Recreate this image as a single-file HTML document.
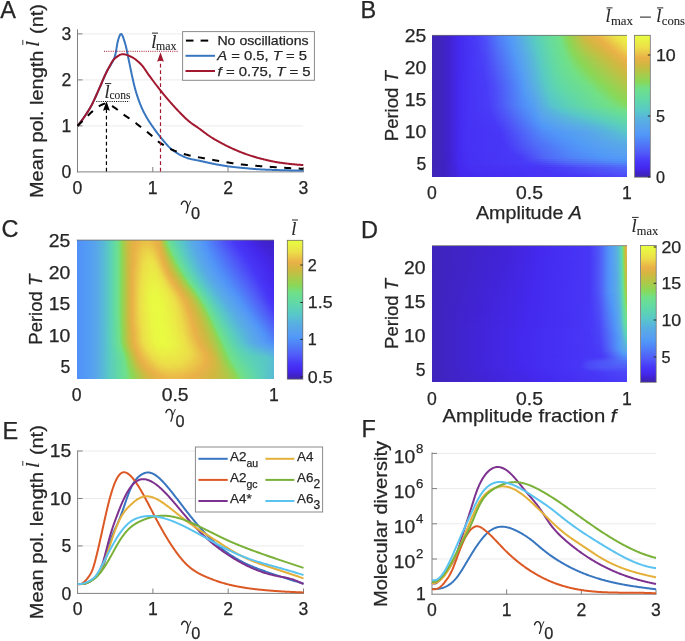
<!DOCTYPE html>
<html><head><meta charset="utf-8"><style>
html,body{margin:0;padding:0;background:#fff;}
#wrap{position:relative;width:685px;height:641px;overflow:hidden;background:#fff;}
svg{position:absolute;left:0;top:0;will-change:transform;}
text{font-family:"Liberation Sans",sans-serif;fill:#262626;stroke:#262626;stroke-width:0.25px;}
.sf{font-family:"Liberation Serif",serif;stroke-width:0.12px;}
</style></head><body><div id="wrap">
<div style="position:absolute;left:432px;top:35.3px;width:195px;height:141.9px;overflow:hidden"><div style="position:absolute;left:0;top:0px;width:195px;height:2.5px;background:linear-gradient(90deg,#3f25b6 0.0%,#3f24bf 4.9%,#4123d2 9.0%,#4429ee 13.6%,#493cf8 22.8%,#4e50f8 27.4%,#5083f8 35.1%,#529af6 40.3%,#58a5eb 43.3%,#58b9d7 47.9%,#59cac4 51.5%,#64daa0 59.2%,#70e088 65.4%,#88d859 69.0%,#c0c044 75.6%,#d3b741 78.2%,#e8b147 82.8%,#eab748 85.4%,#ecd548 91.0%,#ebe447 94.1%,#e9f642 100.0%)"></div><div style="position:absolute;left:0;top:2px;width:195px;height:2.5px;background:linear-gradient(90deg,#3f25b6 0.0%,#3f24bf 4.9%,#4123d2 9.0%,#4429ee 13.6%,#493cf8 22.8%,#4d4ff8 27.4%,#5082f8 35.1%,#529af6 40.3%,#58a4ec 43.3%,#58bad6 48.5%,#59cac3 52.1%,#63daa1 59.2%,#6fe089 65.4%,#7bdc72 67.4%,#89d757 69.5%,#c3be43 76.7%,#d5b741 79.2%,#e9b048 84.9%,#ebc848 90.0%,#ece247 94.6%,#eaf243 100.0%)"></div><div style="position:absolute;left:0;top:4px;width:195px;height:2.5px;background:linear-gradient(90deg,#3f25b6 0.0%,#3f24bf 4.9%,#4123d2 9.0%,#4429ee 13.6%,#493cf8 22.8%,#4d4ef8 27.4%,#507af8 34.1%,#529af6 40.8%,#58a4ec 43.8%,#58b8d8 48.5%,#59cbc2 52.6%,#64daa1 59.7%,#70e088 65.9%,#87d85a 69.5%,#bbc245 76.2%,#d3b741 79.7%,#eab048 86.4%,#ece248 95.6%,#eaee44 100.0%)"></div><div style="position:absolute;left:0;top:6px;width:195px;height:2.5px;background:linear-gradient(90deg,#3f25b6 0.0%,#3f24bf 4.9%,#4123d2 9.0%,#4429ee 13.6%,#493df8 23.3%,#4d4df8 27.4%,#5072f8 33.1%,#529af6 40.8%,#58a3ed 43.8%,#58b9d7 49.0%,#5acbc1 53.1%,#63daa2 59.7%,#6fe089 65.9%,#88d858 70.0%,#bec144 77.2%,#d2b741 80.8%,#eab148 87.9%,#ece148 96.7%,#ebea45 100.0%)"></div><div style="position:absolute;left:0;top:8px;width:195px;height:2.5px;background:linear-gradient(90deg,#3f25b6 0.0%,#3f24bf 4.9%,#4123d2 9.0%,#4429ee 13.6%,#493cf8 23.3%,#4d4ff8 27.9%,#5082f8 36.2%,#529af6 41.3%,#58a4ec 44.4%,#58b7d9 49.0%,#59cac3 53.1%,#64daa1 60.3%,#70e088 66.4%,#89d757 70.5%,#bdc245 77.7%,#d3b741 82.3%,#eab148 89.0%,#ece148 98.2%,#ebe646 100.0%)"></div><div style="position:absolute;left:0;top:10px;width:195px;height:2.5px;background:linear-gradient(90deg,#3f25b6 0.0%,#3f24bf 4.9%,#4123d2 9.0%,#4429ee 13.6%,#493cf8 23.3%,#4d4ef8 27.9%,#5078f8 34.6%,#5199f7 41.3%,#58a3ed 44.4%,#58b9d7 49.5%,#5acbc2 53.6%,#63daa2 60.3%,#70e089 66.4%,#87d85a 70.5%,#b8c446 77.7%,#d2b741 83.3%,#eab048 90.0%,#ece148 99.7%,#ece248 100.0%)"></div><div style="position:absolute;left:0;top:12px;width:195px;height:2.5px;background:linear-gradient(90deg,#3f25b6 0.0%,#3f24bf 4.9%,#4123d2 9.0%,#4429ee 13.6%,#493cf8 23.3%,#4d4df8 27.9%,#5070f8 33.6%,#529af6 41.8%,#58a4ec 44.9%,#58bad6 50.0%,#59cac4 53.6%,#64daa1 60.8%,#70e088 66.9%,#87d859 71.0%,#b9c446 78.7%,#d4b741 85.4%,#eab048 91.0%,#ecdc48 100.0%)"></div><div style="position:absolute;left:0;top:14px;width:195px;height:2.5px;background:linear-gradient(90deg,#3f25b6 0.0%,#3f24bf 4.9%,#4123d2 9.0%,#4429ee 13.6%,#493bf8 23.3%,#4d4cf8 27.9%,#5072f8 34.1%,#5199f7 41.8%,#58a3ed 44.9%,#58b8d8 50.0%,#59cbc2 54.1%,#63daa2 60.8%,#71e085 67.4%,#88d859 71.5%,#b9c446 79.7%,#d3b741 86.4%,#eab248 92.6%,#ecd648 100.0%)"></div><div style="position:absolute;left:0;top:16px;width:195px;height:2.5px;background:linear-gradient(90deg,#3f25b6 0.0%,#3f24bf 4.9%,#4123d2 9.0%,#4429ee 13.6%,#493bf8 23.3%,#4c4bf8 27.9%,#506df8 33.6%,#529af6 42.3%,#58a4ec 45.4%,#58b9d7 50.5%,#5accc1 54.6%,#64daa0 61.3%,#70e088 67.4%,#88d858 72.1%,#b6c547 80.3%,#d4b741 87.9%,#eab148 93.6%,#ebcf48 100.0%)"></div><div style="position:absolute;left:0;top:18px;width:195px;height:2.5px;background:linear-gradient(90deg,#3f25b6 0.0%,#3f24bf 4.9%,#4123d2 9.0%,#4429ee 13.6%,#4837f8 21.8%,#4c47f8 27.4%,#506bf8 33.6%,#5199f7 42.3%,#58a4ec 45.9%,#58bad6 51.0%,#59cbc3 54.6%,#63daa1 61.3%,#71e087 67.9%,#87d859 72.6%,#b2c747 80.8%,#d3b741 89.0%,#eab148 95.1%,#ebc848 100.0%)"></div><div style="position:absolute;left:0;top:20px;width:195px;height:2.5px;background:linear-gradient(90deg,#3f25b6 0.0%,#3f24bf 4.9%,#4123d2 9.0%,#4429ee 13.6%,#4837f7 21.3%,#4b44f8 26.9%,#5069f8 33.6%,#529af6 42.8%,#58a3ed 45.9%,#58b8d8 51.0%,#5acbc1 55.1%,#64daa0 61.8%,#71e085 68.5%,#8ad757 73.6%,#b3c647 82.3%,#d4b741 90.5%,#eab248 96.7%,#ebc148 100.0%)"></div><div style="position:absolute;left:0;top:22px;width:195px;height:2.5px;background:linear-gradient(90deg,#3f25b6 0.0%,#3f24bf 4.9%,#4123d2 9.0%,#4429ee 13.6%,#4837f7 21.3%,#4b43f8 26.9%,#5068f8 33.6%,#529af6 43.3%,#58a4ec 46.4%,#58b9d7 51.5%,#59cbc3 55.1%,#63daa1 61.8%,#70e088 68.5%,#88d858 74.1%,#bcc245 85.9%,#d3b741 91.5%,#eab048 97.7%,#eaba48 100.0%)"></div><div style="position:absolute;left:0;top:24px;width:195px;height:2.5px;background:linear-gradient(90deg,#3f25b6 0.0%,#3f24bf 4.9%,#4123d2 9.0%,#4429ee 13.6%,#4836f7 21.3%,#4b45f8 27.4%,#5069f8 34.1%,#5199f7 43.3%,#58a3ed 46.4%,#58b8d8 51.5%,#5acbc1 55.6%,#63d9a2 61.8%,#70e088 69.0%,#89d757 75.1%,#c1bf44 88.5%,#d3b741 93.1%,#eab248 99.7%,#eab348 100.0%)"></div><div style="position:absolute;left:0;top:26px;width:195px;height:2.5px;background:linear-gradient(90deg,#3f25b6 0.0%,#3f24bf 4.9%,#4123d2 9.0%,#4429ee 13.6%,#4736f7 20.8%,#4a42f8 26.9%,#505ff8 32.6%,#529af6 43.8%,#58a4ec 46.9%,#58b9d7 52.1%,#59cbc2 55.6%,#63daa1 62.3%,#70e088 69.5%,#88d858 75.6%,#c1c044 89.5%,#d4b741 94.6%,#e7b147 100.0%)"></div><div style="position:absolute;left:0;top:28px;width:195px;height:2.5px;background:linear-gradient(90deg,#3f25b6 0.0%,#3f24bf 4.9%,#4123d2 9.0%,#4429ee 13.6%,#4736f7 20.8%,#4a41f8 26.9%,#505bf8 32.1%,#5199f7 43.8%,#58a3ed 46.9%,#58b8d8 52.1%,#59cac4 55.6%,#63d9a3 62.3%,#70e088 70.0%,#89d858 76.7%,#c0c044 90.5%,#d4b741 95.6%,#e3b246 100.0%)"></div><div style="position:absolute;left:0;top:30px;width:195px;height:2.5px;background:linear-gradient(90deg,#3f25b6 0.0%,#3f24bf 4.9%,#4123d2 9.0%,#4429ee 13.6%,#4736f6 20.8%,#4a41f8 26.9%,#4f56f8 31.5%,#529af6 44.4%,#58a4ec 47.4%,#58bad6 52.6%,#59cbc2 56.2%,#63daa2 62.8%,#72df85 71.0%,#89d757 77.7%,#c2bf43 92.1%,#d3b741 96.7%,#dfb345 100.0%)"></div><div style="position:absolute;left:0;top:32px;width:195px;height:2.5px;background:linear-gradient(90deg,#3f25b6 0.0%,#3f24bf 4.9%,#4123d2 9.0%,#4429ee 13.6%,#4735f6 20.3%,#4a3ef8 26.4%,#4e52f8 31.0%,#5199f7 44.4%,#58a3ed 47.4%,#58b8d8 52.6%,#59cac4 56.2%,#63daa1 63.3%,#71e085 71.5%,#88d858 78.2%,#c0c044 92.6%,#d4b741 98.2%,#dab543 100.0%)"></div><div style="position:absolute;left:0;top:34px;width:195px;height:2.5px;background:linear-gradient(90deg,#3f25b6 0.0%,#3f24bf 4.9%,#4123d2 9.0%,#4429ee 13.6%,#4735f6 20.3%,#493ef8 26.4%,#4e51f8 31.0%,#529af6 44.9%,#58a2ee 47.4%,#58b7d9 52.6%,#59cac5 56.2%,#63d9a2 63.3%,#71e087 72.1%,#88d858 79.2%,#c1c044 94.1%,#d3b741 99.2%,#d6b642 100.0%)"></div><div style="position:absolute;left:0;top:36px;width:195px;height:2.5px;background:linear-gradient(90deg,#3f25b6 0.0%,#3f24bf 4.9%,#4123d2 9.0%,#4429ef 13.6%,#4735f6 20.3%,#493df8 26.4%,#4d4ff8 31.0%,#5082f8 40.8%,#529af6 45.4%,#58a3ed 47.9%,#58b6da 52.6%,#59cac3 56.7%,#63daa2 63.8%,#72df85 73.1%,#88d858 80.3%,#c0c044 95.1%,#d2b840 100.0%)"></div><div style="position:absolute;left:0;top:38px;width:195px;height:2.5px;background:linear-gradient(90deg,#3f25b6 0.0%,#3f24bf 4.9%,#4123d2 9.0%,#4429ef 13.6%,#4735f6 20.3%,#493ef8 26.9%,#4e51f8 31.5%,#5199f7 45.4%,#58a2ee 47.9%,#58b7d9 53.1%,#59cac5 56.7%,#63d9a3 63.8%,#71e086 73.6%,#88d858 81.3%,#c1c044 96.7%,#cdba41 100.0%)"></div><div style="position:absolute;left:0;top:40px;width:195px;height:2.5px;background:linear-gradient(90deg,#3f25b6 0.0%,#3f24bf 4.9%,#4123d2 9.0%,#4429ef 13.6%,#4734f6 19.7%,#493df8 26.9%,#4e52f8 32.1%,#529af6 45.9%,#58a3ed 48.5%,#58b6da 53.1%,#59cac3 57.2%,#63d9a2 64.4%,#71e086 74.6%,#88d858 82.3%,#c0c044 97.7%,#c8bc42 100.0%)"></div><div style="position:absolute;left:0;top:42px;width:195px;height:2.5px;background:linear-gradient(90deg,#3f25b6 0.0%,#3f24bf 4.9%,#4123d2 9.0%,#4429ef 13.6%,#4734f6 19.7%,#493df8 26.9%,#4e51f8 32.1%,#5091f8 44.4%,#559df3 46.9%,#58a6ea 49.5%,#58b8d8 53.6%,#59cac5 57.2%,#62d9a4 64.4%,#71e085 75.6%,#8ad757 83.8%,#c1c044 99.2%,#c3be43 100.0%)"></div><div style="position:absolute;left:0;top:44px;width:195px;height:2.5px;background:linear-gradient(90deg,#3f25b6 0.0%,#3f24bf 4.9%,#4123d2 9.0%,#4429ef 13.6%,#4734f5 19.7%,#493cf8 26.9%,#4d4ff8 32.1%,#507df8 41.3%,#529af6 46.4%,#58a4ec 49.0%,#58b7d9 53.6%,#59cac3 57.7%,#61d9a5 64.4%,#71e085 76.7%,#89d858 84.9%,#bec144 100.0%)"></div><div style="position:absolute;left:0;top:46px;width:195px;height:2.5px;background:linear-gradient(90deg,#3f25b6 0.0%,#3f24bf 4.9%,#4123d2 9.0%,#4429ef 13.6%,#4734f5 19.7%,#493cf8 27.4%,#4e50f8 32.6%,#508af8 43.8%,#5199f7 46.4%,#58a3ed 49.0%,#58b8d8 54.1%,#59cac4 57.7%,#61d8a6 64.4%,#6fdf8a 76.2%,#74df80 78.7%,#89d858 85.9%,#b9c346 100.0%)"></div><div style="position:absolute;left:0;top:48px;width:195px;height:2.5px;background:linear-gradient(90deg,#3f25b6 0.0%,#3f24bf 4.9%,#4123d2 9.0%,#4429ef 13.6%,#4734f5 19.7%,#493cf8 27.4%,#4d4ff8 32.6%,#5080f8 42.3%,#529af6 46.9%,#58a2ee 49.0%,#58b7d9 54.1%,#59cbc3 58.2%,#61d9a6 64.9%,#71e087 78.7%,#88d858 86.9%,#b5c647 100.0%)"></div><div style="position:absolute;left:0;top:50px;width:195px;height:2.5px;background:linear-gradient(90deg,#3f25b6 0.0%,#3f24bf 4.9%,#4123d2 9.0%,#4429ef 13.6%,#4734f5 19.7%,#493cf8 27.9%,#4e50f8 33.1%,#5087f8 43.8%,#529af6 46.9%,#58a3ed 49.5%,#58b5db 54.1%,#59cac5 58.2%,#60d8a8 64.9%,#70e087 79.7%,#89d858 88.5%,#b0c848 100.0%)"></div><div style="position:absolute;left:0;top:52px;width:195px;height:2.5px;background:linear-gradient(90deg,#3f25b6 0.0%,#3f24bf 4.9%,#4123d2 9.0%,#4429ef 13.6%,#4734f5 19.7%,#493cf8 27.9%,#4e50f8 33.1%,#508af8 44.4%,#539bf5 47.4%,#58a3ed 50.0%,#58b6da 54.6%,#59cac4 58.7%,#60d7a9 65.4%,#72df85 81.3%,#89d858 89.5%,#abca4a 100.0%)"></div><div style="position:absolute;left:0;top:54px;width:195px;height:2.5px;background:linear-gradient(90deg,#3f25b6 0.0%,#3f24bf 4.9%,#4123d2 9.0%,#4429ef 13.6%,#4734f5 19.7%,#493cf8 27.9%,#4e4ff8 33.1%,#5083f8 43.3%,#529af6 47.4%,#58a2ee 50.0%,#58b7d9 55.1%,#59cac4 59.2%,#5fd7ab 65.9%,#71e085 82.3%,#88d858 90.5%,#a7cc4c 100.0%)"></div><div style="position:absolute;left:0;top:56px;width:195px;height:2.5px;background:linear-gradient(90deg,#3f25b6 0.0%,#3f24bf 4.9%,#4123d2 9.0%,#4429ef 13.6%,#4734f5 19.7%,#493cf8 27.9%,#4d4ff8 33.1%,#5080f8 42.8%,#5199f7 47.4%,#58a4ec 51.0%,#58b8d8 55.6%,#59cac4 59.7%,#5fd7ab 66.9%,#71e086 83.3%,#89d757 92.1%,#a2ce4e 100.0%)"></div><div style="position:absolute;left:0;top:58px;width:195px;height:2.5px;background:linear-gradient(90deg,#3f25b6 0.0%,#3f24bf 4.9%,#4123d2 9.0%,#4429ef 13.6%,#4734f5 19.7%,#493cf8 27.9%,#4d4ff8 33.1%,#507ff8 42.8%,#529af6 47.9%,#58a4ec 51.5%,#58b6da 55.6%,#58c9c6 59.7%,#5fd6ac 67.4%,#71e086 84.4%,#89d858 93.1%,#9dcf4f 100.0%)"></div><div style="position:absolute;left:0;top:60px;width:195px;height:2.5px;background:linear-gradient(90deg,#3f25b6 0.0%,#3f24bf 4.9%,#4123d2 9.0%,#4429ef 13.6%,#4733f5 19.2%,#493bf8 27.9%,#4d4ef8 33.1%,#5079f8 41.8%,#5199f7 47.9%,#58a4ec 52.1%,#58b7d9 56.2%,#58c9c6 60.3%,#5fd6ac 68.5%,#71e087 85.4%,#89d858 94.6%,#99d151 100.0%)"></div><div style="position:absolute;left:0;top:62px;width:195px;height:2.5px;background:linear-gradient(90deg,#3f25b6 0.0%,#3f24bf 4.9%,#4123d2 9.0%,#4429ef 13.6%,#4733f5 19.2%,#493bf8 27.9%,#4d4ef8 33.1%,#5076f8 41.3%,#5199f7 48.5%,#58a4ec 52.6%,#58c9c7 60.8%,#5fd6ac 69.5%,#72df85 86.9%,#88d858 95.6%,#94d353 100.0%)"></div><div style="position:absolute;left:0;top:64px;width:195px;height:2.5px;background:linear-gradient(90deg,#3f25b6 0.0%,#3f24bf 4.9%,#4123d2 9.0%,#4429ef 13.6%,#4733f5 19.2%,#493cf8 28.5%,#4e50f8 33.6%,#508df8 45.9%,#539bf5 49.5%,#58a5eb 53.1%,#58c8c7 61.3%,#5fd7aa 71.5%,#71e086 87.9%,#88d858 97.2%,#90d555 100.0%)"></div><div style="position:absolute;left:0;top:66px;width:195px;height:2.5px;background:linear-gradient(90deg,#3f25b6 0.0%,#3f24bf 4.9%,#4123d2 9.0%,#4429ef 13.6%,#4733f5 19.2%,#493cf8 28.5%,#4d4ff8 33.6%,#507ff8 43.3%,#5199f7 49.5%,#58a6ea 53.6%,#58c7c9 61.3%,#5fd7ab 72.6%,#71e087 89.0%,#89d858 99.2%,#8bd757 100.0%)"></div><div style="position:absolute;left:0;top:68px;width:195px;height:2.5px;background:linear-gradient(90deg,#3f25b6 0.0%,#3f24bf 4.9%,#4123d2 9.0%,#4429ef 13.6%,#4733f5 19.2%,#493cf8 28.5%,#4d4ff8 33.6%,#507ff8 43.3%,#5199f7 50.0%,#58a4ec 53.6%,#58c4cc 61.3%,#5ed4b0 71.5%,#71e085 90.5%,#87d85b 100.0%)"></div><div style="position:absolute;left:0;top:70px;width:195px;height:2.5px;background:linear-gradient(90deg,#3f25b6 0.0%,#3f24bf 4.9%,#4123d2 9.0%,#4429ef 13.6%,#4733f5 19.2%,#493cf8 28.5%,#4d4cf8 33.1%,#506ef8 40.3%,#508ff8 47.4%,#529af6 51.0%,#58a5eb 54.1%,#58c4cc 61.8%,#5cd0b7 69.5%,#67dc99 82.8%,#72df85 92.1%,#83da63 100.0%)"></div><div style="position:absolute;left:0;top:72px;width:195px;height:2.5px;background:linear-gradient(90deg,#3f25b6 0.0%,#3f24bf 4.9%,#4123d2 9.0%,#4429ef 13.6%,#4733f5 19.2%,#493cf8 29.0%,#4d4ff8 34.1%,#5080f8 44.4%,#529af6 51.5%,#58a5eb 54.6%,#58c6ca 64.4%,#64daa1 82.3%,#72df85 95.6%,#7bdc72 100.0%)"></div><div style="position:absolute;left:0;top:74px;width:195px;height:2.5px;background:linear-gradient(90deg,#3f25b6 0.0%,#3f24bf 4.9%,#4123d2 9.0%,#4429ef 13.6%,#4733f5 19.2%,#493cf8 29.5%,#4e51f8 35.1%,#5089f8 47.4%,#529af6 52.1%,#58a5eb 55.1%,#58c7c9 66.9%,#65da9f 86.4%,#72df85 99.2%,#73df82 100.0%)"></div><div style="position:absolute;left:0;top:76px;width:195px;height:2.5px;background:linear-gradient(90deg,#3f25b6 0.0%,#3f24bf 4.9%,#4123d2 9.0%,#4429ef 13.6%,#4732f5 18.7%,#493bf8 29.5%,#4d4ff8 35.1%,#5082f8 46.4%,#529af6 52.6%,#58a3ed 55.1%,#58c7c9 69.5%,#65da9e 90.0%,#6edf8b 100.0%)"></div><div style="position:absolute;left:0;top:78px;width:195px;height:2.5px;background:linear-gradient(90deg,#3f25b6 0.0%,#3f24bf 4.9%,#4123d2 9.0%,#4429ef 13.6%,#4732f4 18.7%,#493bf8 30.0%,#4d4ff8 35.6%,#507ff8 46.4%,#529af6 53.1%,#58a4ec 56.2%,#58c8c7 73.1%,#65db9e 93.6%,#6bde91 100.0%)"></div><div style="position:absolute;left:0;top:80px;width:195px;height:2.5px;background:linear-gradient(90deg,#3f25b6 0.0%,#3f24bf 4.9%,#4123d2 9.0%,#4429ef 13.6%,#4732f4 18.7%,#493af8 30.5%,#4e51f8 36.7%,#5199f7 53.1%,#58a2ee 56.2%,#59cac4 77.7%,#65db9e 96.7%,#68dc97 100.0%)"></div><div style="position:absolute;left:0;top:82px;width:195px;height:2.5px;background:linear-gradient(90deg,#3f25b6 0.0%,#3f24bf 4.9%,#4123d2 9.0%,#4429ef 13.6%,#4732f4 18.7%,#493af8 31.0%,#4e51f8 37.2%,#5093f8 52.6%,#58a0f0 56.2%,#59cbc3 81.8%,#65db9d 100.0%)"></div><div style="position:absolute;left:0;top:84px;width:195px;height:2.5px;background:linear-gradient(90deg,#3f25b6 0.0%,#3f24bf 4.9%,#4123d2 9.0%,#4429ef 13.6%,#4632f4 18.2%,#483af8 31.5%,#4e50f8 37.7%,#5093f8 53.1%,#569ef2 56.2%,#58aae6 63.8%,#59c9c5 83.8%,#62d9a3 100.0%)"></div><div style="position:absolute;left:0;top:86px;width:195px;height:2.5px;background:linear-gradient(90deg,#3f25b6 0.0%,#3f24bf 4.9%,#4123d2 9.0%,#4429ef 13.6%,#4632f4 18.2%,#4839f8 32.1%,#4e52f8 38.7%,#5092f8 53.6%,#539bf5 56.2%,#58a3ed 60.8%,#58bbd5 78.7%,#5accc0 89.5%,#60d7a9 100.0%)"></div><div style="position:absolute;left:0;top:88px;width:195px;height:2.5px;background:linear-gradient(90deg,#3f25b6 0.0%,#3f24bf 4.9%,#4123d2 9.0%,#4429ef 13.6%,#4632f4 18.2%,#4839f8 32.6%,#4e51f8 39.2%,#5091f8 54.1%,#529af6 56.7%,#58a3ed 62.8%,#58b6da 79.2%,#5accc1 92.1%,#5ed4af 100.0%)"></div><div style="position:absolute;left:0;top:90px;width:195px;height:2.5px;background:linear-gradient(90deg,#3f25b6 0.0%,#3f24bf 4.9%,#4123d2 9.0%,#4429ef 13.6%,#4632f4 18.2%,#4838f8 33.1%,#4e51f8 39.7%,#5199f7 57.2%,#58a3ed 65.4%,#58b4dc 81.8%,#5acbc2 94.6%,#5dd1b5 100.0%)"></div><div style="position:absolute;left:0;top:92px;width:195px;height:2.5px;background:linear-gradient(90deg,#3f25b6 0.0%,#3f24bf 4.9%,#4123d2 9.0%,#4429ef 13.6%,#4631f4 17.7%,#4838f8 34.1%,#4f57f8 41.8%,#5097f8 57.7%,#58a2ee 68.5%,#58b4dc 84.9%,#5acbc2 97.2%,#5bcebb 100.0%)"></div><div style="position:absolute;left:0;top:94px;width:195px;height:2.5px;background:linear-gradient(90deg,#3f25b6 0.0%,#3f24bf 4.9%,#4123d2 9.0%,#4429ef 13.6%,#4631f4 17.7%,#4838f8 34.6%,#5064f8 45.9%,#5092f8 57.7%,#539bf5 63.3%,#58a4ec 74.6%,#58b5db 88.5%,#5acbc1 100.0%)"></div><div style="position:absolute;left:0;top:96px;width:195px;height:2.5px;background:linear-gradient(90deg,#3f25b6 0.0%,#3f24bf 4.9%,#4123d2 9.0%,#4429ef 13.6%,#4631f4 17.7%,#4837f7 34.6%,#4c48f8 39.7%,#5069f8 47.9%,#508bf8 56.7%,#5199f7 64.4%,#58a4ec 78.7%,#58b6da 91.5%,#58c8c7 100.0%)"></div><div style="position:absolute;left:0;top:98px;width:195px;height:2.5px;background:linear-gradient(90deg,#3f25b6 0.0%,#3f24bf 4.9%,#4123d2 9.0%,#4429ef 13.6%,#4631f4 17.7%,#4837f7 35.1%,#4d4ff8 41.8%,#507ff8 54.1%,#5095f8 62.8%,#58a4ec 80.3%,#58b6da 93.6%,#58c4cc 100.0%)"></div><div style="position:absolute;left:0;top:100px;width:195px;height:2.5px;background:linear-gradient(90deg,#3f25b6 0.0%,#3f24bf 4.9%,#4123d2 9.0%,#4429ef 13.6%,#4631f4 17.7%,#4836f7 35.1%,#4b46f8 40.3%,#5067f8 48.5%,#5087f8 57.7%,#5199f7 67.9%,#58a4ec 81.3%,#58b6da 95.6%,#58bed2 100.0%)"></div><div style="position:absolute;left:0;top:102px;width:195px;height:2.5px;background:linear-gradient(90deg,#3f25b6 0.0%,#3f24bf 4.9%,#4123d2 9.0%,#4429ef 13.6%,#4631f4 17.7%,#4837f7 35.6%,#4c49f8 41.3%,#5069f8 49.5%,#5087f8 59.2%,#5199f7 70.0%,#58a4ec 82.8%,#58b7d9 98.7%,#58b9d7 100.0%)"></div><div style="position:absolute;left:0;top:104px;width:195px;height:2.5px;background:linear-gradient(90deg,#3f25b6 0.0%,#3f24bf 4.9%,#4123d2 9.0%,#4429ef 13.6%,#4631f4 17.7%,#4837f7 36.2%,#4d4df8 42.8%,#5071f8 52.6%,#508bf8 62.8%,#529af6 72.6%,#58a3ed 84.4%,#58b4dc 100.0%)"></div><div style="position:absolute;left:0;top:106px;width:195px;height:2.5px;background:linear-gradient(90deg,#3f25b6 0.0%,#3f24bf 4.9%,#4123d2 9.0%,#4429ef 13.6%,#4631f4 17.7%,#4837f7 36.7%,#4d4df8 43.3%,#506ef8 52.6%,#508cf8 64.9%,#529af6 74.6%,#58a3ed 86.4%,#58afe1 100.0%)"></div><div style="position:absolute;left:0;top:108px;width:195px;height:2.5px;background:linear-gradient(90deg,#3f25b6 0.0%,#3f24bf 4.9%,#4123d2 9.0%,#4429ef 13.6%,#4631f4 17.7%,#4837f7 37.2%,#4d4df8 43.8%,#506af8 52.1%,#508df8 66.9%,#529af6 76.2%,#58a3ed 88.5%,#58ace4 100.0%)"></div><div style="position:absolute;left:0;top:110px;width:195px;height:2.5px;background:linear-gradient(90deg,#3f25b6 0.0%,#3f24bf 4.9%,#4123d2 9.0%,#4429ef 13.6%,#4631f4 17.7%,#4837f7 37.7%,#4d4df8 44.4%,#5065f8 51.5%,#508df8 69.0%,#529af6 78.2%,#58a3ed 91.0%,#58a8e8 100.0%)"></div><div style="position:absolute;left:0;top:112px;width:195px;height:2.5px;background:linear-gradient(90deg,#3f25b6 0.0%,#3f24bf 4.9%,#4123d2 9.0%,#4429ef 13.6%,#4631f4 17.7%,#4837f7 38.2%,#4e51f8 46.4%,#5070f8 56.7%,#5090f8 72.1%,#539bf5 80.8%,#58a3ed 94.6%,#58a6ea 100.0%)"></div><div style="position:absolute;left:0;top:114px;width:195px;height:2.5px;background:linear-gradient(90deg,#3f25b6 0.0%,#3f24bf 4.9%,#4022cf 8.5%,#4429ef 13.6%,#4631f4 18.2%,#4837f8 38.7%,#4d4ff8 46.9%,#5070f8 57.7%,#5090f8 73.6%,#529af6 82.3%,#58a3ed 97.7%,#58a4ec 100.0%)"></div><div style="position:absolute;left:0;top:116px;width:195px;height:2.5px;background:linear-gradient(90deg,#3f25b6 0.0%,#3f24bf 4.9%,#4022cf 8.5%,#4429ef 13.6%,#4631f3 18.2%,#4838f8 39.7%,#4d4cf8 47.4%,#506bf8 56.7%,#508bf8 72.1%,#529af6 83.8%,#58a2ee 100.0%)"></div><div style="position:absolute;left:0;top:118px;width:195px;height:2.5px;background:linear-gradient(90deg,#3f25b6 0.0%,#3f24bf 4.9%,#4022cf 8.5%,#4429ef 13.6%,#4630f3 18.2%,#4838f8 41.3%,#4c47f8 47.4%,#5066f8 55.6%,#5086f8 70.5%,#5199f7 85.9%,#58a0f0 100.0%)"></div><div style="position:absolute;left:0;top:120px;width:195px;height:2.5px;background:linear-gradient(90deg,#3f25b6 0.0%,#3f24bf 4.9%,#4022cf 8.5%,#4429ee 13.6%,#4630f3 18.7%,#4839f8 43.3%,#4b47f8 48.5%,#5065f8 56.2%,#5085f8 71.5%,#5199f7 88.5%,#569ef2 100.0%)"></div><div style="position:absolute;left:0;top:122px;width:195px;height:2.5px;background:linear-gradient(90deg,#3f25b6 0.0%,#3f24bf 4.9%,#4022cf 8.5%,#4429ee 13.6%,#4630f3 18.7%,#4839f8 45.4%,#4d4ff8 51.5%,#5066f8 57.7%,#5085f8 74.1%,#5199f7 93.1%,#539bf5 100.0%)"></div><div style="position:absolute;left:0;top:124px;width:195px;height:2.5px;background:linear-gradient(90deg,#3f25b6 0.0%,#3f24bf 4.9%,#4022cf 8.5%,#4429ee 13.6%,#4630f3 18.7%,#483af8 45.9%,#4e52f8 54.6%,#5070f8 66.9%,#508bf8 86.4%,#5096f8 100.0%)"></div><div style="position:absolute;left:0;top:126px;width:195px;height:2.5px;background:linear-gradient(90deg,#3f25b6 0.0%,#3f24bf 4.9%,#4022cf 8.5%,#4429ee 13.6%,#4631f3 19.2%,#493bf8 47.4%,#4d4cf8 56.2%,#506af8 69.0%,#5088f8 92.6%,#508df8 100.0%)"></div><div style="position:absolute;left:0;top:128px;width:195px;height:2.5px;background:linear-gradient(90deg,#3f25b6 0.0%,#3f23c0 5.4%,#4224da 10.5%,#4428ee 13.6%,#4630f3 18.7%,#493bf8 51.5%,#5061f8 71.0%,#5080f8 98.7%,#5081f8 100.0%)"></div><div style="position:absolute;left:0;top:130px;width:195px;height:2.5px;background:linear-gradient(90deg,#3f25b6 0.0%,#3f23c2 5.9%,#4225de 11.5%,#4429ee 14.1%,#462ff2 19.2%,#4839f8 55.1%,#505df8 78.7%,#5072f8 100.0%)"></div><div style="position:absolute;left:0;top:132px;width:195px;height:2.5px;background:linear-gradient(90deg,#3f25b6 0.0%,#3f23c2 5.9%,#4225dc 11.5%,#4428ee 14.1%,#462ef2 19.2%,#4837f7 58.2%,#5063f8 96.2%,#5066f8 100.0%)"></div><div style="position:absolute;left:0;top:134px;width:195px;height:2.5px;background:linear-gradient(90deg,#3f25b6 0.0%,#3f23c4 6.4%,#4226e1 12.6%,#4429ef 14.6%,#462ef2 21.8%,#4836f7 59.2%,#5060f8 100.0%)"></div><div style="position:absolute;left:0;top:136px;width:195px;height:2.5px;background:linear-gradient(90deg,#3f25b6 0.0%,#3f23c4 6.4%,#4225e0 12.6%,#4428ee 14.6%,#452df1 21.8%,#4736f7 60.8%,#505af8 100.0%)"></div><div style="position:absolute;left:0;top:138px;width:195px;height:2.5px;background:linear-gradient(90deg,#3f25b6 0.0%,#4023c5 6.9%,#4225df 12.6%,#4429ef 15.1%,#462ff2 34.6%,#4837f7 66.9%,#4e53f8 100.0%)"></div><div style="position:absolute;left:0;top:140px;width:195px;height:1.9px;background:linear-gradient(90deg,#3f25b6 0.0%,#4023c5 6.9%,#4225dd 12.6%,#4428ee 15.1%,#452ef2 36.2%,#4838f8 75.6%,#4d4cf8 100.0%)"></div></div>
<div style="position:absolute;left:76.6px;top:240px;width:197.2px;height:139.4px;overflow:hidden"><div style="position:absolute;left:0;top:0px;width:197.2px;height:2.5px;background:linear-gradient(90deg,#5091f8 0.0%,#539bf5 5.3%,#58a5eb 9.4%,#58b6da 12.9%,#5bcdbd 16.5%,#63daa2 19.0%,#6fe089 21.0%,#8cd757 22.6%,#b8c446 24.6%,#d4b741 26.6%,#e6b147 29.2%,#eab248 30.2%,#ebc248 33.7%,#ebc148 36.8%,#eab448 39.8%,#e8b147 40.8%,#e1b345 41.8%,#dab543 42.3%,#cdb941 42.8%,#9dd050 44.4%,#8fd555 44.9%,#83da62 45.4%,#70e088 46.4%,#5fd5ae 49.9%,#58c3cd 54.0%,#58ace4 58.1%,#569ef2 62.1%,#5094f8 64.7%,#4e51f8 75.3%,#4839f8 79.9%,#4428ee 87.5%,#4123d4 93.1%,#4022cb 98.1%,#4022cc 100.0%)"></div><div style="position:absolute;left:0;top:2px;width:197.2px;height:2.5px;background:linear-gradient(90deg,#5091f8 0.0%,#539bf5 5.3%,#58a5eb 9.4%,#58b6da 12.9%,#5bcdbd 16.5%,#63daa2 19.0%,#6fe089 21.0%,#8cd757 22.6%,#b8c446 24.6%,#d4b741 26.6%,#e6b147 29.2%,#eab248 30.2%,#ebc248 33.7%,#ebc148 36.8%,#eab448 39.8%,#e8b147 40.8%,#e1b345 41.8%,#dab543 42.3%,#cdb941 42.8%,#9dd050 44.4%,#8fd555 44.9%,#83da62 45.4%,#70e088 46.4%,#5fd5ae 49.9%,#58c3cd 54.0%,#58ace4 58.1%,#569ef2 62.1%,#5094f8 64.7%,#4e51f8 75.3%,#4839f8 79.9%,#4428ee 87.5%,#4123d4 93.1%,#4022cb 98.1%,#4022cc 100.0%)"></div><div style="position:absolute;left:0;top:4px;width:197.2px;height:2.5px;background:linear-gradient(90deg,#5091f8 0.0%,#539bf5 5.3%,#58a5eb 9.4%,#58b6da 12.9%,#5bcdbd 16.5%,#63daa2 19.0%,#6fe089 21.0%,#8bd757 22.6%,#b7c446 24.6%,#d4b741 26.6%,#e7b147 29.2%,#eab048 29.7%,#ebc348 33.2%,#ebc648 36.3%,#eaba48 39.3%,#eab048 40.8%,#ddb444 42.3%,#d4b741 42.8%,#b5c547 43.9%,#8cd757 45.4%,#77de7b 46.4%,#6fe08a 46.9%,#5ed5af 50.5%,#58c5cb 54.0%,#58ade3 58.1%,#579ff1 62.1%,#5093f8 65.2%,#4e52f8 75.8%,#4838f8 80.9%,#4428ec 88.5%,#4123d4 94.1%,#4022cd 98.6%,#4022ce 100.0%)"></div><div style="position:absolute;left:0;top:6px;width:197.2px;height:2.5px;background:linear-gradient(90deg,#5091f8 0.0%,#539bf5 5.3%,#58a5eb 9.4%,#58b6da 12.9%,#5bcdbd 16.5%,#63daa1 19.0%,#6fe089 21.0%,#8bd757 22.6%,#b7c546 24.6%,#ceb941 26.1%,#e2b246 28.1%,#eab248 29.7%,#ebc648 33.2%,#ebcb48 35.8%,#ebc448 38.3%,#e8b147 41.3%,#d9b543 42.8%,#ceb941 43.4%,#96d252 45.4%,#8ad757 45.9%,#75de7d 46.9%,#6fdf8a 47.4%,#5ed4af 51.0%,#58c4cc 54.5%,#58ade3 58.6%,#579ff1 62.6%,#5093f8 65.7%,#4e50f8 76.8%,#4837f7 81.9%,#4428ec 89.5%,#4123d5 95.1%,#4022cf 100.0%)"></div><div style="position:absolute;left:0;top:8px;width:197.2px;height:2.5px;background:linear-gradient(90deg,#5091f8 0.0%,#539bf5 5.3%,#58a5eb 9.4%,#58b6da 12.9%,#5bcdbd 16.5%,#63daa1 19.0%,#6fe089 21.0%,#8ad757 22.6%,#b6c546 24.6%,#ceb941 26.1%,#e3b246 28.1%,#e9b048 29.2%,#ebcb48 33.7%,#ebcf48 36.3%,#ebc548 38.8%,#eab148 41.3%,#ddb444 42.8%,#c9bc42 43.9%,#88d858 46.4%,#74df7f 47.4%,#6edf8b 47.9%,#5ed4b0 51.5%,#58c0d0 55.5%,#58ace4 59.1%,#569ef2 63.1%,#5093f8 66.2%,#4e51f8 77.3%,#4838f8 82.4%,#4428ed 90.0%,#4124d7 95.6%,#4023d1 100.0%)"></div><div style="position:absolute;left:0;top:10px;width:197.2px;height:2.5px;background:linear-gradient(90deg,#5091f8 0.0%,#539bf5 5.3%,#58a5eb 9.4%,#58b6da 12.9%,#5bcdbd 16.5%,#63daa1 19.0%,#6fe089 21.0%,#8ad757 22.6%,#b5c547 24.6%,#d4b741 26.6%,#e7b147 28.7%,#eab048 29.2%,#ebcc48 33.2%,#ebd348 36.3%,#ebca48 38.8%,#e9b048 41.8%,#d9b543 43.4%,#d0b840 43.9%,#93d454 46.4%,#87d85a 46.9%,#74df81 47.9%,#6edf8c 48.4%,#5fd6ac 51.5%,#58c3cd 55.5%,#58ace4 59.6%,#569ef2 63.6%,#5092f8 66.7%,#4e52f8 77.8%,#4838f8 82.9%,#4428ec 91.0%,#4124d7 96.6%,#4123d3 100.0%)"></div><div style="position:absolute;left:0;top:12px;width:197.2px;height:2.5px;background:linear-gradient(90deg,#5091f8 0.0%,#539bf5 5.3%,#58a5eb 9.4%,#58b6da 12.9%,#5bcdbd 16.5%,#63daa1 19.0%,#6fe089 21.0%,#8ad757 22.6%,#b5c647 24.6%,#d4b741 26.6%,#e8b147 28.7%,#eab648 29.7%,#ebd048 33.7%,#ecd748 36.3%,#ebd148 38.3%,#ebbd48 40.8%,#eab348 41.8%,#e3b246 42.8%,#d6b642 43.9%,#c1c044 44.9%,#92d454 46.9%,#86d95c 47.4%,#73df82 48.4%,#6edf8c 48.9%,#5fd6ac 52.0%,#58c2ce 56.0%,#58ade3 59.6%,#569ef2 64.1%,#5092f8 67.2%,#4e50f8 78.9%,#4837f8 83.9%,#4428ec 92.0%,#4124d8 97.6%,#4123d4 100.0%)"></div><div style="position:absolute;left:0;top:14px;width:197.2px;height:2.5px;background:linear-gradient(90deg,#5091f8 0.0%,#539bf5 5.3%,#58a5eb 9.4%,#58b6da 12.9%,#5bcdbd 16.5%,#63daa1 19.0%,#6fe089 21.0%,#89d858 22.6%,#bdc145 25.1%,#d4b741 26.6%,#e9b048 28.7%,#ebd348 33.7%,#ecda48 36.3%,#ecd648 38.3%,#ebc248 40.8%,#eab148 42.3%,#dab543 43.9%,#c9bb42 44.9%,#91d454 47.4%,#86d95d 47.9%,#73df83 48.9%,#6bdd92 49.9%,#5ed3b1 53.0%,#58c2ce 56.5%,#58ade3 60.1%,#569ef2 64.7%,#5095f8 67.2%,#4e51f8 79.4%,#4838f8 84.4%,#4428ed 92.5%,#4124d9 98.1%,#4124d6 100.0%)"></div><div style="position:absolute;left:0;top:16px;width:197.2px;height:2.5px;background:linear-gradient(90deg,#5091f8 0.0%,#539bf5 5.3%,#58a5eb 9.4%,#58b6da 12.9%,#5bcdbd 16.5%,#63daa1 19.0%,#6fe089 21.0%,#89d858 22.6%,#bdc245 25.1%,#d4b741 26.6%,#e9b048 28.7%,#ecd548 33.7%,#ecde48 36.8%,#ecd748 38.8%,#ebc148 41.3%,#e9b048 42.8%,#d0b840 44.9%,#a7cc4c 46.9%,#90d555 47.9%,#85d95e 48.4%,#73df83 49.4%,#6bdd92 50.5%,#5ed3b2 53.5%,#58c1cf 57.0%,#58ade3 60.6%,#559df3 65.2%,#5092f8 68.2%,#4e52f8 79.9%,#4837f8 85.4%,#4428ec 93.6%,#4124d9 99.1%,#4124d8 100.0%)"></div><div style="position:absolute;left:0;top:18px;width:197.2px;height:2.5px;background:linear-gradient(90deg,#5091f8 0.0%,#539bf5 5.3%,#58a5eb 9.4%,#58b6da 12.9%,#5bcdbd 16.5%,#63daa1 19.0%,#6fe089 21.0%,#89d858 22.6%,#bcc245 25.1%,#d4b741 26.6%,#eab048 28.7%,#ecd448 33.2%,#ece048 36.3%,#ecde48 38.3%,#ebcb48 40.8%,#eab348 42.8%,#e2b246 43.9%,#ceb941 45.4%,#a6cc4c 47.4%,#90d555 48.4%,#85d95e 48.9%,#73df83 49.9%,#6bdd92 51.0%,#5ed3b2 54.0%,#58c1cf 57.6%,#58ade3 61.1%,#579ff1 65.2%,#5095f8 68.2%,#4e50f8 80.9%,#4838f8 86.0%,#4428ed 94.1%,#4224da 99.6%,#4124d9 100.0%)"></div><div style="position:absolute;left:0;top:20px;width:197.2px;height:2.5px;background:linear-gradient(90deg,#5091f8 0.0%,#539bf5 5.3%,#58a5eb 9.4%,#58b6da 12.9%,#5bcdbd 16.5%,#63daa1 19.0%,#6fe089 21.0%,#88d858 22.6%,#bcc245 25.1%,#d4b741 26.6%,#eab048 28.7%,#ecd648 33.2%,#ece148 35.8%,#ece048 38.8%,#ebca48 41.3%,#eab148 43.4%,#d4b741 45.4%,#b0c848 47.4%,#90d555 48.9%,#85d95e 49.4%,#73df82 50.5%,#6bde92 51.5%,#5ed3b2 54.5%,#58c1cf 58.1%,#58ade3 61.6%,#579ff1 65.7%,#5095f8 68.7%,#4e51f8 81.4%,#4838f8 86.5%,#4428eb 95.1%,#4225db 100.0%)"></div><div style="position:absolute;left:0;top:22px;width:197.2px;height:2.5px;background:linear-gradient(90deg,#5091f8 0.0%,#539bf5 5.3%,#58a5eb 9.4%,#58b6da 12.9%,#5bcdbd 16.5%,#63daa1 19.0%,#6fe089 21.0%,#88d858 22.6%,#bcc245 25.1%,#d3b741 26.6%,#eab148 28.7%,#ecd848 33.2%,#ece248 35.2%,#ece447 38.3%,#ecde48 39.8%,#ebbd48 42.8%,#eab048 43.9%,#d2b741 45.9%,#a6cc4c 48.4%,#91d555 49.4%,#86d95d 49.9%,#73df82 51.0%,#6edf8c 51.5%,#5fd6ad 54.5%,#58c1cf 58.6%,#58ade3 62.1%,#579ff1 66.2%,#5093f8 69.7%,#4e52f8 81.9%,#4837f8 87.5%,#4428ec 95.6%,#4225dc 100.0%)"></div><div style="position:absolute;left:0;top:24px;width:197.2px;height:2.5px;background:linear-gradient(90deg,#5091f8 0.0%,#539bf5 5.3%,#58a5eb 9.4%,#58b6da 12.9%,#5bcdbd 16.5%,#63daa1 19.0%,#6fe089 21.0%,#88d858 22.6%,#bbc245 25.1%,#d3b741 26.6%,#eab148 28.7%,#ecdd48 33.7%,#ebe647 36.8%,#ece347 39.3%,#ecd948 40.8%,#eab448 43.9%,#e8b147 44.4%,#d1b840 46.4%,#a6cc4c 48.9%,#91d454 49.9%,#86d95c 50.5%,#74df80 51.5%,#6edf8b 52.0%,#5fd6ad 55.0%,#58c1cf 59.1%,#58ade3 62.6%,#559df3 67.2%,#5093f8 70.2%,#4e50f8 82.9%,#4838f8 88.0%,#4428ed 96.1%,#4225de 100.0%)"></div><div style="position:absolute;left:0;top:26px;width:197.2px;height:2.5px;background:linear-gradient(90deg,#5091f8 0.0%,#539bf5 5.3%,#58a5eb 9.4%,#58b6da 12.9%,#5bcdbd 16.5%,#63daa1 19.0%,#6fe089 21.0%,#88d858 22.6%,#bbc245 25.1%,#d3b741 26.6%,#e7b147 28.1%,#eab248 28.7%,#ecde48 33.7%,#ebe746 37.3%,#ece347 39.8%,#ecd848 41.3%,#eab348 44.4%,#e2b345 45.4%,#d0b840 46.9%,#a6cc4c 49.4%,#87d85a 51.0%,#75de7f 52.0%,#6fdf8b 52.5%,#5fd6ac 55.5%,#58c1cf 59.6%,#58ade3 63.1%,#569ef2 67.7%,#5093f8 70.7%,#4e51f8 83.4%,#4838f8 88.5%,#4428ed 96.6%,#4225df 100.0%)"></div><div style="position:absolute;left:0;top:28px;width:197.2px;height:2.5px;background:linear-gradient(90deg,#5091f8 0.0%,#539bf5 5.3%,#58a5eb 9.4%,#58b6da 12.9%,#5bcdbd 16.5%,#63daa1 19.0%,#6fe089 21.0%,#88d858 22.6%,#bbc245 25.1%,#d3b741 26.6%,#e7b147 28.1%,#eab848 29.2%,#ecdf48 33.7%,#ebe946 37.8%,#ece347 40.3%,#ecd748 41.8%,#eab148 44.9%,#cfb840 47.4%,#a7cc4c 49.9%,#88d858 51.5%,#76de7d 52.5%,#6fdf8a 53.0%,#5ed4b1 56.5%,#58c1cf 60.1%,#58ade3 63.6%,#569ef2 68.2%,#5094f8 71.2%,#4e52f8 83.9%,#4837f7 89.5%,#4428ed 97.1%,#4226e1 100.0%)"></div><div style="position:absolute;left:0;top:30px;width:197.2px;height:2.5px;background:linear-gradient(90deg,#5091f8 0.0%,#539bf5 5.3%,#58a5eb 9.4%,#58b6da 12.9%,#5bcdbd 16.5%,#63daa1 19.0%,#6fe089 21.0%,#88d858 22.6%,#bbc245 25.1%,#d4b741 26.6%,#e7b147 28.1%,#ebbd48 29.7%,#ece048 33.7%,#ebea45 37.8%,#ebe647 40.3%,#ecdc48 41.8%,#eab048 45.4%,#cfb940 47.9%,#a8cb4b 50.5%,#89d757 52.0%,#6fe089 53.5%,#5ed4b0 57.0%,#58c2ce 60.6%,#58ade3 64.1%,#569ef2 68.7%,#5092f8 72.3%,#4e53f8 84.4%,#4837f7 90.0%,#4428ed 97.6%,#4326e2 100.0%)"></div><div style="position:absolute;left:0;top:32px;width:197.2px;height:2.5px;background:linear-gradient(90deg,#5091f8 0.0%,#539bf5 5.3%,#58a5eb 9.4%,#58b6da 12.9%,#5bcdbd 16.5%,#63daa1 19.0%,#6fe089 21.0%,#88d858 22.6%,#bbc345 25.1%,#d4b741 26.6%,#e8b147 28.1%,#ebcd48 31.2%,#ece148 33.7%,#eaec45 37.8%,#ebe846 40.3%,#ecdc48 42.3%,#eab048 45.9%,#cfb840 48.4%,#aacb4b 51.0%,#8cd757 52.5%,#82da64 53.0%,#70e087 54.0%,#5ed4af 57.6%,#58bfd1 61.6%,#58abe5 65.2%,#569ef2 69.2%,#5092f8 72.8%,#4e50f8 85.4%,#4837f8 90.5%,#4428ec 98.1%,#4326e4 100.0%)"></div><div style="position:absolute;left:0;top:34px;width:197.2px;height:2.5px;background:linear-gradient(90deg,#5091f8 0.0%,#539bf5 5.3%,#58a5eb 9.4%,#58b6da 12.9%,#5bcdbd 16.5%,#63daa1 19.0%,#6fe089 21.0%,#88d858 22.6%,#bbc345 25.1%,#d4b741 26.6%,#e8b147 28.1%,#ece048 33.2%,#eaec45 37.3%,#ebea45 40.3%,#ece048 42.3%,#eab048 46.4%,#d0b840 48.9%,#a3cd4d 52.0%,#8fd555 53.0%,#84d95f 53.5%,#72df83 54.5%,#6bdd92 55.5%,#5dd2b3 58.6%,#58c0d0 62.1%,#58ace4 65.7%,#579ff1 69.7%,#5093f8 73.3%,#4e51f8 86.0%,#4837f8 91.0%,#4428ec 98.6%,#4326e5 100.0%)"></div><div style="position:absolute;left:0;top:36px;width:197.2px;height:2.5px;background:linear-gradient(90deg,#5091f8 0.0%,#539bf5 5.3%,#58a5eb 9.4%,#58b6da 12.9%,#5bcdbd 16.5%,#63daa1 19.0%,#6fe089 21.0%,#88d858 22.6%,#bbc345 25.1%,#d4b741 26.6%,#e8b147 28.1%,#ece148 33.2%,#eaee44 37.3%,#eaec45 40.3%,#ece048 42.8%,#eab148 46.9%,#cbba41 49.9%,#a6cc4c 52.5%,#87d859 54.0%,#75de7e 55.0%,#6fdf8a 55.5%,#5fd6ac 58.6%,#58c4cc 62.1%,#58ace4 66.2%,#569ef2 70.7%,#5091f8 74.3%,#4e52f8 86.5%,#4838f8 91.5%,#4427eb 99.1%,#4327e7 100.0%)"></div><div style="position:absolute;left:0;top:38px;width:197.2px;height:2.5px;background:linear-gradient(90deg,#5091f8 0.0%,#539bf5 5.3%,#58a5eb 9.4%,#58b6da 12.9%,#5bcdbd 16.5%,#63daa1 19.0%,#6fe089 21.0%,#88d859 22.6%,#bbc345 25.1%,#d4b741 26.6%,#e9b048 28.1%,#ece148 33.2%,#eaef44 37.3%,#eaee44 40.3%,#ece148 43.4%,#eab248 47.4%,#d8b543 49.4%,#c7bd42 51.0%,#a0ce4e 53.5%,#8bd757 54.5%,#78dd77 55.5%,#70e088 56.0%,#5ed4b0 59.6%,#58c2ce 63.1%,#58ade3 66.7%,#569ef2 71.2%,#5092f8 74.8%,#4f56f8 86.5%,#4838f8 92.0%,#4428ed 99.1%,#4327e8 100.0%)"></div><div style="position:absolute;left:0;top:40px;width:197.2px;height:2.5px;background:linear-gradient(90deg,#5091f8 0.0%,#539bf5 5.3%,#58a5eb 9.4%,#58b6da 12.9%,#5bcdbd 16.5%,#63daa1 19.0%,#6fe089 21.0%,#88d859 22.6%,#bbc345 25.1%,#d4b741 26.6%,#e9b048 28.1%,#ecdf48 32.7%,#eaef44 36.8%,#eaf144 39.8%,#ece447 43.4%,#ebd148 45.4%,#eab448 47.9%,#e8b147 48.4%,#cfb840 51.0%,#a4cd4d 54.0%,#90d555 55.0%,#85d95e 55.5%,#73df82 56.5%,#6bde92 57.6%,#5dd2b3 60.6%,#58bfd1 64.1%,#58ace4 67.7%,#559df3 72.3%,#5094f8 75.3%,#4f57f8 87.0%,#4838f8 92.5%,#4428ec 99.6%,#4427ea 100.0%)"></div><div style="position:absolute;left:0;top:42px;width:197.2px;height:2.5px;background:linear-gradient(90deg,#5091f8 0.0%,#539bf5 5.3%,#58a5eb 9.4%,#58b6da 12.9%,#5bcdbd 16.5%,#63daa1 19.0%,#6fe089 21.0%,#88d859 22.6%,#bbc345 25.1%,#d4b741 26.6%,#e9b048 28.1%,#ece048 32.7%,#eaf144 37.3%,#eaf044 40.8%,#ece148 44.4%,#eab048 48.9%,#ccba41 52.0%,#a8cb4b 54.5%,#89d757 56.0%,#77de7b 57.0%,#6fe089 57.6%,#5fd6ac 60.6%,#58c4cc 64.1%,#58ade3 68.2%,#569ef2 72.8%,#5092f8 76.3%,#4f57f8 87.5%,#4838f8 93.1%,#4428ec 100.0%)"></div><div style="position:absolute;left:0;top:44px;width:197.2px;height:2.5px;background:linear-gradient(90deg,#5091f8 0.0%,#539bf5 5.3%,#58a5eb 9.4%,#58b6da 12.9%,#5bcdbd 16.5%,#63daa1 19.0%,#6fe089 21.0%,#88d859 22.6%,#bbc345 25.1%,#d4b741 26.6%,#e9b048 28.1%,#ece148 32.7%,#eaf243 37.3%,#eaf243 40.8%,#ece248 44.9%,#eab248 49.4%,#ceb940 52.5%,#a3cd4d 55.5%,#8ed555 56.5%,#84d960 57.0%,#72df85 58.1%,#62d9a4 60.6%,#58c9c7 64.1%,#58aee2 68.7%,#579ff1 73.3%,#5093f8 76.8%,#5058f8 88.0%,#4838f8 93.6%,#4428ee 100.0%)"></div><div style="position:absolute;left:0;top:46px;width:197.2px;height:2.5px;background:linear-gradient(90deg,#5091f8 0.0%,#539bf5 5.3%,#58a5eb 9.4%,#58b6da 12.9%,#5bcdbd 16.5%,#63daa1 19.0%,#6fe089 21.0%,#88d859 22.6%,#bbc345 25.1%,#d4b741 26.6%,#eab048 28.1%,#ece148 32.7%,#e9f343 37.3%,#e9f443 40.8%,#ece247 45.4%,#e8b048 50.5%,#cbba41 53.5%,#a7cc4c 56.0%,#88d858 57.6%,#75de7d 58.6%,#6fdf8a 59.1%,#5fd5ad 62.1%,#58c3cd 65.7%,#58ade3 69.7%,#569ef2 74.3%,#5092f8 77.8%,#5059f8 88.5%,#4838f8 94.1%,#4429ef 100.0%)"></div><div style="position:absolute;left:0;top:48px;width:197.2px;height:2.5px;background:linear-gradient(90deg,#5091f8 0.0%,#539bf5 5.3%,#58a5eb 9.4%,#58b6da 12.9%,#5bcdbd 16.5%,#63daa1 19.0%,#6fe089 21.0%,#88d859 22.6%,#bac345 25.1%,#d4b741 26.6%,#eab048 28.1%,#ecde48 32.2%,#eaf243 36.3%,#e9f642 39.8%,#eaec45 43.9%,#ecdf48 46.4%,#eab048 51.0%,#ceb941 54.0%,#a2ce4e 57.0%,#8dd656 58.1%,#83da62 58.6%,#71e087 59.6%,#5ed4b0 63.1%,#58c1cf 66.7%,#58aee2 70.2%,#569ef2 75.3%,#5094f8 78.3%,#505af8 89.0%,#4838f8 94.6%,#442aef 100.0%)"></div><div style="position:absolute;left:0;top:50px;width:197.2px;height:2.5px;background:linear-gradient(90deg,#5091f8 0.0%,#539bf5 5.3%,#58a5eb 9.4%,#58b6da 12.9%,#5bcdbd 16.5%,#63daa1 19.0%,#6fe089 21.0%,#88d859 22.6%,#bac345 25.1%,#d4b741 26.6%,#eab048 28.1%,#ecdf48 32.2%,#eaf243 36.3%,#e9f742 39.8%,#eaee44 43.9%,#ece048 46.9%,#eab248 51.5%,#dab543 53.5%,#cabb41 55.0%,#a6cc4c 57.6%,#87d85a 59.1%,#74df80 60.1%,#6edf8b 60.6%,#5ed5ae 63.6%,#58c3cd 67.2%,#58ade3 71.2%,#569ef2 75.8%,#5092f8 79.4%,#505bf8 89.5%,#4838f8 95.1%,#452bf0 100.0%)"></div><div style="position:absolute;left:0;top:52px;width:197.2px;height:2.5px;background:linear-gradient(90deg,#5091f8 0.0%,#539bf5 5.3%,#58a5eb 9.4%,#58b6da 12.9%,#5bcdbd 16.5%,#63daa1 19.0%,#6fe089 21.0%,#88d859 22.6%,#bac345 25.1%,#d4b741 26.6%,#eab048 28.1%,#ecdf48 32.2%,#e9f543 36.8%,#e9f842 40.3%,#eaec45 44.9%,#ecdc48 47.9%,#e9b048 52.5%,#cdba41 55.5%,#aaca4a 58.1%,#8cd757 59.6%,#81da65 60.1%,#70e089 61.1%,#5fd6ac 64.1%,#58c4cc 67.7%,#58aee2 71.8%,#569ef2 76.8%,#5094f8 79.9%,#505bf8 90.0%,#4838f8 95.6%,#452cf0 100.0%)"></div><div style="position:absolute;left:0;top:54px;width:197.2px;height:2.5px;background:linear-gradient(90deg,#5091f8 0.0%,#539bf5 5.3%,#58a5eb 9.4%,#58b6da 12.9%,#5bcdbd 16.5%,#63daa1 19.0%,#6fe089 21.0%,#88d859 22.6%,#bac345 25.1%,#d4b741 26.6%,#eab048 28.1%,#ece048 32.2%,#e9f543 36.8%,#e9f942 40.3%,#eaee44 44.9%,#ecdd48 48.4%,#eab048 53.0%,#cfb840 56.0%,#a5cd4d 59.1%,#90d555 60.1%,#85d95d 60.6%,#73df83 61.6%,#6bdd92 62.6%,#5dd2b4 65.7%,#58bfd1 69.2%,#58ade3 72.8%,#569ef2 77.3%,#5092f8 80.9%,#505cf8 90.5%,#4838f8 96.1%,#452df1 100.0%)"></div><div style="position:absolute;left:0;top:56px;width:197.2px;height:2.5px;background:linear-gradient(90deg,#5091f8 0.0%,#539bf5 5.3%,#58a5eb 9.4%,#58b6da 12.9%,#5bcdbd 16.5%,#63daa1 19.0%,#6fe089 21.0%,#88d859 22.6%,#bac345 25.1%,#d4b741 26.6%,#eab048 28.1%,#ece048 32.2%,#e9f642 36.8%,#e9fa41 40.3%,#eaee44 45.4%,#ecdd48 48.9%,#eab148 53.5%,#d1b840 56.5%,#a8cb4b 59.6%,#89d858 61.1%,#76de7d 62.1%,#6fdf8a 62.6%,#5fd5ad 65.7%,#58c4cc 69.2%,#58ade3 73.3%,#569ef2 78.3%,#5094f8 81.4%,#505df8 91.0%,#4838f8 96.6%,#462ef2 100.0%)"></div><div style="position:absolute;left:0;top:58px;width:197.2px;height:2.5px;background:linear-gradient(90deg,#5091f8 0.0%,#539bf5 5.3%,#58a5eb 9.4%,#58b6da 12.9%,#5bcdbd 16.5%,#63daa1 19.0%,#6fe089 21.0%,#88d859 22.6%,#bac345 25.1%,#d4b741 26.6%,#eab148 28.1%,#ece048 32.2%,#e9f642 36.8%,#e9fa41 40.3%,#eaf044 45.4%,#ecdd48 49.4%,#eab248 54.0%,#d7b642 56.5%,#c7bd42 58.1%,#a2ce4e 60.6%,#8dd656 61.6%,#82da64 62.1%,#70e088 63.1%,#5ed4b1 66.7%,#58c2ce 70.2%,#58ade3 74.3%,#579ff1 78.9%,#5095f8 81.9%,#505af8 92.0%,#4838f8 97.1%,#4630f3 100.0%)"></div><div style="position:absolute;left:0;top:60px;width:197.2px;height:2.5px;background:linear-gradient(90deg,#5091f8 0.0%,#539bf5 5.3%,#58a5eb 9.4%,#58b6da 12.9%,#5bcdbd 16.5%,#63daa1 19.0%,#6fe089 21.0%,#88d859 22.6%,#bac345 25.1%,#d4b741 26.6%,#eab148 28.1%,#ece048 32.2%,#e9f642 36.8%,#e9fb41 40.3%,#eaf144 45.4%,#ecdc48 49.9%,#eab248 54.5%,#e0b345 56.0%,#ceb941 58.1%,#a4cd4d 61.1%,#90d555 62.1%,#85d95f 62.6%,#72df84 63.6%,#68dc99 65.2%,#5dd2b4 67.7%,#58c0d0 71.2%,#58ade3 74.8%,#569ef2 79.9%,#5093f8 82.9%,#505bf8 92.5%,#4839f8 97.6%,#4631f4 100.0%)"></div><div style="position:absolute;left:0;top:62px;width:197.2px;height:2.5px;background:linear-gradient(90deg,#5091f8 0.0%,#539bf5 5.3%,#58a5eb 9.4%,#58b6da 12.9%,#5bcdbd 16.5%,#63daa1 19.0%,#6fe089 21.0%,#88d859 22.6%,#bac345 25.1%,#d4b741 26.6%,#eab148 28.1%,#ece048 32.2%,#e9f642 36.8%,#e8fb41 40.3%,#eaf243 45.4%,#ece048 49.9%,#eab248 55.0%,#dcb444 57.0%,#c9bc42 59.1%,#a5cc4c 61.6%,#87d85b 63.1%,#74df80 64.1%,#6edf8b 64.7%,#5fd5ad 67.7%,#58c4cc 71.2%,#58aee2 75.3%,#569ef2 80.4%,#5095f8 83.4%,#505cf8 93.1%,#4839f8 98.1%,#4733f5 100.0%)"></div><div style="position:absolute;left:0;top:64px;width:197.2px;height:2.5px;background:linear-gradient(90deg,#5091f8 0.0%,#539bf5 5.3%,#58a5eb 9.4%,#58b6da 12.9%,#5bcdbd 16.5%,#63daa1 19.0%,#6fe089 21.0%,#88d859 22.6%,#bac345 25.1%,#d4b741 26.6%,#eab148 28.1%,#ece048 32.2%,#e9f742 37.3%,#e9fb41 40.8%,#eaf144 45.9%,#ecde48 50.5%,#eab148 55.5%,#ceb940 59.1%,#a6cc4c 62.1%,#88d858 63.6%,#75de7d 64.7%,#6fdf8a 65.2%,#5fd6ac 68.2%,#58c5cb 71.8%,#58ade3 76.3%,#569ef2 81.4%,#5093f8 84.4%,#5059f8 94.1%,#483af8 98.6%,#4735f6 100.0%)"></div><div style="position:absolute;left:0;top:66px;width:197.2px;height:2.5px;background:linear-gradient(90deg,#5091f8 0.0%,#539bf5 5.3%,#58a5eb 9.4%,#58b6da 12.9%,#5bcdbd 16.5%,#63daa1 19.0%,#6fe089 21.0%,#87d859 22.6%,#bac345 25.1%,#d4b741 26.6%,#eab148 28.1%,#ecda48 31.7%,#ebeb45 34.2%,#e9fa41 38.8%,#e9f842 43.4%,#ebe547 49.4%,#ecd848 51.5%,#eab048 56.0%,#ceb941 59.6%,#a7cc4c 62.6%,#89d858 64.1%,#76de7b 65.2%,#6fe089 65.7%,#5ed4b0 69.2%,#58c3cd 72.8%,#58aee2 76.8%,#569ef2 81.9%,#5094f8 84.9%,#505af8 94.6%,#4838f8 99.6%,#4837f7 100.0%)"></div><div style="position:absolute;left:0;top:68px;width:197.2px;height:2.5px;background:linear-gradient(90deg,#5091f8 0.0%,#539bf5 5.3%,#58a5eb 9.4%,#58b6da 12.9%,#5bcdbd 16.5%,#63daa1 19.0%,#6fe089 21.0%,#87d859 22.6%,#bac345 25.1%,#d4b741 26.6%,#eab148 28.1%,#ecda48 31.7%,#ebeb45 34.2%,#e9fa41 38.8%,#e9f942 43.4%,#ebe646 49.4%,#ecdb48 51.5%,#e9b048 56.5%,#cdb941 60.1%,#a7cc4c 63.1%,#8ad757 64.7%,#70e089 66.2%,#5ed4af 69.7%,#58c4cc 73.3%,#58ade3 77.8%,#579ff1 82.4%,#5095f8 85.4%,#4f57f8 95.6%,#4839f8 100.0%)"></div><div style="position:absolute;left:0;top:70px;width:197.2px;height:2.5px;background:linear-gradient(90deg,#5091f8 0.0%,#539bf5 5.3%,#58a5eb 9.4%,#58b6da 12.9%,#5bcdbd 16.5%,#63daa1 19.0%,#6fe089 21.0%,#7fdb6b 22.1%,#87d85a 22.6%,#bac345 25.1%,#d4b741 26.6%,#eab048 28.1%,#ecd948 31.7%,#ebea45 34.2%,#e9fa41 38.8%,#e9f942 43.4%,#ebe746 49.4%,#ecdd48 51.5%,#eab248 56.5%,#ddb444 58.6%,#ccba41 60.6%,#a7cc4c 63.6%,#8ad757 65.2%,#70e089 66.7%,#5ed5ae 70.2%,#58c2ce 74.3%,#58ade3 78.3%,#569ef2 83.4%,#5093f8 86.5%,#4f54f8 96.6%,#493df8 100.0%)"></div><div style="position:absolute;left:0;top:72px;width:197.2px;height:2.5px;background:linear-gradient(90deg,#5091f8 0.0%,#539bf5 5.3%,#58a5eb 9.4%,#58b6da 12.9%,#5bcdbd 16.5%,#63daa1 19.0%,#6fe089 21.0%,#7edb6b 22.1%,#87d85a 22.6%,#bac346 25.1%,#d4b741 26.6%,#eab048 28.1%,#ebd448 31.2%,#ece248 32.7%,#e9f742 37.8%,#e9fb41 41.8%,#eaef44 47.4%,#ecdf48 51.5%,#eab048 57.0%,#cbba41 61.1%,#a6cc4c 64.1%,#8ad757 65.7%,#70e088 67.2%,#5fd5ad 70.7%,#58c3cd 74.8%,#58ade3 79.4%,#579ff1 83.9%,#5095f8 87.0%,#4e52f8 97.6%,#4a41f8 100.0%)"></div><div style="position:absolute;left:0;top:74px;width:197.2px;height:2.5px;background:linear-gradient(90deg,#5091f8 0.0%,#539bf5 5.3%,#58a5eb 9.4%,#58b6da 12.9%,#5bcdbd 16.5%,#63daa1 19.0%,#6fe08a 21.0%,#7edb6c 22.1%,#87d85a 22.6%,#bac346 25.1%,#d4b741 26.6%,#eab048 28.1%,#ecde48 32.2%,#e9f443 36.8%,#e8fb41 40.8%,#eaf343 46.4%,#ecdd48 52.0%,#e9b048 57.6%,#cfb840 61.1%,#adc949 64.1%,#94d353 65.7%,#8ad757 66.2%,#70e088 67.7%,#5fd6ad 71.2%,#58c4cc 75.3%,#58ade3 79.9%,#569ef2 84.9%,#5093f8 88.0%,#4e53f8 98.1%,#4b46f8 100.0%)"></div><div style="position:absolute;left:0;top:76px;width:197.2px;height:2.5px;background:linear-gradient(90deg,#5091f8 0.0%,#539bf5 5.3%,#58a5eb 9.4%,#58b6da 12.9%,#5bcdbd 16.5%,#63daa2 19.0%,#6fe08a 21.0%,#7edb6c 22.1%,#86d95b 22.6%,#b0c848 24.6%,#d3b741 26.6%,#e9b048 28.1%,#ece148 32.7%,#e9f742 37.8%,#e9fb41 41.8%,#eaf044 47.4%,#ecde48 52.0%,#eab148 57.6%,#ceb941 61.6%,#acc949 64.7%,#94d353 66.2%,#89d757 66.7%,#70e088 68.2%,#5ed4b1 72.3%,#58c2ce 76.3%,#58ace4 80.9%,#579ff1 85.4%,#5094f8 88.5%,#4e51f8 99.1%,#4c4bf8 100.0%)"></div><div style="position:absolute;left:0;top:78px;width:197.2px;height:2.5px;background:linear-gradient(90deg,#5091f8 0.0%,#539bf5 5.3%,#58a5eb 9.4%,#58b6da 12.9%,#5bcdbd 16.5%,#63daa2 19.0%,#6fdf8a 21.0%,#75de7e 21.6%,#86d95c 22.6%,#a5cc4c 24.1%,#cbbb41 26.1%,#e2b246 27.6%,#e9b048 28.1%,#ece148 32.7%,#e9f742 37.8%,#e8fb41 41.8%,#eaf144 47.4%,#ecdc48 52.5%,#e9b048 58.1%,#cdba41 62.1%,#acca4a 65.2%,#93d454 66.7%,#89d858 67.2%,#70e088 68.7%,#5ed4b0 72.8%,#58c2ce 76.8%,#58ade3 81.4%,#569ef2 86.5%,#5093f8 89.5%,#4e52f8 99.6%,#4e4ff8 100.0%)"></div><div style="position:absolute;left:0;top:80px;width:197.2px;height:2.5px;background:linear-gradient(90deg,#5091f8 0.0%,#539bf5 5.3%,#58a5eb 9.4%,#58b6da 12.9%,#5bcdbd 16.5%,#63d9a2 19.0%,#6fdf8a 21.0%,#75de7e 21.6%,#86d95d 22.6%,#9ad151 23.6%,#c2bf44 25.6%,#d2b741 26.6%,#e8b147 28.1%,#ece048 32.7%,#e9f642 37.8%,#e8fb41 41.8%,#eaf143 47.4%,#ecde48 52.5%,#eab248 58.1%,#cbba41 62.6%,#abca4a 65.7%,#92d454 67.2%,#88d858 67.7%,#70e088 69.2%,#5ed4af 73.3%,#58c0d0 77.8%,#58ace4 82.4%,#579ff1 87.0%,#5094f8 90.0%,#4f55f8 100.0%)"></div><div style="position:absolute;left:0;top:82px;width:197.2px;height:2.5px;background:linear-gradient(90deg,#5091f8 0.0%,#539bf5 5.3%,#58a5eb 9.4%,#58b6da 12.9%,#5bcdbe 16.5%,#63d9a2 19.0%,#6fdf8b 21.0%,#74df7f 21.6%,#85d95e 22.6%,#8fd555 23.1%,#b8c446 25.1%,#d2b741 26.6%,#e8b147 28.1%,#ecdb48 32.2%,#eaec45 35.2%,#e9fa41 39.8%,#e9f842 44.9%,#ebe447 51.5%,#ecd848 53.5%,#eab048 58.6%,#ceb940 62.6%,#aacb4b 66.2%,#87d859 68.2%,#70e088 69.7%,#5ed5af 73.8%,#58c1cf 78.3%,#58ade3 82.9%,#569ef2 88.0%,#5095f8 90.5%,#505af8 100.0%)"></div><div style="position:absolute;left:0;top:84px;width:197.2px;height:2.5px;background:linear-gradient(90deg,#5091f8 0.0%,#539bf5 5.3%,#58a5eb 9.4%,#58b6da 12.9%,#5bcdbe 16.5%,#63d9a3 19.0%,#6edf8b 21.0%,#74df80 21.6%,#85d95f 22.6%,#8ed555 23.1%,#b8c446 25.1%,#d1b840 26.6%,#e7b147 28.1%,#ebc048 29.7%,#ece248 33.2%,#e9f742 38.3%,#e8fb41 42.3%,#eaf144 47.9%,#ecde48 53.0%,#eab248 58.6%,#d8b642 61.6%,#c9bc42 63.6%,#a9cb4b 66.7%,#90d555 68.2%,#87d85b 68.7%,#70e089 70.2%,#5ed5ae 74.3%,#58c2ce 78.9%,#58ade3 83.4%,#579ff1 88.5%,#5094f8 91.5%,#505ef8 100.0%)"></div><div style="position:absolute;left:0;top:86px;width:197.2px;height:2.5px;background:linear-gradient(90deg,#5091f8 0.0%,#539bf5 5.3%,#58a5eb 9.4%,#58b6da 12.9%,#5bcdbe 16.5%,#65db9d 19.5%,#6edf8b 21.0%,#73df81 21.6%,#84d960 22.6%,#8ed656 23.1%,#c0c044 25.6%,#d1b840 26.6%,#e6b147 28.1%,#eab348 28.7%,#ece148 33.2%,#e9f842 38.8%,#e9fb41 43.4%,#eaed45 49.4%,#ecdc48 53.5%,#eab048 59.1%,#ccba41 63.6%,#a8cb4b 67.2%,#8fd555 68.7%,#86d95c 69.2%,#76de7c 70.2%,#70e089 70.7%,#5fd5ae 74.8%,#58c0d0 79.9%,#58ace4 84.4%,#569ef2 89.5%,#5095f8 92.0%,#5062f8 100.0%)"></div><div style="position:absolute;left:0;top:88px;width:197.2px;height:2.5px;background:linear-gradient(90deg,#5091f8 0.0%,#539bf5 5.3%,#58a5eb 9.4%,#58b6da 12.9%,#5bcdbe 16.5%,#65db9d 19.5%,#6edf8c 21.0%,#73df83 21.6%,#83da61 22.6%,#8dd656 23.1%,#bfc044 25.6%,#d0b840 26.6%,#e6b147 28.1%,#eab248 28.7%,#ece148 33.2%,#e9f742 38.8%,#e9fb41 43.4%,#eaee44 49.4%,#ecdd48 53.5%,#e9b048 59.6%,#ceb940 63.6%,#adc949 67.2%,#97d252 68.7%,#8ed656 69.2%,#85d95e 69.7%,#75de7d 70.7%,#6fe089 71.2%,#5fd5ad 75.3%,#58c1cf 80.4%,#58ade3 84.9%,#569ef2 90.0%,#5093f8 93.1%,#5067f8 100.0%)"></div><div style="position:absolute;left:0;top:90px;width:197.2px;height:2.5px;background:linear-gradient(90deg,#5091f8 0.0%,#539bf5 5.3%,#58a5eb 9.4%,#58b6da 12.9%,#59cbc3 16.0%,#62d9a3 19.0%,#6edf8c 21.0%,#72df84 21.6%,#83da63 22.6%,#8cd656 23.1%,#bfc144 25.6%,#d0b840 26.6%,#eab148 28.7%,#ece048 33.2%,#e9f742 38.8%,#e9fb41 43.4%,#eaee44 49.4%,#ecdb48 54.0%,#eab148 59.6%,#cdb941 64.1%,#acca4a 67.7%,#8dd656 69.7%,#84d960 70.2%,#75de7e 71.2%,#6fe089 71.8%,#5ed4b1 76.3%,#58bfd1 81.4%,#58ace4 86.0%,#579ff1 90.5%,#5094f8 93.6%,#506bf8 100.0%)"></div><div style="position:absolute;left:0;top:92px;width:197.2px;height:2.5px;background:linear-gradient(90deg,#5091f8 0.0%,#539bf5 5.3%,#58a5eb 9.4%,#58b6da 12.9%,#59cbc3 16.0%,#65da9e 19.5%,#71e085 21.6%,#82da64 22.6%,#8bd757 23.1%,#bec144 25.6%,#cfb940 26.6%,#eab048 28.7%,#ecdb48 32.7%,#eaec45 35.8%,#e9fa41 40.8%,#e9f842 45.9%,#ece347 53.0%,#eabb48 58.6%,#e9b048 60.1%,#ccba41 64.7%,#aaca4a 68.2%,#8cd656 70.2%,#83da61 70.7%,#74df7f 71.8%,#6fe08a 72.3%,#5ed4b0 76.8%,#58c2ce 81.4%,#58ace4 86.5%,#569ef2 91.5%,#5095f8 94.1%,#5070f8 100.0%)"></div><div style="position:absolute;left:0;top:94px;width:197.2px;height:2.5px;background:linear-gradient(90deg,#5091f8 0.0%,#539bf5 5.3%,#58a5eb 9.4%,#58b6da 12.9%,#59cbc3 16.0%,#65da9f 19.5%,#71e087 21.6%,#8ad757 23.1%,#bdc145 25.6%,#ceb940 26.6%,#e9b048 28.7%,#ecde48 33.2%,#e9f543 38.3%,#e8fb41 42.8%,#eaf144 48.9%,#ecdf48 54.0%,#eab248 60.1%,#cbbb41 65.2%,#a9cb4b 68.7%,#8bd757 70.7%,#74df80 72.3%,#6fe08a 72.8%,#5ed4b0 77.3%,#58c2ce 81.9%,#58ace4 87.0%,#569ef2 92.0%,#5095f8 94.6%,#5075f8 100.0%)"></div><div style="position:absolute;left:0;top:96px;width:197.2px;height:2.5px;background:linear-gradient(90deg,#5091f8 0.0%,#539bf5 5.3%,#58a5eb 9.4%,#58b6da 12.9%,#59cbc3 16.0%,#65da9f 19.5%,#70e088 21.6%,#89d757 23.1%,#bdc245 25.6%,#d5b741 27.1%,#e8b048 28.7%,#ece148 33.7%,#e9f742 39.3%,#e9fb41 43.9%,#eaef44 49.9%,#ecde48 54.5%,#eab048 60.6%,#ceb941 65.2%,#a8cb4b 69.2%,#8ad757 71.2%,#74df81 72.8%,#6fdf8a 73.3%,#5ed4b0 77.8%,#58c2ce 82.4%,#58ace4 87.5%,#569ef2 92.5%,#5093f8 95.6%,#507af8 100.0%)"></div><div style="position:absolute;left:0;top:98px;width:197.2px;height:2.5px;background:linear-gradient(90deg,#5091f8 0.0%,#539bf5 5.3%,#58a5eb 9.4%,#58b6da 12.9%,#59cbc3 16.0%,#64da9f 19.5%,#70e089 21.6%,#88d858 23.1%,#bcc245 25.6%,#d4b741 27.1%,#e7b147 28.7%,#ebc948 31.2%,#ece347 34.2%,#e9f842 39.8%,#e9fb41 44.4%,#eaee44 50.5%,#ecdd48 55.0%,#e9b048 61.1%,#cdb941 65.7%,#a7cc4c 69.7%,#89d858 71.8%,#73df81 73.3%,#6fdf8a 73.8%,#5ed4af 78.3%,#58c3cd 82.9%,#58ace4 88.0%,#569ef2 93.1%,#5094f8 96.1%,#507ef8 100.0%)"></div><div style="position:absolute;left:0;top:100px;width:197.2px;height:2.5px;background:linear-gradient(90deg,#5091f8 0.0%,#539bf5 5.3%,#58a5eb 9.4%,#58b6da 12.9%,#59cac3 16.0%,#64daa0 19.5%,#6fe089 21.6%,#7edb6b 22.6%,#87d85a 23.1%,#bbc345 25.6%,#d3b741 27.1%,#e6b147 28.7%,#eab348 29.2%,#ecdf48 33.7%,#e9f642 39.3%,#e9fb41 43.9%,#eaf144 49.9%,#ecdf48 55.0%,#e9b048 61.6%,#ccba41 66.2%,#a6cc4c 70.2%,#88d858 72.3%,#73df82 73.8%,#6fdf8a 74.3%,#5ed4af 78.9%,#58c3cd 83.4%,#58ade3 88.0%,#579ff1 93.1%,#5092f8 97.1%,#5083f8 100.0%)"></div><div style="position:absolute;left:0;top:102px;width:197.2px;height:2.5px;background:linear-gradient(90deg,#5091f8 0.0%,#539bf5 5.3%,#58a5eb 9.4%,#58b6da 12.9%,#59cac3 16.0%,#64daa1 19.5%,#6fdf8b 21.6%,#74df80 22.1%,#85d95f 23.1%,#8fd555 23.6%,#b8c446 25.6%,#d1b840 27.1%,#eab048 29.2%,#ecdd48 33.7%,#eaf343 38.8%,#e9fb41 43.4%,#eaf343 49.4%,#ecde48 55.5%,#e9b048 62.1%,#ccba41 66.7%,#a5cc4c 70.7%,#87d85a 72.8%,#73df82 74.3%,#6dde8f 75.3%,#5ed5af 79.4%,#58c1cf 84.4%,#58ade3 89.0%,#569ef2 94.6%,#5093f8 98.1%,#508af8 100.0%)"></div><div style="position:absolute;left:0;top:104px;width:197.2px;height:2.5px;background:linear-gradient(90deg,#5091f8 0.0%,#539bf5 5.3%,#58a5eb 9.4%,#58b6da 12.9%,#59cac3 16.0%,#63d9a2 19.5%,#71e087 22.1%,#8ad757 23.6%,#bdc145 26.1%,#d5b741 27.6%,#e7b147 29.2%,#ebc748 31.7%,#ece148 34.7%,#e9f542 40.3%,#e9f942 44.9%,#eaed45 51.5%,#ecdd48 56.0%,#e9b048 62.6%,#ccba41 67.2%,#a3cd4d 71.2%,#8ed656 72.8%,#86d95c 73.3%,#72df83 74.8%,#6dde8f 75.8%,#5ed3b1 80.4%,#58c1cf 85.4%,#58ace4 90.5%,#569ef2 96.1%,#5093f8 100.0%)"></div><div style="position:absolute;left:0;top:106px;width:197.2px;height:2.5px;background:linear-gradient(90deg,#5091f8 0.0%,#539bf5 5.3%,#58a5eb 9.4%,#58b6da 12.9%,#59cac4 16.0%,#64da9f 20.0%,#6fdf8a 22.1%,#74df7f 22.6%,#85d95e 23.6%,#8fd555 24.1%,#b9c446 26.1%,#d1b840 27.6%,#e9b048 29.7%,#ece148 35.2%,#e9f443 40.8%,#e9f742 45.9%,#ebe946 53.0%,#ecdc48 56.5%,#eab048 63.1%,#ccba41 67.7%,#a2ce4e 71.8%,#8cd656 73.3%,#85d95f 73.8%,#72df84 75.3%,#69dc97 77.3%,#5dd2b4 81.4%,#58bfd1 87.0%,#58abe5 93.1%,#559df3 98.6%,#539bf5 100.0%)"></div><div style="position:absolute;left:0;top:108px;width:197.2px;height:2.5px;background:linear-gradient(90deg,#5091f8 0.0%,#539bf5 5.3%,#58a5eb 9.4%,#58b6da 12.9%,#59cac4 16.0%,#63daa1 20.0%,#70e088 22.6%,#89d858 24.1%,#bcc245 26.6%,#d3b741 28.1%,#eab148 30.2%,#ece148 35.8%,#eaf243 41.3%,#e9f443 46.4%,#ebe646 54.0%,#ecdb48 57.0%,#eab148 63.6%,#d1b840 67.7%,#a6cc4c 71.8%,#8ad757 73.8%,#71e085 75.8%,#5fd6ac 80.9%,#58c7c9 86.5%,#58abe5 95.1%,#58a0f0 100.0%)"></div><div style="position:absolute;left:0;top:110px;width:197.2px;height:2.5px;background:linear-gradient(90deg,#5091f8 0.0%,#539bf5 5.3%,#58a5eb 9.4%,#58b6da 12.9%,#59cac4 16.0%,#65da9f 20.5%,#6edf8b 22.6%,#73df82 23.1%,#83da62 24.1%,#8cd656 24.6%,#bec144 27.1%,#d5b741 28.7%,#eab248 30.7%,#ecdf48 36.3%,#eaf044 41.8%,#eaf143 47.4%,#ece247 55.5%,#ebc548 61.1%,#eab148 64.1%,#d6b642 67.7%,#c2bf43 69.7%,#97d252 73.3%,#89d858 74.3%,#71e086 76.3%,#5fd5ae 81.9%,#58c8c7 87.5%,#58a6ea 100.0%)"></div><div style="position:absolute;left:0;top:112px;width:197.2px;height:2.5px;background:linear-gradient(90deg,#5091f8 0.0%,#539bf5 5.3%,#58a5eb 9.4%,#58b6da 12.9%,#59cac5 16.0%,#64daa1 20.5%,#6fe089 23.1%,#7ddc6e 24.1%,#86d95d 24.6%,#9ad151 25.6%,#c0c044 27.6%,#cfb840 28.7%,#e7b147 30.7%,#eab748 31.7%,#ece048 37.3%,#eaef44 42.8%,#eaed45 49.4%,#ecdf48 56.5%,#e8b048 65.2%,#d2b741 68.7%,#a3cd4d 72.8%,#87d859 74.8%,#70e087 76.8%,#5fd6ac 82.4%,#59cac3 88.0%,#58b6da 96.6%,#58ace4 100.0%)"></div><div style="position:absolute;left:0;top:114px;width:197.2px;height:2.5px;background:linear-gradient(90deg,#5091f8 0.0%,#539bf5 5.3%,#58a5eb 9.4%,#58b7d9 12.9%,#59cac5 16.0%,#65da9f 21.0%,#71e086 23.6%,#89d858 25.1%,#bac346 27.6%,#d0b840 29.2%,#e7b147 31.2%,#eab648 32.2%,#ece148 38.3%,#eaed45 43.9%,#ebe846 51.5%,#ecdb48 57.0%,#eab148 65.2%,#d6b642 68.7%,#c1c044 70.7%,#8dd656 74.8%,#86d95b 75.3%,#70e087 77.3%,#5fd5ad 83.4%,#5accc1 89.0%,#58c2ce 95.1%,#58b1df 100.0%)"></div><div style="position:absolute;left:0;top:116px;width:197.2px;height:2.5px;background:linear-gradient(90deg,#5091f8 0.0%,#539bf5 5.3%,#58a5eb 9.4%,#58b7d9 12.9%,#59c9c5 16.0%,#64daa0 21.0%,#6fdf8a 23.6%,#74df80 24.1%,#83da62 25.1%,#8cd656 25.6%,#bcc245 28.1%,#d1b840 29.7%,#e7b147 31.7%,#eab548 32.7%,#ecde48 38.8%,#ebe946 43.9%,#ebe646 51.5%,#ecdc48 56.5%,#eab548 64.7%,#e9b048 65.7%,#d5b642 69.2%,#c6bd43 70.7%,#93d454 74.8%,#86d95d 75.8%,#70e088 77.8%,#5fd6ac 83.9%,#5bcdbd 89.5%,#58c5cb 96.1%,#58b8d8 100.0%)"></div><div style="position:absolute;left:0;top:118px;width:197.2px;height:2.5px;background:linear-gradient(90deg,#5091f8 0.0%,#539bf5 5.3%,#58a5eb 9.4%,#58b7d9 12.9%,#59c9c5 16.0%,#63daa1 21.0%,#71e087 24.1%,#87d85a 25.6%,#b6c547 28.1%,#d2b741 30.2%,#e7b147 32.2%,#eab548 33.2%,#ecdb48 39.3%,#ebe547 42.8%,#ebe646 49.4%,#ecdc48 55.5%,#eaba48 63.6%,#eab048 65.7%,#d8b642 69.2%,#c9bb42 70.7%,#99d151 74.8%,#8cd757 75.8%,#85d95d 76.3%,#70e087 78.3%,#5fd7ab 84.4%,#5bcebb 90.0%,#58c6ca 97.1%,#58bbd5 100.0%)"></div><div style="position:absolute;left:0;top:120px;width:197.2px;height:2.5px;background:linear-gradient(90deg,#5091f8 0.0%,#539bf5 5.3%,#58a5eb 9.4%,#58b7d9 12.9%,#59c9c5 16.0%,#65da9e 21.6%,#6fe089 24.1%,#7cdc71 25.1%,#8bd757 26.1%,#b8c446 28.7%,#d3b741 30.7%,#eab048 33.2%,#ecd648 39.3%,#ece247 42.8%,#ece447 49.4%,#ecdc48 54.5%,#ebbe48 62.6%,#e9b048 65.7%,#d5b741 69.7%,#bcc245 72.3%,#8bd757 76.3%,#85d95d 76.8%,#71e087 78.9%,#60d7a9 84.9%,#5bcebb 91.0%,#58c5cb 97.6%,#58bcd4 100.0%)"></div><div style="position:absolute;left:0;top:122px;width:197.2px;height:2.5px;background:linear-gradient(90deg,#5091f8 0.0%,#539bf5 5.3%,#58a5eb 9.4%,#58b7d9 12.9%,#59c9c5 16.0%,#64da9f 21.6%,#6fdf8b 24.1%,#73df83 24.6%,#87d859 26.1%,#bac346 29.2%,#d4b741 31.2%,#e9b048 33.7%,#ecd748 40.8%,#ece148 44.4%,#ecdf48 51.5%,#ebca48 59.1%,#e8b048 65.7%,#d5b642 69.7%,#c4be43 71.8%,#99d151 75.8%,#8cd656 76.8%,#86d95d 77.3%,#71e086 79.4%,#62d9a4 84.4%,#5cd0b9 90.5%,#58c4cc 97.6%,#58bcd4 100.0%)"></div><div style="position:absolute;left:0;top:124px;width:197.2px;height:2.5px;background:linear-gradient(90deg,#5091f8 0.0%,#539bf5 5.3%,#58a5eb 9.4%,#58b7d9 12.9%,#59c9c5 16.0%,#64daa0 21.6%,#71e087 24.6%,#84d960 26.1%,#8cd757 26.6%,#bbc345 29.7%,#d4b741 31.7%,#e8b147 34.2%,#eab448 35.2%,#ebd448 41.3%,#ecde48 45.9%,#ecd948 52.5%,#ebc148 60.6%,#e9b048 65.2%,#d6b642 69.7%,#c6bd42 71.8%,#9fcf4f 75.8%,#8cd656 77.3%,#86d95c 77.8%,#72df84 79.9%,#6bdd93 81.9%,#5ed4af 88.0%,#58c4cc 97.6%,#58bcd4 100.0%)"></div><div style="position:absolute;left:0;top:126px;width:197.2px;height:2.5px;background:linear-gradient(90deg,#5091f8 0.0%,#539bf5 5.3%,#58a5eb 9.4%,#58b7d9 12.9%,#59c9c5 16.0%,#64daa0 21.6%,#70e089 24.6%,#88d859 26.6%,#b5c647 29.7%,#d3b741 32.2%,#e6b147 34.7%,#eab448 36.3%,#ebcf48 41.8%,#ecd948 46.4%,#ebd248 53.5%,#eab848 62.1%,#e9b048 64.7%,#d5b642 69.7%,#c4be43 72.3%,#9fcf4f 76.3%,#87d85a 78.3%,#73df82 80.4%,#6edf8c 81.4%,#5ed5af 88.5%,#58c4cc 97.6%,#58bbd5 100.0%)"></div><div style="position:absolute;left:0;top:128px;width:197.2px;height:2.5px;background:linear-gradient(90deg,#5091f8 0.0%,#539bf5 5.3%,#58a5eb 9.4%,#58b7d9 12.9%,#59c9c5 16.0%,#64daa0 21.6%,#6fe08a 24.6%,#79dd77 25.6%,#85d95f 26.6%,#8bd757 27.1%,#bbc345 30.7%,#d2b741 32.7%,#e4b246 35.2%,#eab148 36.8%,#ebcb48 42.3%,#ebd348 46.9%,#ebcc48 54.0%,#e8b147 64.1%,#d2b741 70.2%,#a9cb4b 75.8%,#88d858 78.9%,#70e088 81.4%,#5ed5ae 89.0%,#58c4cc 97.6%,#58bbd5 100.0%)"></div><div style="position:absolute;left:0;top:130px;width:197.2px;height:2.5px;background:linear-gradient(90deg,#5091f8 0.0%,#539bf5 5.3%,#58a5eb 9.4%,#58b7d9 12.9%,#59c9c6 16.0%,#64daa1 21.6%,#71e085 25.1%,#87d859 27.1%,#bac345 31.2%,#d1b840 33.2%,#e1b345 35.8%,#eab048 37.8%,#ebc748 43.4%,#ebcd48 47.9%,#ebc448 55.5%,#e8b147 63.1%,#d1b840 70.2%,#adc949 75.8%,#8fd555 78.9%,#89d757 79.4%,#71e087 81.9%,#60d7a9 88.5%,#58c4cc 97.6%,#58bbd5 100.0%)"></div><div style="position:absolute;left:0;top:132px;width:197.2px;height:2.5px;background:linear-gradient(90deg,#5091f8 0.0%,#539bf5 5.3%,#58a5eb 9.4%,#58b7d9 12.9%,#59c9c6 16.0%,#65db9d 22.1%,#70e088 25.1%,#8ad757 27.6%,#bfc044 32.2%,#d4b741 34.2%,#e9b048 38.8%,#ebc448 44.9%,#ebc648 49.9%,#eab948 58.1%,#e9b048 61.6%,#d0b840 70.2%,#adc949 76.3%,#91d555 79.4%,#8bd757 79.9%,#80db68 80.9%,#72df84 82.4%,#6bdd92 84.4%,#5dd3b2 91.0%,#58c3cd 97.6%,#58bbd5 100.0%)"></div><div style="position:absolute;left:0;top:134px;width:197.2px;height:2.5px;background:linear-gradient(90deg,#5091f8 0.0%,#539bf5 5.3%,#58a5eb 9.4%,#58b7d9 12.9%,#59c9c6 16.0%,#65db9d 22.1%,#70e089 25.1%,#87d85b 27.6%,#b2c747 31.7%,#d1b840 34.7%,#e9b048 40.3%,#ebc048 46.4%,#ebbc48 53.5%,#e9b048 60.1%,#cfb840 70.2%,#acc949 76.8%,#98d252 79.4%,#87d85b 80.9%,#70e089 83.4%,#5ed4b0 91.0%,#58c1cf 98.1%,#58bbd5 100.0%)"></div><div style="position:absolute;left:0;top:136px;width:197.2px;height:2.5px;background:linear-gradient(90deg,#5091f8 0.0%,#539bf5 5.3%,#58a5eb 9.4%,#58b7d9 12.9%,#59cbc2 16.5%,#65db9d 22.1%,#70e089 25.1%,#8ad757 28.1%,#c4be43 33.7%,#d4b741 35.8%,#eab148 41.8%,#ebbc48 46.9%,#eab748 54.5%,#e9b048 59.1%,#d0b840 69.7%,#b1c748 76.3%,#9bd050 79.4%,#8bd757 80.9%,#86d95c 81.4%,#73df83 83.4%,#6edf8c 84.4%,#5ed4af 91.0%,#58c1cf 98.1%,#58bad6 100.0%)"></div><div style="position:absolute;left:0;top:138px;width:197.2px;height:1.4px;background:linear-gradient(90deg,#5091f8 0.0%,#539bf5 5.3%,#58a5eb 9.4%,#58b7d9 12.9%,#59cbc2 16.5%,#65db9d 22.1%,#70e089 25.1%,#8ad757 28.1%,#c4be43 33.7%,#d4b741 35.8%,#eab148 41.8%,#ebbc48 46.9%,#eab748 54.5%,#e9b048 59.1%,#d0b840 69.7%,#b1c748 76.3%,#9bd050 79.4%,#8bd757 80.9%,#86d95c 81.4%,#73df83 83.4%,#6edf8c 84.4%,#5ed4af 91.0%,#58c1cf 98.1%,#58bad6 100.0%)"></div></div>
<div style="position:absolute;left:432px;top:245.5px;width:195px;height:136.8px;overflow:hidden"><div style="position:absolute;left:0;top:0px;width:195px;height:2.5px;background:linear-gradient(90deg,#3f24bc 0.0%,#4123d5 36.2%,#4429ef 55.6%,#4837f7 80.8%,#4e50f8 84.9%,#506bf8 87.4%,#508cf8 90.0%,#529af6 91.5%,#58a3ed 93.1%,#58b6da 95.1%,#58c8c8 96.2%,#5bcebc 96.7%,#60d7a9 97.2%,#6ddf8d 97.7%,#91d454 98.2%,#b7c446 98.7%,#d3b741 99.2%,#e9b048 100.0%)"></div><div style="position:absolute;left:0;top:2px;width:195px;height:2.5px;background:linear-gradient(90deg,#3f24bc 0.0%,#4124d6 37.2%,#4429ef 55.6%,#4837f7 80.8%,#4e50f8 84.9%,#506bf8 87.4%,#508cf8 90.0%,#529af6 91.5%,#58a3ed 93.1%,#58b6da 95.1%,#58c7c9 96.2%,#5bcebc 96.7%,#5fd7aa 97.2%,#6dde8e 97.7%,#8fd555 98.2%,#b5c547 98.7%,#d1b840 99.2%,#e7b147 100.0%)"></div><div style="position:absolute;left:0;top:4px;width:195px;height:2.5px;background:linear-gradient(90deg,#3f24bc 0.0%,#4124d7 37.7%,#4429ef 55.6%,#4837f7 80.8%,#4e50f8 84.9%,#506bf8 87.4%,#508cf8 90.0%,#529af6 91.5%,#58a3ed 93.1%,#58b5db 95.1%,#58c7c9 96.2%,#5bcdbd 96.7%,#5fd7ab 97.2%,#6cde8f 97.7%,#8dd656 98.2%,#b3c647 98.7%,#cfb940 99.2%,#e5b147 100.0%)"></div><div style="position:absolute;left:0;top:6px;width:195px;height:2.5px;background:linear-gradient(90deg,#3f24bc 0.0%,#4124d8 38.2%,#4429ef 55.6%,#4837f7 80.8%,#4e50f8 84.9%,#506bf8 87.4%,#508cf8 90.0%,#529af6 91.5%,#58a3ed 93.1%,#58b5db 95.1%,#58c6ca 96.2%,#5bcdbe 96.7%,#5fd6ac 97.2%,#6cde91 97.7%,#8bd757 98.2%,#b1c748 98.7%,#cdba41 99.2%,#e4b246 100.0%)"></div><div style="position:absolute;left:0;top:8px;width:195px;height:2.5px;background:linear-gradient(90deg,#3f24bc 0.0%,#4124d8 37.7%,#4429ef 55.1%,#4837f7 80.8%,#4e50f8 84.9%,#506bf8 87.4%,#508cf8 90.0%,#529af6 91.5%,#58a2ee 93.1%,#58b4dc 95.1%,#58c6ca 96.2%,#5acdbe 96.7%,#5fd6ad 97.2%,#6bde92 97.7%,#89d858 98.2%,#afc848 98.7%,#cbbb41 99.2%,#e2b345 100.0%)"></div><div style="position:absolute;left:0;top:10px;width:195px;height:2.5px;background:linear-gradient(90deg,#3f24bc 0.0%,#4124d8 37.7%,#4429ef 55.1%,#4837f7 80.8%,#4e50f8 84.9%,#506bf8 87.4%,#508cf8 90.0%,#529af6 91.5%,#58a2ee 93.1%,#58b4dc 95.1%,#58c5cb 96.2%,#5acdbf 96.7%,#5fd5ad 97.2%,#6add93 97.7%,#87d85a 98.2%,#adc949 98.7%,#c9bc42 99.2%,#e0b345 100.0%)"></div><div style="position:absolute;left:0;top:12px;width:195px;height:2.5px;background:linear-gradient(90deg,#3f24bc 0.0%,#4124d8 37.2%,#4429ef 55.1%,#4837f7 80.8%,#4e50f8 84.9%,#5064f8 86.9%,#508cf8 90.0%,#529af6 91.5%,#58a2ee 93.1%,#58b4dc 95.1%,#58c5cb 96.2%,#5accc0 96.7%,#5ed5ae 97.2%,#6add94 97.7%,#85d95e 98.2%,#abca4a 98.7%,#c7bd42 99.2%,#deb444 100.0%)"></div><div style="position:absolute;left:0;top:14px;width:195px;height:2.5px;background:linear-gradient(90deg,#3f24bc 0.0%,#4124d8 36.7%,#4429ef 55.1%,#4837f7 80.8%,#4e50f8 84.9%,#5064f8 86.9%,#508cf8 90.0%,#529af6 91.5%,#58a6ea 93.6%,#58b3dd 95.1%,#58c4cc 96.2%,#5accc0 96.7%,#5ed4af 97.2%,#69dd95 97.7%,#83da62 98.2%,#a9cb4b 98.7%,#c5be43 99.2%,#dcb444 100.0%)"></div><div style="position:absolute;left:0;top:16px;width:195px;height:2.5px;background:linear-gradient(90deg,#3f24bc 0.0%,#4124d8 36.7%,#4429ef 54.6%,#4632f4 73.6%,#4839f8 81.3%,#4f54f8 85.4%,#506bf8 87.4%,#508cf8 90.0%,#529af6 91.5%,#58a5eb 93.6%,#58b3dd 95.1%,#58c4cc 96.2%,#5accc1 96.7%,#5ed4b0 97.2%,#69dc97 97.7%,#81da65 98.2%,#a7cc4c 98.7%,#c3bf43 99.2%,#dbb543 100.0%)"></div><div style="position:absolute;left:0;top:18px;width:195px;height:2.5px;background:linear-gradient(90deg,#3f24bc 0.0%,#4124d8 36.2%,#4429ef 54.6%,#4632f4 73.1%,#4837f7 80.8%,#4e50f8 84.9%,#5064f8 86.9%,#508cf8 90.0%,#529af6 91.5%,#58a5eb 93.6%,#58b2de 95.1%,#58c3cd 96.2%,#5acbc1 96.7%,#5ed4b1 97.2%,#68dc98 97.7%,#80db69 98.2%,#a4cd4d 98.7%,#c1c044 99.2%,#d3b741 99.7%,#d9b543 100.0%)"></div><div style="position:absolute;left:0;top:20px;width:195px;height:2.5px;background:linear-gradient(90deg,#3f24bb 0.0%,#4124d8 36.2%,#4429ef 54.6%,#4632f4 73.1%,#4837f7 80.8%,#4e50f8 84.9%,#5064f8 86.9%,#508cf8 90.0%,#529af6 91.5%,#58a5eb 93.6%,#58b2de 95.1%,#59cbc2 96.7%,#5ed3b2 97.2%,#68dc99 97.7%,#7edb6d 98.2%,#a2ce4e 98.7%,#bfc144 99.2%,#d1b840 99.7%,#d7b642 100.0%)"></div><div style="position:absolute;left:0;top:22px;width:195px;height:2.5px;background:linear-gradient(90deg,#3f24bc 0.0%,#4124d8 35.6%,#4429ef 54.6%,#4632f4 72.6%,#4837f7 80.8%,#4e50f8 84.9%,#5064f8 86.9%,#508cf8 90.0%,#5199f7 91.5%,#58a5eb 93.6%,#58b2de 95.1%,#59cbc3 96.7%,#5dd3b2 97.2%,#67db9a 97.7%,#7cdc70 98.2%,#a0ce4e 98.7%,#bdc245 99.2%,#cfb940 99.7%,#d5b642 100.0%)"></div><div style="position:absolute;left:0;top:24px;width:195px;height:2.5px;background:linear-gradient(90deg,#3f24bc 0.0%,#4124d8 35.1%,#4429ef 54.1%,#4632f4 72.1%,#4837f7 80.8%,#4e50f8 84.9%,#5064f8 86.9%,#508cf8 90.0%,#5199f7 91.5%,#58a5eb 93.6%,#58b1df 95.1%,#59cac3 96.7%,#5dd2b3 97.2%,#66db9b 97.7%,#7add74 98.2%,#9dd050 98.7%,#bac346 99.2%,#d2b741 100.0%)"></div><div style="position:absolute;left:0;top:26px;width:195px;height:2.5px;background:linear-gradient(90deg,#3f24bc 0.0%,#4124d8 34.6%,#4429ef 54.1%,#4632f4 72.1%,#4837f7 80.8%,#4e50f8 84.9%,#5064f8 86.9%,#5086f8 89.5%,#5199f7 91.5%,#58a4ec 93.6%,#58b1df 95.1%,#59cac4 96.7%,#5dd2b4 97.2%,#66db9d 97.7%,#78dd79 98.2%,#9ad151 98.7%,#b6c546 99.2%,#d0b840 100.0%)"></div><div style="position:absolute;left:0;top:28px;width:195px;height:2.5px;background:linear-gradient(90deg,#3f24bc 0.0%,#4124d8 34.1%,#4429ef 54.1%,#4632f4 71.5%,#4837f7 80.8%,#4e50f8 84.9%,#5064f8 86.9%,#5086f8 89.5%,#5199f7 91.5%,#58a4ec 93.6%,#58b0e0 95.1%,#59cac5 96.7%,#5dd2b5 97.2%,#65db9e 97.7%,#76de7d 98.2%,#97d252 98.7%,#b3c647 99.2%,#ccba41 100.0%)"></div><div style="position:absolute;left:0;top:30px;width:195px;height:2.5px;background:linear-gradient(90deg,#3f24bc 0.0%,#4124d8 33.6%,#4429ef 54.1%,#4632f4 71.5%,#4837f7 80.8%,#4e50f8 84.9%,#5064f8 86.9%,#5086f8 89.5%,#5199f7 91.5%,#58a4ec 93.6%,#58b0e0 95.1%,#59c9c5 96.7%,#5dd1b6 97.2%,#65da9f 97.7%,#73df81 98.2%,#94d353 98.7%,#b0c848 99.2%,#c9bb42 100.0%)"></div><div style="position:absolute;left:0;top:32px;width:195px;height:2.5px;background:linear-gradient(90deg,#3f24bc 0.0%,#4124d8 33.1%,#4429ef 54.1%,#4632f4 71.5%,#4837f7 80.8%,#4e50f8 84.9%,#5064f8 86.9%,#5086f8 89.5%,#5199f7 91.5%,#58a4ec 93.6%,#58b0e0 95.1%,#59c9c6 96.7%,#5cd1b7 97.2%,#64daa0 97.7%,#71e085 98.2%,#91d454 98.7%,#adc949 99.2%,#c6bd42 100.0%)"></div><div style="position:absolute;left:0;top:34px;width:195px;height:2.5px;background:linear-gradient(90deg,#3f24bc 0.0%,#4124d8 32.6%,#4429ef 54.1%,#4632f4 71.0%,#4837f7 80.8%,#4e50f8 84.9%,#5064f8 86.9%,#5086f8 89.5%,#5199f7 91.5%,#58a4ec 93.6%,#58afe1 95.1%,#58c9c7 96.7%,#5cd0b7 97.2%,#63daa1 97.7%,#70e089 98.2%,#8ed656 98.7%,#a9cb4b 99.2%,#c3be43 100.0%)"></div><div style="position:absolute;left:0;top:36px;width:195px;height:2.5px;background:linear-gradient(90deg,#3f24bc 0.0%,#4124d8 32.1%,#4429ef 53.6%,#4632f4 71.0%,#4837f7 80.8%,#4e50f8 84.9%,#5064f8 86.9%,#5086f8 89.5%,#5199f7 91.5%,#58a3ed 93.6%,#58afe1 95.1%,#58c8c7 96.7%,#5cd0b8 97.2%,#63d9a2 97.7%,#6fdf8a 98.2%,#8bd757 98.7%,#a6cc4c 99.2%,#c0c044 100.0%)"></div><div style="position:absolute;left:0;top:38px;width:195px;height:2.5px;background:linear-gradient(90deg,#3f24bc 0.0%,#4124d8 31.5%,#4429ef 53.6%,#4632f4 71.0%,#4837f7 80.8%,#4e50f8 84.9%,#5064f8 86.9%,#5086f8 89.5%,#5199f7 91.5%,#58a3ed 93.6%,#58afe1 95.1%,#58c8c8 96.7%,#5ccfb9 97.2%,#62d9a4 97.7%,#6edf8c 98.2%,#88d859 98.7%,#a3cd4d 99.2%,#bdc245 100.0%)"></div><div style="position:absolute;left:0;top:40px;width:195px;height:2.5px;background:linear-gradient(90deg,#3f24bc 0.0%,#4124d8 31.0%,#4429ef 53.6%,#4632f4 71.0%,#4837f7 80.8%,#4e50f8 84.9%,#5064f8 86.9%,#5086f8 89.5%,#5199f7 91.5%,#58a3ed 93.6%,#58b5db 95.6%,#58c7c9 96.7%,#5ccfba 97.2%,#62d9a5 97.7%,#6ddf8d 98.2%,#85d95e 98.7%,#9fcf4f 99.2%,#bac346 100.0%)"></div><div style="position:absolute;left:0;top:42px;width:195px;height:2.5px;background:linear-gradient(90deg,#3f24bb 0.0%,#4124d8 30.5%,#4429ef 53.1%,#4632f4 70.5%,#4837f7 80.8%,#4e50f8 84.9%,#5064f8 86.9%,#5086f8 89.5%,#5199f7 91.5%,#58a3ed 93.6%,#58b5db 95.6%,#58c7c9 96.7%,#5bcfbb 97.2%,#61d8a6 97.7%,#6cde8f 98.2%,#82da63 98.7%,#9cd050 99.2%,#b7c546 100.0%)"></div><div style="position:absolute;left:0;top:44px;width:195px;height:2.5px;background:linear-gradient(90deg,#3f24bc 0.0%,#4124d8 30.5%,#4429ef 53.1%,#4632f4 70.5%,#4837f7 80.8%,#4e50f8 84.9%,#5064f8 86.9%,#5086f8 89.5%,#5199f7 91.5%,#58a3ed 93.6%,#58b4dc 95.6%,#58c6ca 96.7%,#5bcebc 97.2%,#60d8a7 97.7%,#6cde91 98.2%,#80db68 98.7%,#99d151 99.2%,#b3c647 100.0%)"></div><div style="position:absolute;left:0;top:46px;width:195px;height:2.5px;background:linear-gradient(90deg,#3f24bc 0.0%,#4124d7 29.0%,#4429ef 53.1%,#4632f4 70.5%,#4837f7 80.8%,#4d4ff8 84.9%,#5063f8 86.9%,#5085f8 89.5%,#5098f8 91.5%,#58a2ee 93.6%,#58b3dd 95.6%,#58c5cb 96.7%,#5bcdbd 97.2%,#60d8a9 97.7%,#6bdd93 98.2%,#7ddc6f 98.7%,#94d353 99.2%,#afc949 100.0%)"></div><div style="position:absolute;left:0;top:48px;width:195px;height:2.5px;background:linear-gradient(90deg,#3f24bc 0.0%,#4124d6 27.4%,#4429ef 52.6%,#4632f4 70.5%,#4837f7 80.8%,#4d4ef8 84.9%,#5062f8 86.9%,#5083f8 89.5%,#5199f7 92.1%,#58a4ec 94.1%,#58b1df 95.6%,#58c4cc 96.7%,#5acdbf 97.2%,#5fd7ab 97.7%,#69dd95 98.2%,#79dd76 98.7%,#8fd555 99.2%,#a9cb4b 100.0%)"></div><div style="position:absolute;left:0;top:50px;width:195px;height:2.5px;background:linear-gradient(90deg,#3f24bc 0.0%,#4124d6 26.4%,#4429ef 52.6%,#4632f4 71.0%,#4837f7 80.8%,#4d4df8 84.9%,#5061f8 86.9%,#5082f8 89.5%,#5199f7 92.1%,#58a4ec 94.1%,#58b0e0 95.6%,#58c2ce 96.7%,#5accc0 97.2%,#5fd6ad 97.7%,#68dc97 98.2%,#75de7d 98.7%,#8ad757 99.2%,#a4cd4d 100.0%)"></div><div style="position:absolute;left:0;top:52px;width:195px;height:2.5px;background:linear-gradient(90deg,#3f24bc 0.0%,#4124d6 25.9%,#4429ef 52.6%,#4632f4 71.0%,#4837f7 80.8%,#4d4df8 84.9%,#5060f8 86.9%,#5085f8 90.0%,#529af6 92.6%,#58a3ed 94.1%,#58afe1 95.6%,#58c1cf 96.7%,#5acbc2 97.2%,#67dc9a 98.2%,#72df84 98.7%,#86d95c 99.2%,#9ecf4f 100.0%)"></div><div style="position:absolute;left:0;top:54px;width:195px;height:2.5px;background:linear-gradient(90deg,#3f24bc 0.0%,#4124d5 25.4%,#4429ef 52.1%,#4632f4 71.0%,#4837f7 80.8%,#4d4cf8 84.9%,#505ff8 86.9%,#5084f8 90.0%,#5199f7 92.6%,#58a5eb 94.6%,#58b6da 96.2%,#59cac3 97.2%,#66db9c 98.2%,#6fe089 98.7%,#82da65 99.2%,#92d454 99.7%,#99d151 100.0%)"></div><div style="position:absolute;left:0;top:56px;width:195px;height:2.5px;background:linear-gradient(90deg,#3f24bc 0.0%,#4123d5 24.9%,#4429ef 52.1%,#4632f4 71.0%,#4837f7 80.8%,#4d4ff8 85.4%,#5064f8 87.4%,#5082f8 90.0%,#5199f7 92.6%,#58a5eb 94.6%,#58b4dc 96.2%,#59cac5 97.2%,#65da9e 98.2%,#6edf8c 98.7%,#7edb6d 99.2%,#8cd656 99.7%,#94d353 100.0%)"></div><div style="position:absolute;left:0;top:58px;width:195px;height:2.5px;background:linear-gradient(90deg,#3f24bc 0.0%,#4123d5 24.4%,#4429ef 52.1%,#4632f4 71.0%,#4837f7 80.8%,#4d4ef8 85.4%,#5063f8 87.4%,#5081f8 90.0%,#529af6 93.1%,#58a4ec 94.6%,#58b3dd 96.2%,#58c9c7 97.2%,#64daa0 98.2%,#6dde8f 98.7%,#87d859 99.7%,#8ed656 100.0%)"></div><div style="position:absolute;left:0;top:60px;width:195px;height:2.5px;background:linear-gradient(90deg,#3f24bc 0.0%,#4123d5 23.8%,#4429ef 51.5%,#4632f4 71.5%,#4838f8 81.3%,#4e51f8 85.9%,#507ff8 90.0%,#5199f7 93.1%,#58a3ed 94.6%,#58b1df 96.2%,#58c8c8 97.2%,#63d9a3 98.2%,#75de7d 99.2%,#89d858 100.0%)"></div><div style="position:absolute;left:0;top:62px;width:195px;height:2.5px;background:linear-gradient(90deg,#3f24bc 0.0%,#4123d5 23.3%,#4429ef 51.5%,#4632f4 71.5%,#4838f8 81.3%,#4e50f8 85.9%,#507df8 90.0%,#5199f7 93.1%,#58a6ea 95.1%,#58b0e0 96.2%,#58c6ca 97.2%,#62d9a5 98.2%,#71e086 99.2%,#84d960 100.0%)"></div><div style="position:absolute;left:0;top:64px;width:195px;height:2.5px;background:linear-gradient(90deg,#3f24bc 0.0%,#4123d5 23.3%,#4429ef 51.0%,#4632f4 71.5%,#4838f8 81.3%,#4d4ef8 85.9%,#5080f8 90.5%,#5098f8 93.1%,#58a1ef 94.6%,#58afe1 96.2%,#58c5cb 97.2%,#60d8a7 98.2%,#6fdf8a 99.2%,#7fdb69 100.0%)"></div><div style="position:absolute;left:0;top:66px;width:195px;height:2.5px;background:linear-gradient(90deg,#3f24bc 0.0%,#4123d5 22.8%,#4429ef 51.0%,#4632f4 71.5%,#4838f8 81.3%,#4d4df8 85.9%,#507ff8 90.5%,#529af6 93.6%,#58a4ec 95.1%,#58aee2 96.2%,#58c3cd 97.2%,#60d7a9 98.2%,#6ddf8d 99.2%,#7bdc72 100.0%)"></div><div style="position:absolute;left:0;top:68px;width:195px;height:2.5px;background:linear-gradient(90deg,#3f24bc 0.0%,#4123d5 22.8%,#4429ef 50.5%,#4632f4 72.1%,#4838f8 81.3%,#4d4cf8 85.9%,#5074f8 89.5%,#5199f7 93.6%,#58a3ed 95.1%,#58ade3 96.2%,#58b6da 96.7%,#58c2ce 97.2%,#5fd6ac 98.2%,#6cde91 99.2%,#71e086 99.7%,#76de7b 100.0%)"></div><div style="position:absolute;left:0;top:70px;width:195px;height:2.5px;background:linear-gradient(90deg,#3f24bb 0.0%,#4123d5 22.3%,#4429ef 50.5%,#4632f4 72.1%,#4838f8 81.3%,#4d4bf8 85.9%,#5072f8 89.5%,#5098f8 93.6%,#58a2ee 95.1%,#58b4dc 96.7%,#58c0d0 97.2%,#5fd5ae 98.2%,#6add94 99.2%,#72df85 100.0%)"></div><div style="position:absolute;left:0;top:72px;width:195px;height:2.5px;background:linear-gradient(90deg,#3f24bc 0.0%,#4124d5 22.3%,#4429ef 50.0%,#4632f4 72.6%,#4838f8 81.3%,#4c4af8 85.9%,#506cf8 89.0%,#5097f8 93.6%,#58a1ef 95.1%,#58b3dd 96.7%,#58bfd1 97.2%,#5accc1 97.7%,#63d9a2 98.7%,#6fdf8a 100.0%)"></div><div style="position:absolute;left:0;top:74px;width:195px;height:2.5px;background:linear-gradient(90deg,#3f24bc 0.0%,#4123d5 21.8%,#4429ef 50.0%,#4632f4 72.6%,#4839f8 81.8%,#4c49f8 85.9%,#506ff8 89.5%,#529af6 94.1%,#58a0f0 95.1%,#58b1df 96.7%,#59cbc3 97.7%,#61d9a5 98.7%,#6ddf8e 100.0%)"></div><div style="position:absolute;left:0;top:76px;width:195px;height:2.5px;background:linear-gradient(90deg,#3f24bc 0.0%,#4123d5 21.3%,#4429ef 49.5%,#4732f4 73.1%,#4839f8 81.8%,#4c48f8 85.9%,#506df8 89.5%,#5199f7 94.1%,#58a4ec 95.6%,#58b0e0 96.7%,#59cac4 97.7%,#60d8a8 98.7%,#6bde91 100.0%)"></div><div style="position:absolute;left:0;top:78px;width:195px;height:2.5px;background:linear-gradient(90deg,#3f24bc 0.0%,#4124d6 21.8%,#4429ee 49.0%,#4732f4 73.6%,#4838f8 81.8%,#4c47f8 85.9%,#505cf8 87.9%,#5098f8 94.1%,#58a3ed 95.6%,#58aee2 96.7%,#58b9d7 97.2%,#58c7c9 97.7%,#5fd6ad 98.7%,#68dc97 100.0%)"></div><div style="position:absolute;left:0;top:80px;width:195px;height:2.5px;background:linear-gradient(90deg,#3f24bc 0.0%,#4124d7 22.8%,#4429ee 48.5%,#4732f4 74.1%,#483af8 82.3%,#4b46f8 85.9%,#505bf8 87.9%,#529af6 94.6%,#58a1ef 95.6%,#58ace4 96.7%,#58b5db 97.2%,#58c3cd 97.7%,#5dd3b2 98.7%,#65db9d 100.0%)"></div><div style="position:absolute;left:0;top:82px;width:195px;height:2.5px;background:linear-gradient(90deg,#3f24bc 0.0%,#4124d8 23.8%,#4429ef 48.5%,#4837f7 80.8%,#4b45f8 85.9%,#4e53f8 87.4%,#5071f8 90.5%,#5199f7 94.6%,#58a0f0 95.6%,#58b1df 97.2%,#59cac3 98.2%,#5fd5ae 99.2%,#62d9a3 100.0%)"></div><div style="position:absolute;left:0;top:84px;width:195px;height:2.5px;background:linear-gradient(90deg,#3f24bc 0.0%,#4124d8 23.8%,#4429ef 47.9%,#4837f7 80.8%,#4b45f8 85.9%,#4e52f8 87.4%,#5070f8 90.5%,#5091f8 94.1%,#539bf5 95.1%,#58a8e8 96.7%,#58afe1 97.2%,#58c8c8 98.2%,#5dd2b3 99.2%,#60d7a9 100.0%)"></div><div style="position:absolute;left:0;top:86px;width:195px;height:2.5px;background:linear-gradient(90deg,#3f24bc 0.0%,#4124d8 23.3%,#4429ef 47.4%,#4836f7 80.8%,#4b44f8 85.9%,#4f57f8 87.9%,#508ff8 94.1%,#559df3 95.6%,#58ace4 97.2%,#58c3cd 98.2%,#5cd0b9 99.2%,#5ed4af 100.0%)"></div><div style="position:absolute;left:0;top:88px;width:195px;height:2.5px;background:linear-gradient(90deg,#3f24bc 0.0%,#4124d8 23.3%,#4429ef 46.9%,#4836f7 80.8%,#4b43f8 85.9%,#4f55f8 87.9%,#508df8 94.1%,#549cf4 95.6%,#58a4ec 96.7%,#58b3dd 97.7%,#58c8c7 98.7%,#5dd2b5 100.0%)"></div><div style="position:absolute;left:0;top:90px;width:195px;height:2.5px;background:linear-gradient(90deg,#3f24bc 0.0%,#4124d8 23.3%,#4429ef 46.4%,#4837f7 81.3%,#4a42f8 85.9%,#4f54f8 87.9%,#5091f8 94.6%,#569ef2 96.2%,#58afe1 97.7%,#58c4cc 98.7%,#5bcebb 100.0%)"></div><div style="position:absolute;left:0;top:92px;width:195px;height:2.5px;background:linear-gradient(90deg,#3f24bc 0.0%,#4124d8 23.3%,#4429ef 46.4%,#4837f7 81.3%,#4a41f8 85.9%,#4e52f8 87.9%,#5090f8 94.6%,#559df3 96.2%,#58ade3 97.7%,#58c6ca 99.2%,#5acbc2 100.0%)"></div><div style="position:absolute;left:0;top:94px;width:195px;height:2.5px;background:linear-gradient(90deg,#3f24bc 0.0%,#4124d8 23.3%,#4429ef 46.4%,#4837f7 81.8%,#4b43f8 86.4%,#5064f8 90.0%,#5199f7 95.6%,#58a0f0 96.7%,#58c8c8 100.0%)"></div><div style="position:absolute;left:0;top:96px;width:195px;height:2.5px;background:linear-gradient(90deg,#3f24bc 0.0%,#4124d8 23.3%,#4429ef 46.4%,#4837f7 81.8%,#4a42f8 86.4%,#5062f8 90.0%,#5199f7 95.6%,#58a4ec 97.2%,#58c1cf 100.0%)"></div><div style="position:absolute;left:0;top:98px;width:195px;height:2.5px;background:linear-gradient(90deg,#3f24bc 0.0%,#4124d8 23.3%,#4429ef 46.4%,#4837f7 82.3%,#4a41f8 86.4%,#5065f8 90.5%,#5098f8 95.6%,#58a2ee 97.2%,#58bbd5 100.0%)"></div><div style="position:absolute;left:0;top:100px;width:195px;height:2.5px;background:linear-gradient(90deg,#3f24bc 0.0%,#4124d8 23.3%,#4429ef 46.4%,#4837f7 82.3%,#4a40f8 86.4%,#5064f8 90.5%,#5097f8 95.6%,#58a1ef 97.2%,#58b5db 100.0%)"></div><div style="position:absolute;left:0;top:102px;width:195px;height:2.5px;background:linear-gradient(90deg,#3f24bc 0.0%,#4124d8 23.3%,#4429ef 46.4%,#4837f7 82.3%,#4a3ef8 86.4%,#5067f8 91.0%,#529af6 96.2%,#58a3ed 97.7%,#58afe1 100.0%)"></div><div style="position:absolute;left:0;top:104px;width:195px;height:2.5px;background:linear-gradient(90deg,#3f24bc 0.0%,#4124d8 23.3%,#4429ef 46.9%,#4837f8 83.3%,#493df8 86.4%,#5059f8 90.0%,#5098f8 96.7%,#58a0f0 98.2%,#58a8e8 100.0%)"></div><div style="position:absolute;left:0;top:106px;width:195px;height:2.5px;background:linear-gradient(90deg,#3f24bc 0.0%,#4124d8 22.8%,#4429ef 46.9%,#4838f8 84.9%,#4a40f8 87.4%,#5066f8 92.1%,#5199f7 97.7%,#58a0f0 100.0%)"></div><div style="position:absolute;left:0;top:108px;width:195px;height:2.5px;background:linear-gradient(90deg,#3f24bc 0.0%,#4124d8 22.8%,#4429ef 47.4%,#4838f8 85.9%,#4b47f8 89.0%,#5069f8 93.1%,#5096f8 98.7%,#529af6 100.0%)"></div><div style="position:absolute;left:0;top:110px;width:195px;height:2.5px;background:linear-gradient(90deg,#3f24bc 0.0%,#4124d8 22.8%,#4429ef 47.4%,#4838f8 86.4%,#4c49f8 90.0%,#506af8 94.1%,#5089f8 98.7%,#508ff8 100.0%)"></div><div style="position:absolute;left:0;top:112px;width:195px;height:2.5px;background:linear-gradient(90deg,#3f24bc 0.0%,#4124d8 22.8%,#4429ef 47.4%,#4736f7 77.7%,#4b45f8 87.4%,#4f56f8 91.0%,#507bf8 97.7%,#5083f8 100.0%)"></div><div style="position:absolute;left:0;top:114px;width:195px;height:2.5px;background:linear-gradient(90deg,#3f24bc 0.0%,#4124d8 22.8%,#4429ef 47.4%,#4836f7 76.7%,#4b44f8 81.3%,#4f55f8 89.5%,#506ff8 97.2%,#5076f8 99.2%,#5077f8 100.0%)"></div><div style="position:absolute;left:0;top:116px;width:195px;height:2.5px;background:linear-gradient(90deg,#3f24bc 0.0%,#4124d8 23.3%,#4429ef 47.9%,#4836f7 76.2%,#4c49f8 80.3%,#506af8 97.7%,#506cf8 100.0%)"></div><div style="position:absolute;left:0;top:118px;width:195px;height:2.5px;background:linear-gradient(90deg,#3f24bc 0.0%,#4124d8 23.8%,#4429ef 48.5%,#4836f7 76.2%,#4c49f8 80.3%,#505ff8 94.1%,#5064f8 100.0%)"></div><div style="position:absolute;left:0;top:120px;width:195px;height:2.5px;background:linear-gradient(90deg,#3f24bc 0.0%,#4124d6 22.3%,#4429ef 49.5%,#4836f7 76.2%,#4c49f8 80.3%,#4f54f8 86.9%,#505df8 98.7%,#505df8 100.0%)"></div><div style="position:absolute;left:0;top:122px;width:195px;height:2.5px;background:linear-gradient(90deg,#3f24bc 0.0%,#4124d6 22.3%,#4429ef 50.0%,#4735f6 76.2%,#4b45f8 81.3%,#4d4ef8 87.4%,#4f55f8 100.0%)"></div><div style="position:absolute;left:0;top:124px;width:195px;height:2.5px;background:linear-gradient(90deg,#3f24bc 0.0%,#4124d7 24.4%,#4429ef 51.0%,#4735f6 77.7%,#4b45f8 89.5%,#4d4df8 100.0%)"></div><div style="position:absolute;left:0;top:126px;width:195px;height:2.5px;background:linear-gradient(90deg,#3f24bc 0.0%,#4124d8 26.4%,#4429ef 52.6%,#4837f7 83.3%,#4c47f8 100.0%)"></div><div style="position:absolute;left:0;top:128px;width:195px;height:2.5px;background:linear-gradient(90deg,#3f24bc 0.0%,#4124d8 26.9%,#4429ef 53.6%,#4837f7 84.4%,#4b45f8 100.0%)"></div><div style="position:absolute;left:0;top:130px;width:195px;height:2.5px;background:linear-gradient(90deg,#3f24bc 0.0%,#4124d8 27.9%,#4429ef 55.1%,#4836f7 85.4%,#4b43f8 100.0%)"></div><div style="position:absolute;left:0;top:132px;width:195px;height:2.5px;background:linear-gradient(90deg,#3f24bc 0.0%,#4124d8 28.5%,#4429ef 56.7%,#4837f7 89.0%,#4a41f8 100.0%)"></div><div style="position:absolute;left:0;top:134px;width:195px;height:2.5px;background:linear-gradient(90deg,#3f24bc 0.0%,#4124d8 29.5%,#4429ef 57.7%,#4837f7 92.1%,#4a3ff8 99.2%,#4a3ff8 100.0%)"></div><div style="position:absolute;left:0;top:136px;width:195px;height:0.8px;background:linear-gradient(90deg,#3f24bc 0.0%,#4124d8 30.0%,#4429ef 59.2%,#4836f7 92.1%,#493df8 98.7%,#493df8 100.0%)"></div></div>
<div style="position:absolute;left:634.5px;top:35.3px;width:15.8px;height:141.9px;background:linear-gradient(0deg,#3e26aa 0.00%,#4022cd 3.00%,#4428ee 6.30%,#4838f8 11.20%,#505af8 17.00%,#5080f8 24.80%,#5098f8 30.00%,#58a0f0 33.80%,#58b0e0 40.30%,#58c8c8 46.60%,#60d8a8 54.50%,#70e088 62.40%,#88d858 67.00%,#b0c848 73.50%,#d0b840 79.00%,#eab048 84.00%,#ece048 91.50%,#e8ff40 100.00%)"></div>
<div style="position:absolute;left:287.3px;top:240.3px;width:15.5px;height:138.9px;background:linear-gradient(0deg,#3e26aa 0.00%,#4022cd 3.00%,#4428ee 6.30%,#4838f8 11.20%,#505af8 17.00%,#5080f8 24.80%,#5098f8 30.00%,#58a0f0 33.80%,#58b0e0 40.30%,#58c8c8 46.60%,#60d8a8 54.50%,#70e088 62.40%,#88d858 67.00%,#b0c848 73.50%,#d0b840 79.00%,#eab048 84.00%,#ece048 91.50%,#e8ff40 100.00%)"></div>
<div style="position:absolute;left:640.5px;top:245.5px;width:15.7px;height:136.8px;background:linear-gradient(0deg,#3e26aa 0.00%,#4022cd 3.00%,#4428ee 6.30%,#4838f8 11.20%,#505af8 17.00%,#5080f8 24.80%,#5098f8 30.00%,#58a0f0 33.80%,#58b0e0 40.30%,#58c8c8 46.60%,#60d8a8 54.50%,#70e088 62.40%,#88d858 67.00%,#b0c848 73.50%,#d0b840 79.00%,#eab048 84.00%,#ece048 91.50%,#e8ff40 100.00%)"></div>
<svg width="685" height="641" viewBox="0 0 685 641">
<line x1="77.50" y1="125.90" x2="303.31" y2="125.90" stroke="#ebebeb" stroke-width="1" />
<line x1="77.50" y1="79.90" x2="303.31" y2="79.90" stroke="#ebebeb" stroke-width="1" />
<line x1="77.50" y1="33.90" x2="303.31" y2="33.90" stroke="#ebebeb" stroke-width="1" />
<line x1="77.50" y1="29.30" x2="77.50" y2="172.40" stroke="#808080" stroke-width="1" />
<line x1="77.00" y1="171.90" x2="303.81" y2="171.90" stroke="#808080" stroke-width="1" />
<line x1="77.50" y1="125.90" x2="82.50" y2="125.90" stroke="#808080" stroke-width="1" />
<line x1="77.50" y1="79.90" x2="82.50" y2="79.90" stroke="#808080" stroke-width="1" />
<line x1="77.50" y1="33.90" x2="82.50" y2="33.90" stroke="#808080" stroke-width="1" />
<line x1="152.77" y1="171.90" x2="152.77" y2="167.00" stroke="#808080" stroke-width="1" />
<line x1="228.04" y1="171.90" x2="228.04" y2="167.00" stroke="#808080" stroke-width="1" />
<line x1="303.31" y1="171.90" x2="303.31" y2="167.00" stroke="#808080" stroke-width="1" />
<text x="71.30" y="178.10" font-size="17.60" text-anchor="end" fill="#262626" >0</text>
<text x="71.30" y="132.10" font-size="17.60" text-anchor="end" fill="#262626" >1</text>
<text x="71.30" y="86.10" font-size="17.60" text-anchor="end" fill="#262626" >2</text>
<text x="71.30" y="40.10" font-size="17.60" text-anchor="end" fill="#262626" >3</text>
<text x="77.50" y="194.00" font-size="17.60" text-anchor="middle" fill="#262626" >0</text>
<text x="152.77" y="194.00" font-size="17.60" text-anchor="middle" fill="#262626" >1</text>
<text x="228.04" y="194.00" font-size="17.60" text-anchor="middle" fill="#262626" >2</text>
<text x="303.31" y="194.00" font-size="17.60" text-anchor="middle" fill="#262626" >3</text>
<defs><clipPath id="clipA"><rect x="77" y="20" width="228" height="153"/></clipPath></defs>
<path d="M77.50,125.90 L78.26,125.00 L79.01,124.07 L79.77,123.12 L80.52,122.15 L81.28,121.15 L82.03,120.13 L82.79,119.09 L83.54,118.02 L84.30,116.94 L85.05,115.83 L85.81,114.71 L86.56,113.57 L87.32,112.41 L88.07,111.21 L88.83,109.98 L89.58,108.72 L90.34,107.42 L91.09,106.08 L91.85,104.69 L92.60,103.22 L93.36,101.68 L94.11,100.08 L94.87,98.42 L95.63,96.74 L96.38,95.02 L97.14,93.30 L97.89,91.58 L98.65,89.87 L99.40,88.18 L100.16,86.50 L100.91,84.76 L101.67,83.01 L102.42,81.24 L103.18,79.47 L103.93,77.73 L104.69,76.02 L105.44,74.35 L106.20,72.76 L106.95,71.24 L107.71,69.82 L108.46,68.53 L109.22,67.32 L109.97,66.13 L110.73,64.92 L111.48,63.62 L112.24,62.19 L113.00,60.72 L113.75,59.16 L114.51,57.35 L115.26,55.09 L116.02,51.43 L116.77,46.80 L117.53,42.43 L118.28,39.47 L119.04,37.25 L119.79,35.34 L120.55,34.13 L121.30,33.98 L122.06,34.81 L122.81,36.38 L123.57,38.47 L124.32,40.85 L125.08,43.32 L125.83,45.94 L126.59,49.24 L127.34,52.96 L128.10,56.80 L128.85,60.47 L129.61,64.14 L130.37,67.87 L131.12,71.57 L131.88,75.13 L132.63,78.48 L133.39,81.76 L134.14,84.92 L134.90,87.90 L135.65,90.63 L136.41,93.17 L137.16,95.59 L137.92,97.90 L138.67,100.09 L139.43,102.17 L140.18,104.14 L140.94,105.99 L141.69,107.73 L142.45,109.39 L143.20,110.96 L143.96,112.46 L144.71,113.90 L145.47,115.30 L146.22,116.64 L146.98,117.95 L147.74,119.20 L148.49,120.42 L149.25,121.60 L150.00,122.75 L150.76,123.88 L151.51,124.99 L152.27,126.09 L153.02,127.18 L153.78,128.27 L154.53,129.34 L155.29,130.40 L156.04,131.45 L156.80,132.47 L157.55,133.48 L158.31,134.47 L159.06,135.43 L159.82,136.36 L160.57,137.27 L161.33,138.18 L162.08,139.09 L162.84,140.00 L163.59,140.90 L164.35,141.80 L165.11,142.69 L165.86,143.56 L166.62,144.41 L167.37,145.25 L168.13,146.06 L168.88,146.84 L169.64,147.59 L170.39,148.31 L171.15,148.98 L171.90,149.62 L172.66,150.21 L173.41,150.75 L174.17,151.27 L174.92,151.77 L175.68,152.26 L176.43,152.73 L177.19,153.20 L177.94,153.65 L178.70,154.08 L179.45,154.51 L180.21,154.92 L180.96,155.31 L181.72,155.69 L182.48,156.06 L183.23,156.41 L183.99,156.75 L184.74,157.07 L185.50,157.37 L186.25,157.66 L187.01,157.93 L187.76,158.19 L188.52,158.42 L189.27,158.64 L190.03,158.85 L190.78,159.04 L191.54,159.21 L192.29,159.38 L193.05,159.54 L193.80,159.69 L194.56,159.83 L195.31,159.97 L196.07,160.11 L196.82,160.25 L197.58,160.39 L198.33,160.53 L199.09,160.68 L199.85,160.83 L200.60,161.00 L201.36,161.16 L202.11,161.33 L202.87,161.49 L203.62,161.66 L204.38,161.83 L205.13,162.00 L205.89,162.17 L206.64,162.34 L207.40,162.51 L208.15,162.68 L208.91,162.85 L209.66,163.02 L210.42,163.19 L211.17,163.35 L211.93,163.51 L212.68,163.67 L213.44,163.82 L214.19,163.97 L214.95,164.12 L215.70,164.26 L216.46,164.39 L217.22,164.53 L217.97,164.66 L218.73,164.80 L219.48,164.93 L220.24,165.06 L220.99,165.19 L221.75,165.32 L222.50,165.44 L223.26,165.57 L224.01,165.69 L224.77,165.81 L225.52,165.93 L226.28,166.04 L227.03,166.15 L227.79,166.27 L228.54,166.37 L229.30,166.48 L230.05,166.58 L230.81,166.68 L231.56,166.77 L232.32,166.87 L233.07,166.96 L233.83,167.04 L234.59,167.13 L235.34,167.21 L236.10,167.30 L236.85,167.38 L237.61,167.46 L238.36,167.54 L239.12,167.61 L239.87,167.69 L240.63,167.76 L241.38,167.83 L242.14,167.90 L242.89,167.97 L243.65,168.04 L244.40,168.11 L245.16,168.18 L245.91,168.24 L246.67,168.31 L247.42,168.37 L248.18,168.43 L248.93,168.50 L249.69,168.56 L250.44,168.63 L251.20,168.69 L251.96,168.76 L252.71,168.82 L253.47,168.89 L254.22,168.95 L254.98,169.01 L255.73,169.07 L256.49,169.13 L257.24,169.19 L258.00,169.25 L258.75,169.30 L259.51,169.35 L260.26,169.40 L261.02,169.45 L261.77,169.49 L262.53,169.53 L263.28,169.56 L264.04,169.59 L264.79,169.62 L265.55,169.65 L266.30,169.68 L267.06,169.71 L267.81,169.74 L268.57,169.77 L269.33,169.79 L270.08,169.82 L270.84,169.85 L271.59,169.87 L272.35,169.90 L273.10,169.93 L273.86,169.95 L274.61,169.98 L275.37,170.00 L276.12,170.03 L276.88,170.05 L277.63,170.07 L278.39,170.10 L279.14,170.12 L279.90,170.14 L280.65,170.16 L281.41,170.18 L282.16,170.21 L282.92,170.23 L283.67,170.25 L284.43,170.26 L285.18,170.28 L285.94,170.30 L286.70,170.32 L287.45,170.34 L288.21,170.35 L288.96,170.37 L289.72,170.38 L290.47,170.40 L291.23,170.41 L291.98,170.42 L292.74,170.43 L293.49,170.45 L294.25,170.46 L295.00,170.47 L295.76,170.48 L296.51,170.48 L297.27,170.49 L298.02,170.50 L298.78,170.50 L299.53,170.51 L300.29,170.51 L301.04,170.52 L301.80,170.52 L302.55,170.52 L303.31,170.52" fill="none" stroke="#3876c0" stroke-width="2" stroke-linejoin="round" clip-path="url(#clipA)"/>
<path d="M77.50,125.90 L78.26,125.00 L79.01,124.07 L79.77,123.12 L80.52,122.15 L81.28,121.15 L82.03,120.13 L82.79,119.09 L83.54,118.02 L84.30,116.94 L85.05,115.83 L85.81,114.71 L86.56,113.57 L87.32,112.41 L88.07,111.21 L88.83,109.98 L89.58,108.72 L90.34,107.42 L91.09,106.08 L91.85,104.69 L92.60,103.22 L93.36,101.68 L94.11,100.08 L94.87,98.42 L95.63,96.74 L96.38,95.02 L97.14,93.30 L97.89,91.58 L98.65,89.87 L99.40,88.18 L100.16,86.49 L100.91,84.76 L101.67,82.99 L102.42,81.21 L103.18,79.44 L103.93,77.68 L104.69,75.97 L105.44,74.31 L106.20,72.72 L106.95,71.23 L107.71,69.80 L108.46,68.36 L109.22,66.92 L109.97,65.50 L110.73,64.12 L111.48,62.81 L112.24,61.59 L113.00,60.48 L113.75,59.51 L114.51,58.70 L115.26,58.06 L116.02,57.46 L116.77,56.88 L117.53,56.33 L118.28,55.82 L119.04,55.35 L119.79,54.94 L120.55,54.61 L121.30,54.36 L122.06,54.20 L122.81,54.14 L123.57,54.17 L124.32,54.27 L125.08,54.43 L125.83,54.63 L126.59,54.87 L127.34,55.14 L128.10,55.44 L128.85,55.75 L129.61,56.07 L130.37,56.39 L131.12,56.72 L131.88,57.10 L132.63,57.51 L133.39,57.97 L134.14,58.47 L134.90,59.00 L135.65,59.57 L136.41,60.16 L137.16,60.78 L137.92,61.43 L138.67,62.10 L139.43,62.79 L140.18,63.50 L140.94,64.23 L141.69,65.06 L142.45,65.96 L143.20,66.93 L143.96,67.95 L144.71,69.02 L145.47,70.12 L146.22,71.24 L146.98,72.37 L147.74,73.49 L148.49,74.59 L149.25,75.67 L150.00,76.70 L150.76,77.71 L151.51,78.72 L152.27,79.73 L153.02,80.74 L153.78,81.75 L154.53,82.76 L155.29,83.76 L156.04,84.75 L156.80,85.74 L157.55,86.72 L158.31,87.70 L159.06,88.66 L159.82,89.61 L160.57,90.55 L161.33,91.49 L162.08,92.42 L162.84,93.35 L163.59,94.28 L164.35,95.20 L165.11,96.11 L165.86,97.02 L166.62,97.92 L167.37,98.81 L168.13,99.70 L168.88,100.58 L169.64,101.45 L170.39,102.32 L171.15,103.17 L171.90,104.02 L172.66,104.85 L173.41,105.68 L174.17,106.50 L174.92,107.32 L175.68,108.14 L176.43,108.96 L177.19,109.78 L177.94,110.59 L178.70,111.39 L179.45,112.19 L180.21,112.98 L180.96,113.77 L181.72,114.54 L182.48,115.30 L183.23,116.06 L183.99,116.80 L184.74,117.52 L185.50,118.23 L186.25,118.93 L187.01,119.61 L187.76,120.27 L188.52,120.92 L189.27,121.54 L190.03,122.15 L190.78,122.73 L191.54,123.29 L192.29,123.84 L193.05,124.37 L193.80,124.89 L194.56,125.41 L195.31,125.92 L196.07,126.43 L196.82,126.94 L197.58,127.45 L198.33,127.97 L199.09,128.50 L199.85,129.03 L200.60,129.58 L201.36,130.14 L202.11,130.71 L202.87,131.28 L203.62,131.86 L204.38,132.43 L205.13,133.00 L205.89,133.57 L206.64,134.14 L207.40,134.69 L208.15,135.23 L208.91,135.76 L209.66,136.27 L210.42,136.77 L211.17,137.25 L211.93,137.73 L212.68,138.19 L213.44,138.64 L214.19,139.08 L214.95,139.52 L215.70,139.95 L216.46,140.38 L217.22,140.80 L217.97,141.22 L218.73,141.64 L219.48,142.06 L220.24,142.47 L220.99,142.88 L221.75,143.29 L222.50,143.69 L223.26,144.09 L224.01,144.49 L224.77,144.88 L225.52,145.27 L226.28,145.65 L227.03,146.03 L227.79,146.40 L228.54,146.77 L229.30,147.14 L230.05,147.49 L230.81,147.85 L231.56,148.19 L232.32,148.54 L233.07,148.88 L233.83,149.21 L234.59,149.54 L235.34,149.87 L236.10,150.20 L236.85,150.52 L237.61,150.84 L238.36,151.16 L239.12,151.47 L239.87,151.78 L240.63,152.08 L241.38,152.38 L242.14,152.68 L242.89,152.97 L243.65,153.25 L244.40,153.54 L245.16,153.81 L245.91,154.08 L246.67,154.35 L247.42,154.61 L248.18,154.87 L248.93,155.12 L249.69,155.37 L250.44,155.61 L251.20,155.86 L251.96,156.10 L252.71,156.33 L253.47,156.57 L254.22,156.79 L254.98,157.02 L255.73,157.24 L256.49,157.46 L257.24,157.68 L258.00,157.89 L258.75,158.10 L259.51,158.30 L260.26,158.50 L261.02,158.70 L261.77,158.89 L262.53,159.08 L263.28,159.27 L264.04,159.45 L264.79,159.63 L265.55,159.80 L266.30,159.98 L267.06,160.16 L267.81,160.33 L268.57,160.50 L269.33,160.67 L270.08,160.84 L270.84,161.00 L271.59,161.16 L272.35,161.32 L273.10,161.47 L273.86,161.62 L274.61,161.77 L275.37,161.91 L276.12,162.04 L276.88,162.18 L277.63,162.30 L278.39,162.42 L279.14,162.54 L279.90,162.65 L280.65,162.75 L281.41,162.85 L282.16,162.95 L282.92,163.05 L283.67,163.15 L284.43,163.25 L285.18,163.35 L285.94,163.44 L286.70,163.54 L287.45,163.63 L288.21,163.72 L288.96,163.81 L289.72,163.90 L290.47,163.98 L291.23,164.06 L291.98,164.14 L292.74,164.22 L293.49,164.30 L294.25,164.37 L295.00,164.44 L295.76,164.51 L296.51,164.57 L297.27,164.63 L298.02,164.69 L298.78,164.75 L299.53,164.80 L300.29,164.84 L301.04,164.89 L301.80,164.93 L302.55,164.97 L303.31,165.00" fill="none" stroke="#a2182f" stroke-width="2" stroke-linejoin="round" clip-path="url(#clipA)"/>
<path d="M77.50,125.90 L78.26,125.16 L79.01,124.43 L79.77,123.69 L80.52,122.95 L81.28,122.21 L82.03,121.47 L82.79,120.74 L83.54,120.00 L84.30,119.26 L85.05,118.52 L85.81,117.76 L86.56,117.00 L87.32,116.22 L88.07,115.45 L88.83,114.68 L89.58,113.93 L90.34,113.21 L91.09,112.52 L91.85,111.87 L92.60,111.22 L93.36,110.57 L94.11,109.93 L94.87,109.29 L95.63,108.67 L96.38,108.07 L97.14,107.50 L97.89,106.95 L98.65,106.45 L99.40,105.98 L100.16,105.56 L100.91,105.20 L101.67,104.85 L102.42,104.50 L103.18,104.17 L103.93,103.87 L104.69,103.62 L105.44,103.45 L106.20,103.36 L106.95,103.39 L107.71,103.54 L108.46,103.79 L109.22,104.13 L109.97,104.53 L110.73,105.00 L111.48,105.51 L112.24,106.04 L113.00,106.58 L113.75,107.13 L114.51,107.65 L115.26,108.14 L116.02,108.66 L116.77,109.22 L117.53,109.81 L118.28,110.42 L119.04,111.04 L119.79,111.67 L120.55,112.29 L121.30,112.90 L122.06,113.49 L122.81,114.05 L123.57,114.58 L124.32,115.10 L125.08,115.61 L125.83,116.11 L126.59,116.61 L127.34,117.10 L128.10,117.59 L128.85,118.08 L129.61,118.58 L130.37,119.08 L131.12,119.60 L131.88,120.13 L132.63,120.68 L133.39,121.24 L134.14,121.81 L134.90,122.39 L135.65,122.98 L136.41,123.58 L137.16,124.18 L137.92,124.78 L138.67,125.38 L139.43,125.98 L140.18,126.57 L140.94,127.16 L141.69,127.74 L142.45,128.32 L143.20,128.90 L143.96,129.48 L144.71,130.06 L145.47,130.64 L146.22,131.22 L146.98,131.81 L147.74,132.40 L148.49,133.00 L149.25,133.61 L150.00,134.23 L150.76,134.88 L151.51,135.54 L152.27,136.22 L153.02,136.91 L153.78,137.60 L154.53,138.29 L155.29,138.97 L156.04,139.65 L156.80,140.31 L157.55,140.95 L158.31,141.56 L159.06,142.14 L159.82,142.69 L160.57,143.21 L161.33,143.71 L162.08,144.20 L162.84,144.69 L163.59,145.16 L164.35,145.63 L165.11,146.08 L165.86,146.52 L166.62,146.95 L167.37,147.37 L168.13,147.78 L168.88,148.18 L169.64,148.56 L170.39,148.93 L171.15,149.29 L171.90,149.64 L172.66,149.97 L173.41,150.29 L174.17,150.60 L174.92,150.90 L175.68,151.19 L176.43,151.48 L177.19,151.76 L177.94,152.04 L178.70,152.30 L179.45,152.57 L180.21,152.82 L180.96,153.07 L181.72,153.31 L182.48,153.55 L183.23,153.78 L183.99,154.01 L184.74,154.22 L185.50,154.44 L186.25,154.64 L187.01,154.84 L187.76,155.04 L188.52,155.23 L189.27,155.41 L190.03,155.59 L190.78,155.76 L191.54,155.92 L192.29,156.08 L193.05,156.23 L193.80,156.38 L194.56,156.53 L195.31,156.67 L196.07,156.81 L196.82,156.95 L197.58,157.09 L198.33,157.22 L199.09,157.36 L199.85,157.49 L200.60,157.62 L201.36,157.76 L202.11,157.90 L202.87,158.04 L203.62,158.18 L204.38,158.32 L205.13,158.46 L205.89,158.60 L206.64,158.75 L207.40,158.89 L208.15,159.03 L208.91,159.17 L209.66,159.31 L210.42,159.45 L211.17,159.59 L211.93,159.73 L212.68,159.87 L213.44,160.01 L214.19,160.14 L214.95,160.28 L215.70,160.42 L216.46,160.55 L217.22,160.68 L217.97,160.82 L218.73,160.95 L219.48,161.08 L220.24,161.21 L220.99,161.34 L221.75,161.47 L222.50,161.59 L223.26,161.72 L224.01,161.85 L224.77,161.98 L225.52,162.11 L226.28,162.23 L227.03,162.36 L227.79,162.48 L228.54,162.60 L229.30,162.73 L230.05,162.85 L230.81,162.96 L231.56,163.08 L232.32,163.19 L233.07,163.30 L233.83,163.41 L234.59,163.52 L235.34,163.62 L236.10,163.72 L236.85,163.82 L237.61,163.92 L238.36,164.02 L239.12,164.11 L239.87,164.21 L240.63,164.30 L241.38,164.39 L242.14,164.49 L242.89,164.58 L243.65,164.66 L244.40,164.75 L245.16,164.83 L245.91,164.92 L246.67,165.00 L247.42,165.08 L248.18,165.16 L248.93,165.23 L249.69,165.30 L250.44,165.38 L251.20,165.44 L251.96,165.51 L252.71,165.58 L253.47,165.64 L254.22,165.70 L254.98,165.76 L255.73,165.82 L256.49,165.87 L257.24,165.93 L258.00,165.98 L258.75,166.03 L259.51,166.09 L260.26,166.14 L261.02,166.19 L261.77,166.24 L262.53,166.29 L263.28,166.34 L264.04,166.39 L264.79,166.44 L265.55,166.50 L266.30,166.55 L267.06,166.60 L267.81,166.66 L268.57,166.71 L269.33,166.77 L270.08,166.82 L270.84,166.88 L271.59,166.93 L272.35,166.99 L273.10,167.04 L273.86,167.10 L274.61,167.16 L275.37,167.21 L276.12,167.27 L276.88,167.32 L277.63,167.37 L278.39,167.43 L279.14,167.48 L279.90,167.53 L280.65,167.58 L281.41,167.63 L282.16,167.68 L282.92,167.72 L283.67,167.77 L284.43,167.81 L285.18,167.86 L285.94,167.90 L286.70,167.95 L287.45,167.99 L288.21,168.03 L288.96,168.07 L289.72,168.12 L290.47,168.16 L291.23,168.20 L291.98,168.24 L292.74,168.28 L293.49,168.32 L294.25,168.36 L295.00,168.39 L295.76,168.43 L296.51,168.47 L297.27,168.50 L298.02,168.54 L298.78,168.58 L299.53,168.61 L300.29,168.64 L301.04,168.68 L301.80,168.71 L302.55,168.74 L303.31,168.77" fill="none" stroke="#000" stroke-width="2" stroke-linejoin="round" stroke-dasharray="7,7.5" clip-path="url(#clipA)"/>
<line x1="96.30" y1="101.50" x2="129.50" y2="101.50" stroke="#000" stroke-width="1" stroke-dasharray="1,1.2"/>
<line x1="106.45" y1="171.50" x2="106.45" y2="108.00" stroke="#000" stroke-width="1.2" stroke-dasharray="3.7,2.8"/>
<path d="M106.45,101.3 L109.9,110.8 L106.45,109.6 L103.0,110.8 Z" fill="#000"/>
<line x1="104.00" y1="51.30" x2="178.50" y2="51.30" stroke="#a2182f" stroke-width="1" stroke-dasharray="1,1.2"/>
<line x1="160.50" y1="171.50" x2="160.50" y2="60.00" stroke="#a2182f" stroke-width="1.2" stroke-dasharray="3.7,2.8"/>
<path d="M160.5,52.3 L163.9,61.8 L160.5,60.6 L157.1,61.8 Z" fill="#a2182f"/>
<text x="104.40" y="98.10" font-size="18.40" text-anchor="start" class="sf" fill="#1a1a1a" font-style="italic">l</text>
<line x1="105.00" y1="83.60" x2="111.20" y2="83.60" stroke="#1a1a1a" stroke-width="0.95" />
<text x="109.50" y="99.30" font-size="13.40" text-anchor="start" class="sf" fill="#1a1a1a" textLength="21.00" lengthAdjust="spacingAndGlyphs">cons</text>
<text x="151.20" y="47.60" font-size="18.40" text-anchor="start" class="sf" fill="#1a1a1a" font-style="italic">l</text>
<line x1="152.00" y1="33.10" x2="158.00" y2="33.10" stroke="#1a1a1a" stroke-width="0.95" />
<text x="156.00" y="49.50" font-size="13.40" text-anchor="start" class="sf" fill="#1a1a1a" textLength="20.40" lengthAdjust="spacingAndGlyphs">max</text>
<rect x="182.6" y="31.6" width="131.8" height="48.7" fill="#fff" stroke="#8a8a8a" stroke-width="1"/>
<line x1="185.90" y1="40.60" x2="193.50" y2="40.60" stroke="#000" stroke-width="2" />
<line x1="200.60" y1="40.60" x2="208.20" y2="40.60" stroke="#000" stroke-width="2" />
<line x1="185.50" y1="55.80" x2="215.00" y2="55.80" stroke="#3876c0" stroke-width="2" />
<line x1="185.50" y1="71.00" x2="215.00" y2="71.00" stroke="#a2182f" stroke-width="2" />
<text x="217.40" y="45.10" font-size="13.00" text-anchor="start" fill="#262626" textLength="91.2" lengthAdjust="spacingAndGlyphs">No oscillations</text>
<text x="217.20" y="60.30" font-size="13.00" text-anchor="start" fill="#262626" textLength="89.8" lengthAdjust="spacingAndGlyphs"><tspan font-style="italic">A</tspan> = 0.5, <tspan font-style="italic">T</tspan> = 5</text>
<text x="217.60" y="75.50" font-size="13.00" text-anchor="start" fill="#262626" textLength="93" lengthAdjust="spacingAndGlyphs"><tspan font-style="italic">f</tspan> = 0.75, <tspan font-style="italic">T</tspan> = 5</text>
<g transform="translate(43.20,101.00) rotate(-90)">
<text x="0" y="0" font-size="18.6" text-anchor="middle" fill="#262626" textLength="194" lengthAdjust="spacingAndGlyphs">Mean pol. length <tspan class="sf" font-style="italic" font-size="19" dy="-4" dx="-1.5">l</tspan><tspan dy="4" dx="1.5"> (nt)</tspan></text>
</g>
<line x1="22.80" y1="39.90" x2="22.80" y2="44.90" stroke="#262626" stroke-width="0.9" />
<g transform="translate(0.00,0.00)">
<path d="M181.3,204.3 C181.9,202.1 183.3,200.9 184.8,201.1 C186.6,201.4 187.5,203.6 187.8,206.6 C187.9,208.9 187.2,211.0 186.3,212.9" fill="none" stroke="#262626" stroke-width="1.35" stroke-linecap="round"/>
<path d="M190.6,201.1 C189.8,203.1 188.8,205.1 187.9,207.3" fill="none" stroke="#262626" stroke-width="0.95" stroke-linecap="round"/>
</g>
<text x="191.00" y="218.70" font-size="16.30" text-anchor="start" fill="#262626" >0</text>
<text x="0.30" y="17.50" font-size="23.50" text-anchor="start" fill="#000" >A</text>
<text x="360.60" y="17.60" font-size="23.50" text-anchor="start" fill="#000" >B</text>
<text x="1.60" y="237.00" font-size="23.50" text-anchor="start" fill="#000" >C</text>
<text x="360.90" y="238.00" font-size="23.50" text-anchor="start" fill="#000" >D</text>
<text x="2.60" y="438.60" font-size="23.50" text-anchor="start" fill="#000" >E</text>
<text x="361.60" y="437.20" font-size="23.50" text-anchor="start" fill="#000" >F</text>
<text x="426.30" y="42.20" font-size="17.60" text-anchor="end" fill="#262626" textLength="21.53" lengthAdjust="spacingAndGlyphs">25</text>
<text x="426.30" y="74.20" font-size="17.60" text-anchor="end" fill="#262626" textLength="21.53" lengthAdjust="spacingAndGlyphs">20</text>
<text x="426.30" y="106.20" font-size="17.60" text-anchor="end" fill="#262626" textLength="21.53" lengthAdjust="spacingAndGlyphs">15</text>
<text x="426.30" y="138.20" font-size="17.60" text-anchor="end" fill="#262626" textLength="21.53" lengthAdjust="spacingAndGlyphs">10</text>
<text x="426.30" y="170.20" font-size="17.60" text-anchor="end" fill="#262626" >5</text>
<text x="432.00" y="199.00" font-size="17.60" text-anchor="middle" fill="#262626" >0</text>
<text x="529.50" y="199.00" font-size="17.60" text-anchor="middle" fill="#262626" textLength="26.91" lengthAdjust="spacingAndGlyphs">0.5</text>
<text x="627.00" y="199.00" font-size="17.60" text-anchor="middle" fill="#262626" >1</text>
<line x1="432.00" y1="35.40" x2="627.00" y2="35.40" stroke="#6e6e6e" stroke-width="0.8" />
<text x="476.00" y="218.60" font-size="18.60" text-anchor="start" fill="#262626" textLength="106" lengthAdjust="spacingAndGlyphs">Amplitude <tspan font-style="italic">A</tspan></text>
<g transform="translate(397.60,106.20) rotate(-90)">
<text x="0" y="0" font-size="18.60" text-anchor="middle" fill="#262626" textLength="70.0" lengthAdjust="spacingAndGlyphs">Period <tspan font-style="italic">T</tspan></text>
</g>
<rect x="634.50" y="35.30" width="15.80" height="141.90" fill="none" stroke="#6e6e6e" stroke-width="0.8"/>
<line x1="647.80" y1="177.00" x2="650.30" y2="177.00" stroke="#262626" stroke-width="1" />
<text x="655.90" y="182.70" font-size="16.20" text-anchor="start" fill="#262626" >0</text>
<line x1="647.80" y1="116.00" x2="650.30" y2="116.00" stroke="#262626" stroke-width="1" />
<text x="655.90" y="121.70" font-size="16.20" text-anchor="start" fill="#262626" >5</text>
<line x1="647.80" y1="55.00" x2="650.30" y2="55.00" stroke="#262626" stroke-width="1" />
<text x="655.90" y="60.70" font-size="16.20" text-anchor="start" fill="#262626" textLength="19.82" lengthAdjust="spacingAndGlyphs">10</text>
<text x="605.60" y="22.40" font-size="18.40" text-anchor="start" class="sf" fill="#1a1a1a" font-style="italic">l</text>
<line x1="606.50" y1="7.90" x2="612.50" y2="7.90" stroke="#1a1a1a" stroke-width="0.95" />
<text x="610.90" y="24.60" font-size="13.40" text-anchor="start" class="sf" fill="#1a1a1a" textLength="22.00" lengthAdjust="spacingAndGlyphs">max</text>
<line x1="640.00" y1="17.10" x2="650.90" y2="17.10" stroke="#1a1a1a" stroke-width="1" />
<text x="656.20" y="22.40" font-size="18.40" text-anchor="start" class="sf" fill="#1a1a1a" font-style="italic">l</text>
<line x1="657.00" y1="7.90" x2="663.30" y2="7.90" stroke="#1a1a1a" stroke-width="0.95" />
<text x="661.80" y="24.60" font-size="13.40" text-anchor="start" class="sf" fill="#1a1a1a" textLength="23.20" lengthAdjust="spacingAndGlyphs">cons</text>
<text x="70.40" y="247.20" font-size="17.60" text-anchor="end" fill="#262626" textLength="21.53" lengthAdjust="spacingAndGlyphs">25</text>
<text x="70.40" y="278.70" font-size="17.60" text-anchor="end" fill="#262626" textLength="21.53" lengthAdjust="spacingAndGlyphs">20</text>
<text x="70.40" y="310.20" font-size="17.60" text-anchor="end" fill="#262626" textLength="21.53" lengthAdjust="spacingAndGlyphs">15</text>
<text x="70.40" y="341.70" font-size="17.60" text-anchor="end" fill="#262626" textLength="21.53" lengthAdjust="spacingAndGlyphs">10</text>
<text x="70.40" y="373.20" font-size="17.60" text-anchor="end" fill="#262626" >5</text>
<text x="76.60" y="401.00" font-size="17.60" text-anchor="middle" fill="#262626" >0</text>
<text x="175.20" y="401.00" font-size="17.60" text-anchor="middle" fill="#262626" textLength="26.91" lengthAdjust="spacingAndGlyphs">0.5</text>
<text x="273.80" y="401.00" font-size="17.60" text-anchor="middle" fill="#262626" >1</text>
<line x1="76.60" y1="240.10" x2="273.80" y2="240.10" stroke="#6e6e6e" stroke-width="0.8" />
<g transform="translate(-15.40,208.30)">
<path d="M181.3,204.3 C181.9,202.1 183.3,200.9 184.8,201.1 C186.6,201.4 187.5,203.6 187.8,206.6 C187.9,208.9 187.2,211.0 186.3,212.9" fill="none" stroke="#262626" stroke-width="1.35" stroke-linecap="round"/>
<path d="M190.6,201.1 C189.8,203.1 188.8,205.1 187.9,207.3" fill="none" stroke="#262626" stroke-width="0.95" stroke-linecap="round"/>
</g>
<text x="175.60" y="427.00" font-size="16.30" text-anchor="start" fill="#262626" >0</text>
<g transform="translate(42.30,309.70) rotate(-90)">
<text x="0" y="0" font-size="18.60" text-anchor="middle" fill="#262626" textLength="70.0" lengthAdjust="spacingAndGlyphs">Period <tspan font-style="italic">T</tspan></text>
</g>
<rect x="287.30" y="240.30" width="15.50" height="138.90" fill="none" stroke="#6e6e6e" stroke-width="0.8"/>
<line x1="300.30" y1="265.00" x2="302.80" y2="265.00" stroke="#262626" stroke-width="1" />
<text x="307.80" y="270.70" font-size="16.20" text-anchor="start" fill="#262626" >2</text>
<line x1="300.30" y1="302.50" x2="302.80" y2="302.50" stroke="#262626" stroke-width="1" />
<text x="307.80" y="308.20" font-size="16.20" text-anchor="start" fill="#262626" textLength="24.77" lengthAdjust="spacingAndGlyphs">1.5</text>
<line x1="300.30" y1="339.40" x2="302.80" y2="339.40" stroke="#262626" stroke-width="1" />
<text x="307.80" y="345.10" font-size="16.20" text-anchor="start" fill="#262626" >1</text>
<line x1="300.30" y1="376.90" x2="302.80" y2="376.90" stroke="#262626" stroke-width="1" />
<text x="307.80" y="382.60" font-size="16.20" text-anchor="start" fill="#262626" textLength="24.77" lengthAdjust="spacingAndGlyphs">0.5</text>
<text x="291.30" y="234.50" font-size="18.40" text-anchor="start" class="sf" fill="#1a1a1a" font-style="italic">l</text>
<line x1="292.00" y1="220.00" x2="298.00" y2="220.00" stroke="#1a1a1a" stroke-width="0.95" />
<text x="425.60" y="274.20" font-size="17.60" text-anchor="end" fill="#262626" textLength="21.53" lengthAdjust="spacingAndGlyphs">20</text>
<text x="425.60" y="308.20" font-size="17.60" text-anchor="end" fill="#262626" textLength="21.53" lengthAdjust="spacingAndGlyphs">15</text>
<text x="425.60" y="342.20" font-size="17.60" text-anchor="end" fill="#262626" textLength="21.53" lengthAdjust="spacingAndGlyphs">10</text>
<text x="425.60" y="376.20" font-size="17.60" text-anchor="end" fill="#262626" >5</text>
<text x="432.00" y="404.60" font-size="17.60" text-anchor="middle" fill="#262626" >0</text>
<text x="529.50" y="404.60" font-size="17.60" text-anchor="middle" fill="#262626" textLength="26.91" lengthAdjust="spacingAndGlyphs">0.5</text>
<text x="627.00" y="404.60" font-size="17.60" text-anchor="middle" fill="#262626" >1</text>
<line x1="432.00" y1="245.60" x2="627.00" y2="245.60" stroke="#6e6e6e" stroke-width="0.8" />
<text x="442.50" y="421.70" font-size="18.60" text-anchor="start" fill="#262626" textLength="174" lengthAdjust="spacingAndGlyphs">Amplitude fraction <tspan font-style="italic">f</tspan></text>
<g transform="translate(397.60,313.90) rotate(-90)">
<text x="0" y="0" font-size="18.60" text-anchor="middle" fill="#262626" textLength="70.0" lengthAdjust="spacingAndGlyphs">Period <tspan font-style="italic">T</tspan></text>
</g>
<rect x="640.50" y="245.50" width="15.70" height="136.80" fill="none" stroke="#6e6e6e" stroke-width="0.8"/>
<line x1="653.70" y1="247.00" x2="656.20" y2="247.00" stroke="#262626" stroke-width="1" />
<text x="661.40" y="252.70" font-size="16.20" text-anchor="start" fill="#262626" textLength="19.82" lengthAdjust="spacingAndGlyphs">20</text>
<line x1="653.70" y1="283.30" x2="656.20" y2="283.30" stroke="#262626" stroke-width="1" />
<text x="661.40" y="289.00" font-size="16.20" text-anchor="start" fill="#262626" textLength="19.82" lengthAdjust="spacingAndGlyphs">15</text>
<line x1="653.70" y1="320.00" x2="656.20" y2="320.00" stroke="#262626" stroke-width="1" />
<text x="661.40" y="325.70" font-size="16.20" text-anchor="start" fill="#262626" textLength="19.82" lengthAdjust="spacingAndGlyphs">10</text>
<line x1="653.70" y1="357.00" x2="656.20" y2="357.00" stroke="#262626" stroke-width="1" />
<text x="661.40" y="362.70" font-size="16.20" text-anchor="start" fill="#262626" >5</text>
<text x="631.40" y="231.90" font-size="18.40" text-anchor="start" class="sf" fill="#1a1a1a" font-style="italic">l</text>
<line x1="632.00" y1="217.40" x2="638.60" y2="217.40" stroke="#1a1a1a" stroke-width="0.95" />
<text x="636.80" y="234.90" font-size="13.40" text-anchor="start" class="sf" fill="#1a1a1a" textLength="21.40" lengthAdjust="spacingAndGlyphs">max</text>
<line x1="77.60" y1="545.93" x2="303.50" y2="545.93" stroke="#ebebeb" stroke-width="1" />
<line x1="77.60" y1="498.47" x2="303.50" y2="498.47" stroke="#ebebeb" stroke-width="1" />
<line x1="77.60" y1="451.00" x2="303.50" y2="451.00" stroke="#ebebeb" stroke-width="1" />
<line x1="77.60" y1="450.50" x2="77.60" y2="593.90" stroke="#808080" stroke-width="1" />
<line x1="77.10" y1="593.40" x2="304.00" y2="593.40" stroke="#808080" stroke-width="1" />
<line x1="77.60" y1="545.93" x2="82.60" y2="545.93" stroke="#808080" stroke-width="1" />
<line x1="77.60" y1="498.47" x2="82.60" y2="498.47" stroke="#808080" stroke-width="1" />
<line x1="77.60" y1="451.00" x2="82.60" y2="451.00" stroke="#808080" stroke-width="1" />
<line x1="152.90" y1="593.40" x2="152.90" y2="588.50" stroke="#808080" stroke-width="1" />
<line x1="228.20" y1="593.40" x2="228.20" y2="588.50" stroke="#808080" stroke-width="1" />
<line x1="303.50" y1="593.40" x2="303.50" y2="588.50" stroke="#808080" stroke-width="1" />
<text x="71.30" y="599.60" font-size="17.60" text-anchor="end" fill="#262626" >0</text>
<text x="71.30" y="552.13" font-size="17.60" text-anchor="end" fill="#262626" >5</text>
<text x="71.30" y="504.67" font-size="17.60" text-anchor="end" fill="#262626" textLength="21.53" lengthAdjust="spacingAndGlyphs">10</text>
<text x="71.30" y="457.20" font-size="17.60" text-anchor="end" fill="#262626" textLength="21.53" lengthAdjust="spacingAndGlyphs">15</text>
<text x="77.60" y="615.40" font-size="17.60" text-anchor="middle" fill="#262626" >0</text>
<text x="152.90" y="615.40" font-size="17.60" text-anchor="middle" fill="#262626" >1</text>
<text x="228.20" y="615.40" font-size="17.60" text-anchor="middle" fill="#262626" >2</text>
<text x="303.50" y="615.40" font-size="17.60" text-anchor="middle" fill="#262626" >3</text>
<defs><clipPath id="clipE"><rect x="77" y="440" width="228" height="154"/></clipPath><clipPath id="clipF"><rect x="431" y="440" width="226" height="155"/></clipPath></defs>
<path d="M77.60,583.91 L78.36,584.01 L79.11,584.08 L79.87,584.12 L80.62,584.12 L81.38,584.09 L82.13,584.03 L82.89,583.94 L83.64,583.81 L84.40,583.65 L85.16,583.45 L85.91,583.22 L86.67,582.96 L87.42,582.65 L88.18,582.31 L88.93,581.92 L89.69,581.48 L90.44,581.00 L91.20,580.48 L91.95,579.92 L92.71,579.33 L93.47,578.70 L94.22,578.04 L94.98,577.36 L95.73,576.67 L96.49,575.98 L97.24,575.28 L98.00,574.56 L98.75,573.79 L99.51,572.95 L100.27,571.98 L101.02,570.85 L101.78,569.50 L102.53,567.91 L103.29,566.08 L104.04,564.02 L104.80,561.72 L105.55,559.21 L106.31,556.52 L107.07,553.68 L107.82,550.77 L108.58,547.84 L109.33,545.00 L110.09,542.32 L110.84,539.83 L111.60,537.53 L112.35,535.41 L113.11,533.44 L113.86,531.62 L114.62,529.91 L115.38,528.28 L116.13,526.69 L116.89,525.09 L117.64,523.44 L118.40,521.70 L119.15,519.88 L119.91,517.98 L120.66,516.01 L121.42,513.97 L122.18,511.88 L122.93,509.74 L123.69,507.57 L124.44,505.37 L125.20,503.17 L125.95,500.97 L126.71,498.79 L127.46,496.66 L128.22,494.58 L128.98,492.57 L129.73,490.67 L130.49,488.88 L131.24,487.22 L132.00,485.68 L132.75,484.27 L133.51,482.96 L134.26,481.77 L135.02,480.69 L135.77,479.70 L136.53,478.80 L137.29,477.99 L138.04,477.25 L138.80,476.58 L139.55,475.96 L140.31,475.40 L141.06,474.88 L141.82,474.41 L142.57,473.98 L143.33,473.60 L144.09,473.27 L144.84,473.00 L145.60,472.79 L146.35,472.62 L147.11,472.52 L147.86,472.48 L148.62,472.50 L149.37,472.58 L150.13,472.72 L150.89,472.91 L151.64,473.15 L152.40,473.45 L153.15,473.80 L153.91,474.19 L154.66,474.63 L155.42,475.11 L156.17,475.64 L156.93,476.20 L157.68,476.79 L158.44,477.43 L159.20,478.09 L159.95,478.78 L160.71,479.50 L161.46,480.25 L162.22,481.01 L162.97,481.80 L163.73,482.61 L164.48,483.44 L165.24,484.28 L166.00,485.13 L166.75,486.00 L167.51,486.89 L168.26,487.78 L169.02,488.69 L169.77,489.61 L170.53,490.54 L171.28,491.48 L172.04,492.42 L172.80,493.38 L173.55,494.34 L174.31,495.31 L175.06,496.28 L175.82,497.26 L176.57,498.24 L177.33,499.22 L178.08,500.21 L178.84,501.20 L179.59,502.18 L180.35,503.17 L181.11,504.16 L181.86,505.15 L182.62,506.14 L183.37,507.13 L184.13,508.11 L184.88,509.09 L185.64,510.07 L186.39,511.04 L187.15,512.01 L187.91,512.98 L188.66,513.93 L189.42,514.89 L190.17,515.84 L190.93,516.78 L191.68,517.72 L192.44,518.65 L193.19,519.57 L193.95,520.49 L194.71,521.40 L195.46,522.31 L196.22,523.20 L196.97,524.09 L197.73,524.97 L198.48,525.85 L199.24,526.71 L199.99,527.57 L200.75,528.42 L201.51,529.26 L202.26,530.10 L203.02,530.92 L203.77,531.74 L204.53,532.55 L205.28,533.35 L206.04,534.14 L206.79,534.92 L207.55,535.69 L208.30,536.46 L209.06,537.21 L209.82,537.96 L210.57,538.69 L211.33,539.42 L212.08,540.14 L212.84,540.85 L213.59,541.55 L214.35,542.24 L215.10,542.93 L215.86,543.60 L216.62,544.26 L217.37,544.92 L218.13,545.57 L218.88,546.20 L219.64,546.83 L220.39,547.45 L221.15,548.06 L221.90,548.66 L222.66,549.26 L223.42,549.84 L224.17,550.42 L224.93,550.98 L225.68,551.54 L226.44,552.09 L227.19,552.64 L227.95,553.17 L228.70,553.70 L229.46,554.22 L230.21,554.73 L230.97,555.23 L231.73,555.73 L232.48,556.21 L233.24,556.69 L233.99,557.17 L234.75,557.63 L235.50,558.09 L236.26,558.54 L237.01,558.98 L237.77,559.42 L238.53,559.85 L239.28,560.27 L240.04,560.69 L240.79,561.10 L241.55,561.50 L242.30,561.90 L243.06,562.29 L243.81,562.67 L244.57,563.05 L245.33,563.42 L246.08,563.78 L246.84,564.14 L247.59,564.49 L248.35,564.84 L249.10,565.18 L249.86,565.52 L250.61,565.84 L251.37,566.17 L252.12,566.49 L252.88,566.80 L253.64,567.11 L254.39,567.41 L255.15,567.71 L255.90,568.01 L256.66,568.30 L257.41,568.59 L258.17,568.88 L258.92,569.16 L259.68,569.44 L260.44,569.71 L261.19,569.99 L261.95,570.26 L262.70,570.53 L263.46,570.80 L264.21,571.06 L264.97,571.32 L265.72,571.59 L266.48,571.84 L267.24,572.10 L267.99,572.36 L268.75,572.61 L269.50,572.87 L270.26,573.12 L271.01,573.37 L271.77,573.63 L272.52,573.88 L273.28,574.13 L274.03,574.37 L274.79,574.62 L275.55,574.87 L276.30,575.12 L277.06,575.36 L277.81,575.61 L278.57,575.86 L279.32,576.10 L280.08,576.35 L280.83,576.59 L281.59,576.83 L282.35,577.08 L283.10,577.32 L283.86,577.57 L284.61,577.81 L285.37,578.05 L286.12,578.29 L286.88,578.54 L287.63,578.78 L288.39,579.02 L289.15,579.26 L289.90,579.50 L290.66,579.74 L291.41,579.98 L292.17,580.22 L292.92,580.46 L293.68,580.70 L294.43,580.94 L295.19,581.17 L295.94,581.41 L296.70,581.64 L297.46,581.88 L298.21,582.11 L298.97,582.35 L299.72,582.58 L300.48,582.81 L301.23,583.04 L301.99,583.26 L302.74,583.49 L303.50,583.72" fill="none" stroke="#3876c0" stroke-width="2" stroke-linejoin="round" clip-path="url(#clipE)"/>
<path d="M77.60,583.92 L78.36,584.13 L79.11,584.20 L79.87,584.15 L80.62,584.00 L81.38,583.73 L82.13,583.37 L82.89,582.92 L83.64,582.37 L84.40,581.73 L85.16,581.02 L85.91,580.22 L86.67,579.36 L87.42,578.45 L88.18,577.49 L88.93,576.45 L89.69,575.32 L90.44,574.06 L91.20,572.63 L91.95,570.98 L92.71,569.06 L93.47,566.84 L94.22,564.36 L94.98,561.66 L95.73,558.79 L96.49,555.82 L97.24,552.73 L98.00,549.56 L98.75,546.30 L99.51,542.97 L100.27,539.59 L101.02,536.17 L101.78,532.72 L102.53,529.27 L103.29,525.82 L104.04,522.39 L104.80,519.00 L105.55,515.66 L106.31,512.38 L107.07,509.17 L107.82,506.05 L108.58,503.04 L109.33,500.12 L110.09,497.33 L110.84,494.65 L111.60,492.11 L112.35,489.71 L113.11,487.45 L113.86,485.35 L114.62,483.40 L115.38,481.60 L116.13,479.97 L116.89,478.51 L117.64,477.20 L118.40,476.05 L119.15,475.06 L119.91,474.23 L120.66,473.55 L121.42,473.02 L122.18,472.63 L122.93,472.38 L123.69,472.25 L124.44,472.25 L125.20,472.37 L125.95,472.60 L126.71,472.92 L127.46,473.34 L128.22,473.84 L128.98,474.42 L129.73,475.07 L130.49,475.78 L131.24,476.55 L132.00,477.37 L132.75,478.24 L133.51,479.16 L134.26,480.13 L135.02,481.14 L135.77,482.19 L136.53,483.29 L137.29,484.43 L138.04,485.60 L138.80,486.80 L139.55,488.04 L140.31,489.30 L141.06,490.59 L141.82,491.91 L142.57,493.25 L143.33,494.61 L144.09,495.99 L144.84,497.38 L145.60,498.79 L146.35,500.21 L147.11,501.64 L147.86,503.08 L148.62,504.53 L149.37,505.98 L150.13,507.43 L150.89,508.89 L151.64,510.35 L152.40,511.80 L153.15,513.25 L153.91,514.70 L154.66,516.14 L155.42,517.57 L156.17,519.00 L156.93,520.41 L157.68,521.82 L158.44,523.22 L159.20,524.60 L159.95,525.98 L160.71,527.34 L161.46,528.69 L162.22,530.03 L162.97,531.35 L163.73,532.66 L164.48,533.95 L165.24,535.23 L166.00,536.50 L166.75,537.75 L167.51,538.98 L168.26,540.20 L169.02,541.41 L169.77,542.60 L170.53,543.77 L171.28,544.93 L172.04,546.08 L172.80,547.20 L173.55,548.32 L174.31,549.42 L175.06,550.50 L175.82,551.56 L176.57,552.61 L177.33,553.64 L178.08,554.65 L178.84,555.63 L179.59,556.60 L180.35,557.54 L181.11,558.46 L181.86,559.35 L182.62,560.23 L183.37,561.07 L184.13,561.90 L184.88,562.70 L185.64,563.47 L186.39,564.23 L187.15,564.95 L187.91,565.66 L188.66,566.34 L189.42,567.00 L190.17,567.63 L190.93,568.24 L191.68,568.83 L192.44,569.39 L193.19,569.93 L193.95,570.45 L194.71,570.95 L195.46,571.44 L196.22,571.90 L196.97,572.35 L197.73,572.79 L198.48,573.21 L199.24,573.61 L199.99,574.01 L200.75,574.39 L201.51,574.77 L202.26,575.13 L203.02,575.49 L203.77,575.83 L204.53,576.17 L205.28,576.51 L206.04,576.83 L206.79,577.16 L207.55,577.47 L208.30,577.78 L209.06,578.09 L209.82,578.39 L210.57,578.69 L211.33,578.99 L212.08,579.28 L212.84,579.57 L213.59,579.85 L214.35,580.13 L215.10,580.40 L215.86,580.67 L216.62,580.93 L217.37,581.19 L218.13,581.45 L218.88,581.70 L219.64,581.95 L220.39,582.19 L221.15,582.43 L221.90,582.66 L222.66,582.89 L223.42,583.11 L224.17,583.33 L224.93,583.54 L225.68,583.75 L226.44,583.95 L227.19,584.15 L227.95,584.35 L228.70,584.54 L229.46,584.73 L230.21,584.91 L230.97,585.09 L231.73,585.26 L232.48,585.43 L233.24,585.60 L233.99,585.76 L234.75,585.92 L235.50,586.08 L236.26,586.23 L237.01,586.38 L237.77,586.53 L238.53,586.67 L239.28,586.81 L240.04,586.94 L240.79,587.08 L241.55,587.21 L242.30,587.34 L243.06,587.46 L243.81,587.58 L244.57,587.70 L245.33,587.82 L246.08,587.94 L246.84,588.05 L247.59,588.16 L248.35,588.27 L249.10,588.37 L249.86,588.48 L250.61,588.58 L251.37,588.68 L252.12,588.77 L252.88,588.87 L253.64,588.96 L254.39,589.05 L255.15,589.14 L255.90,589.23 L256.66,589.32 L257.41,589.40 L258.17,589.48 L258.92,589.57 L259.68,589.65 L260.44,589.72 L261.19,589.80 L261.95,589.87 L262.70,589.95 L263.46,590.02 L264.21,590.09 L264.97,590.16 L265.72,590.23 L266.48,590.30 L267.24,590.36 L267.99,590.43 L268.75,590.49 L269.50,590.55 L270.26,590.61 L271.01,590.67 L271.77,590.73 L272.52,590.79 L273.28,590.85 L274.03,590.90 L274.79,590.96 L275.55,591.01 L276.30,591.06 L277.06,591.12 L277.81,591.17 L278.57,591.22 L279.32,591.27 L280.08,591.31 L280.83,591.36 L281.59,591.41 L282.35,591.45 L283.10,591.50 L283.86,591.54 L284.61,591.59 L285.37,591.63 L286.12,591.67 L286.88,591.71 L287.63,591.75 L288.39,591.79 L289.15,591.83 L289.90,591.87 L290.66,591.91 L291.41,591.95 L292.17,591.98 L292.92,592.02 L293.68,592.05 L294.43,592.09 L295.19,592.12 L295.94,592.15 L296.70,592.19 L297.46,592.22 L298.21,592.25 L298.97,592.28 L299.72,592.31 L300.48,592.34 L301.23,592.37 L301.99,592.40 L302.74,592.42 L303.50,592.45" fill="none" stroke="#dc5824" stroke-width="2" stroke-linejoin="round" clip-path="url(#clipE)"/>
<path d="M77.60,583.91 L78.36,584.01 L79.11,584.08 L79.87,584.11 L80.62,584.11 L81.38,584.08 L82.13,584.02 L82.89,583.92 L83.64,583.79 L84.40,583.63 L85.16,583.44 L85.91,583.22 L86.67,582.95 L87.42,582.66 L88.18,582.32 L88.93,581.94 L89.69,581.53 L90.44,581.06 L91.20,580.55 L91.95,580.00 L92.71,579.39 L93.47,578.72 L94.22,578.01 L94.98,577.23 L95.73,576.39 L96.49,575.48 L97.24,574.51 L98.00,573.44 L98.75,572.26 L99.51,570.92 L100.27,569.40 L101.02,567.66 L101.78,565.72 L102.53,563.56 L103.29,561.20 L104.04,558.65 L104.80,555.93 L105.55,553.07 L106.31,550.12 L107.07,547.14 L107.82,544.19 L108.58,541.32 L109.33,538.55 L110.09,535.89 L110.84,533.34 L111.60,530.90 L112.35,528.56 L113.11,526.30 L113.86,524.13 L114.62,522.01 L115.38,519.93 L116.13,517.87 L116.89,515.83 L117.64,513.83 L118.40,511.86 L119.15,509.93 L119.91,508.04 L120.66,506.20 L121.42,504.40 L122.18,502.65 L122.93,500.96 L123.69,499.32 L124.44,497.73 L125.20,496.21 L125.95,494.75 L126.71,493.35 L127.46,492.02 L128.22,490.75 L128.98,489.54 L129.73,488.41 L130.49,487.34 L131.24,486.34 L132.00,485.41 L132.75,484.54 L133.51,483.75 L134.26,483.02 L135.02,482.36 L135.77,481.76 L136.53,481.23 L137.29,480.76 L138.04,480.35 L138.80,480.01 L139.55,479.72 L140.31,479.50 L141.06,479.33 L141.82,479.21 L142.57,479.14 L143.33,479.13 L144.09,479.16 L144.84,479.24 L145.60,479.36 L146.35,479.52 L147.11,479.73 L147.86,479.96 L148.62,480.24 L149.37,480.54 L150.13,480.88 L150.89,481.24 L151.64,481.64 L152.40,482.06 L153.15,482.51 L153.91,482.98 L154.66,483.49 L155.42,484.01 L156.17,484.56 L156.93,485.13 L157.68,485.73 L158.44,486.35 L159.20,486.98 L159.95,487.64 L160.71,488.32 L161.46,489.01 L162.22,489.73 L162.97,490.45 L163.73,491.20 L164.48,491.96 L165.24,492.73 L166.00,493.52 L166.75,494.31 L167.51,495.13 L168.26,495.95 L169.02,496.78 L169.77,497.62 L170.53,498.47 L171.28,499.32 L172.04,500.19 L172.80,501.06 L173.55,501.94 L174.31,502.82 L175.06,503.70 L175.82,504.59 L176.57,505.48 L177.33,506.38 L178.08,507.28 L178.84,508.17 L179.59,509.07 L180.35,509.97 L181.11,510.87 L181.86,511.77 L182.62,512.66 L183.37,513.56 L184.13,514.45 L184.88,515.34 L185.64,516.22 L186.39,517.10 L187.15,517.98 L187.91,518.86 L188.66,519.72 L189.42,520.59 L190.17,521.44 L190.93,522.30 L191.68,523.14 L192.44,523.98 L193.19,524.81 L193.95,525.64 L194.71,526.46 L195.46,527.27 L196.22,528.07 L196.97,528.86 L197.73,529.65 L198.48,530.43 L199.24,531.20 L199.99,531.96 L200.75,532.71 L201.51,533.45 L202.26,534.19 L203.02,534.91 L203.77,535.63 L204.53,536.34 L205.28,537.04 L206.04,537.73 L206.79,538.42 L207.55,539.09 L208.30,539.76 L209.06,540.43 L209.82,541.08 L210.57,541.73 L211.33,542.37 L212.08,543.00 L212.84,543.62 L213.59,544.24 L214.35,544.85 L215.10,545.46 L215.86,546.06 L216.62,546.65 L217.37,547.23 L218.13,547.81 L218.88,548.38 L219.64,548.94 L220.39,549.50 L221.15,550.06 L221.90,550.60 L222.66,551.14 L223.42,551.68 L224.17,552.21 L224.93,552.73 L225.68,553.25 L226.44,553.76 L227.19,554.26 L227.95,554.76 L228.70,555.26 L229.46,555.75 L230.21,556.23 L230.97,556.71 L231.73,557.19 L232.48,557.65 L233.24,558.12 L233.99,558.58 L234.75,559.03 L235.50,559.48 L236.26,559.92 L237.01,560.36 L237.77,560.79 L238.53,561.22 L239.28,561.65 L240.04,562.07 L240.79,562.48 L241.55,562.89 L242.30,563.30 L243.06,563.70 L243.81,564.09 L244.57,564.49 L245.33,564.87 L246.08,565.25 L246.84,565.63 L247.59,566.00 L248.35,566.36 L249.10,566.72 L249.86,567.07 L250.61,567.42 L251.37,567.76 L252.12,568.10 L252.88,568.43 L253.64,568.75 L254.39,569.07 L255.15,569.38 L255.90,569.69 L256.66,569.99 L257.41,570.29 L258.17,570.58 L258.92,570.86 L259.68,571.14 L260.44,571.41 L261.19,571.68 L261.95,571.94 L262.70,572.20 L263.46,572.45 L264.21,572.69 L264.97,572.93 L265.72,573.17 L266.48,573.39 L267.24,573.62 L267.99,573.83 L268.75,574.04 L269.50,574.25 L270.26,574.45 L271.01,574.64 L271.77,574.83 L272.52,575.02 L273.28,575.20 L274.03,575.37 L274.79,575.54 L275.55,575.70 L276.30,575.86 L277.06,576.01 L277.81,576.16 L278.57,576.30 L279.32,576.44 L280.08,576.58 L280.83,576.72 L281.59,576.86 L282.35,577.00 L283.10,577.14 L283.86,577.29 L284.61,577.43 L285.37,577.59 L286.12,577.75 L286.88,577.92 L287.63,578.09 L288.39,578.27 L289.15,578.46 L289.90,578.66 L290.66,578.87 L291.41,579.09 L292.17,579.32 L292.92,579.56 L293.68,579.81 L294.43,580.08 L295.19,580.35 L295.94,580.64 L296.70,580.93 L297.46,581.24 L298.21,581.55 L298.97,581.88 L299.72,582.22 L300.48,582.56 L301.23,582.91 L301.99,583.27 L302.74,583.63 L303.50,584.00" fill="none" stroke="#7e3290" stroke-width="2" stroke-linejoin="round" clip-path="url(#clipE)"/>
<path d="M77.60,583.91 L78.36,584.02 L79.11,584.09 L79.87,584.13 L80.62,584.13 L81.38,584.10 L82.13,584.03 L82.89,583.93 L83.64,583.80 L84.40,583.64 L85.16,583.44 L85.91,583.21 L86.67,582.94 L87.42,582.64 L88.18,582.30 L88.93,581.93 L89.69,581.51 L90.44,581.05 L91.20,580.55 L91.95,580.00 L92.71,579.40 L93.47,578.75 L94.22,578.05 L94.98,577.29 L95.73,576.47 L96.49,575.59 L97.24,574.65 L98.00,573.63 L98.75,572.53 L99.51,571.35 L100.27,570.08 L101.02,568.70 L101.78,567.22 L102.53,565.64 L103.29,563.95 L104.04,562.16 L104.80,560.28 L105.55,558.29 L106.31,556.22 L107.07,554.08 L107.82,551.86 L108.58,549.60 L109.33,547.30 L110.09,544.99 L110.84,542.69 L111.60,540.41 L112.35,538.16 L113.11,535.95 L113.86,533.79 L114.62,531.68 L115.38,529.65 L116.13,527.69 L116.89,525.82 L117.64,524.02 L118.40,522.32 L119.15,520.70 L119.91,519.16 L120.66,517.71 L121.42,516.35 L122.18,515.07 L122.93,513.87 L123.69,512.74 L124.44,511.69 L125.20,510.70 L125.95,509.77 L126.71,508.89 L127.46,508.06 L128.22,507.26 L128.98,506.50 L129.73,505.77 L130.49,505.04 L131.24,504.34 L132.00,503.64 L132.75,502.97 L133.51,502.32 L134.26,501.69 L135.02,501.08 L135.77,500.50 L136.53,499.95 L137.29,499.44 L138.04,498.95 L138.80,498.51 L139.55,498.10 L140.31,497.74 L141.06,497.42 L141.82,497.14 L142.57,496.91 L143.33,496.71 L144.09,496.56 L144.84,496.44 L145.60,496.37 L146.35,496.33 L147.11,496.33 L147.86,496.36 L148.62,496.43 L149.37,496.54 L150.13,496.68 L150.89,496.85 L151.64,497.05 L152.40,497.27 L153.15,497.53 L153.91,497.82 L154.66,498.12 L155.42,498.46 L156.17,498.82 L156.93,499.20 L157.68,499.60 L158.44,500.02 L159.20,500.45 L159.95,500.91 L160.71,501.38 L161.46,501.87 L162.22,502.36 L162.97,502.88 L163.73,503.40 L164.48,503.93 L165.24,504.47 L166.00,505.02 L166.75,505.58 L167.51,506.15 L168.26,506.72 L169.02,507.30 L169.77,507.88 L170.53,508.47 L171.28,509.06 L172.04,509.66 L172.80,510.26 L173.55,510.86 L174.31,511.46 L175.06,512.07 L175.82,512.67 L176.57,513.28 L177.33,513.88 L178.08,514.49 L178.84,515.09 L179.59,515.69 L180.35,516.29 L181.11,516.88 L181.86,517.47 L182.62,518.06 L183.37,518.65 L184.13,519.23 L184.88,519.80 L185.64,520.37 L186.39,520.94 L187.15,521.50 L187.91,522.05 L188.66,522.60 L189.42,523.14 L190.17,523.68 L190.93,524.21 L191.68,524.74 L192.44,525.27 L193.19,525.79 L193.95,526.30 L194.71,526.82 L195.46,527.33 L196.22,527.83 L196.97,528.34 L197.73,528.84 L198.48,529.33 L199.24,529.83 L199.99,530.32 L200.75,530.82 L201.51,531.31 L202.26,531.80 L203.02,532.28 L203.77,532.77 L204.53,533.25 L205.28,533.74 L206.04,534.22 L206.79,534.70 L207.55,535.18 L208.30,535.66 L209.06,536.15 L209.82,536.63 L210.57,537.11 L211.33,537.59 L212.08,538.07 L212.84,538.55 L213.59,539.03 L214.35,539.51 L215.10,539.99 L215.86,540.48 L216.62,540.96 L217.37,541.44 L218.13,541.93 L218.88,542.41 L219.64,542.90 L220.39,543.39 L221.15,543.87 L221.90,544.36 L222.66,544.84 L223.42,545.32 L224.17,545.80 L224.93,546.29 L225.68,546.76 L226.44,547.24 L227.19,547.71 L227.95,548.18 L228.70,548.65 L229.46,549.12 L230.21,549.58 L230.97,550.04 L231.73,550.49 L232.48,550.94 L233.24,551.39 L233.99,551.83 L234.75,552.27 L235.50,552.70 L236.26,553.13 L237.01,553.55 L237.77,553.97 L238.53,554.39 L239.28,554.80 L240.04,555.20 L240.79,555.60 L241.55,555.99 L242.30,556.38 L243.06,556.76 L243.81,557.14 L244.57,557.51 L245.33,557.87 L246.08,558.23 L246.84,558.58 L247.59,558.93 L248.35,559.27 L249.10,559.60 L249.86,559.93 L250.61,560.26 L251.37,560.57 L252.12,560.88 L252.88,561.19 L253.64,561.49 L254.39,561.78 L255.15,562.08 L255.90,562.36 L256.66,562.65 L257.41,562.92 L258.17,563.20 L258.92,563.47 L259.68,563.74 L260.44,564.01 L261.19,564.27 L261.95,564.53 L262.70,564.79 L263.46,565.05 L264.21,565.30 L264.97,565.55 L265.72,565.81 L266.48,566.05 L267.24,566.30 L267.99,566.55 L268.75,566.80 L269.50,567.04 L270.26,567.29 L271.01,567.53 L271.77,567.77 L272.52,568.02 L273.28,568.26 L274.03,568.50 L274.79,568.74 L275.55,568.99 L276.30,569.23 L277.06,569.47 L277.81,569.72 L278.57,569.96 L279.32,570.20 L280.08,570.45 L280.83,570.69 L281.59,570.94 L282.35,571.18 L283.10,571.43 L283.86,571.68 L284.61,571.93 L285.37,572.18 L286.12,572.43 L286.88,572.68 L287.63,572.93 L288.39,573.18 L289.15,573.44 L289.90,573.69 L290.66,573.95 L291.41,574.20 L292.17,574.46 L292.92,574.72 L293.68,574.98 L294.43,575.24 L295.19,575.50 L295.94,575.76 L296.70,576.02 L297.46,576.28 L298.21,576.55 L298.97,576.81 L299.72,577.07 L300.48,577.34 L301.23,577.60 L301.99,577.87 L302.74,578.13 L303.50,578.40" fill="none" stroke="#e4b03a" stroke-width="2" stroke-linejoin="round" clip-path="url(#clipE)"/>
<path d="M77.60,583.91 L78.36,583.99 L79.11,584.03 L79.87,584.05 L80.62,584.04 L81.38,584.00 L82.13,583.93 L82.89,583.84 L83.64,583.71 L84.40,583.57 L85.16,583.39 L85.91,583.19 L86.67,582.96 L87.42,582.70 L88.18,582.41 L88.93,582.09 L89.69,581.74 L90.44,581.35 L91.20,580.94 L91.95,580.49 L92.71,580.00 L93.47,579.47 L94.22,578.91 L94.98,578.30 L95.73,577.66 L96.49,576.96 L97.24,576.23 L98.00,575.44 L98.75,574.61 L99.51,573.73 L100.27,572.80 L101.02,571.82 L101.78,570.81 L102.53,569.77 L103.29,568.68 L104.04,567.57 L104.80,566.42 L105.55,565.24 L106.31,564.03 L107.07,562.79 L107.82,561.52 L108.58,560.23 L109.33,558.91 L110.09,557.58 L110.84,556.23 L111.60,554.87 L112.35,553.50 L113.11,552.12 L113.86,550.74 L114.62,549.37 L115.38,548.01 L116.13,546.66 L116.89,545.34 L117.64,544.04 L118.40,542.77 L119.15,541.53 L119.91,540.32 L120.66,539.15 L121.42,538.01 L122.18,536.91 L122.93,535.85 L123.69,534.83 L124.44,533.85 L125.20,532.91 L125.95,532.00 L126.71,531.14 L127.46,530.32 L128.22,529.53 L128.98,528.79 L129.73,528.08 L130.49,527.40 L131.24,526.77 L132.00,526.16 L132.75,525.59 L133.51,525.05 L134.26,524.54 L135.02,524.06 L135.77,523.60 L136.53,523.16 L137.29,522.75 L138.04,522.35 L138.80,521.97 L139.55,521.60 L140.31,521.25 L141.06,520.90 L141.82,520.56 L142.57,520.24 L143.33,519.92 L144.09,519.62 L144.84,519.32 L145.60,519.04 L146.35,518.77 L147.11,518.51 L147.86,518.26 L148.62,518.02 L149.37,517.79 L150.13,517.57 L150.89,517.37 L151.64,517.17 L152.40,516.99 L153.15,516.82 L153.91,516.67 L154.66,516.52 L155.42,516.39 L156.17,516.27 L156.93,516.16 L157.68,516.06 L158.44,515.98 L159.20,515.91 L159.95,515.85 L160.71,515.80 L161.46,515.76 L162.22,515.74 L162.97,515.73 L163.73,515.74 L164.48,515.75 L165.24,515.78 L166.00,515.82 L166.75,515.87 L167.51,515.94 L168.26,516.01 L169.02,516.10 L169.77,516.20 L170.53,516.31 L171.28,516.43 L172.04,516.56 L172.80,516.70 L173.55,516.85 L174.31,517.01 L175.06,517.18 L175.82,517.36 L176.57,517.55 L177.33,517.75 L178.08,517.96 L178.84,518.17 L179.59,518.40 L180.35,518.63 L181.11,518.87 L181.86,519.12 L182.62,519.38 L183.37,519.64 L184.13,519.91 L184.88,520.19 L185.64,520.47 L186.39,520.76 L187.15,521.05 L187.91,521.36 L188.66,521.66 L189.42,521.98 L190.17,522.29 L190.93,522.62 L191.68,522.94 L192.44,523.28 L193.19,523.61 L193.95,523.95 L194.71,524.30 L195.46,524.64 L196.22,524.99 L196.97,525.35 L197.73,525.71 L198.48,526.07 L199.24,526.43 L199.99,526.79 L200.75,527.16 L201.51,527.53 L202.26,527.90 L203.02,528.28 L203.77,528.65 L204.53,529.03 L205.28,529.40 L206.04,529.78 L206.79,530.16 L207.55,530.54 L208.30,530.92 L209.06,531.30 L209.82,531.68 L210.57,532.06 L211.33,532.44 L212.08,532.82 L212.84,533.19 L213.59,533.57 L214.35,533.95 L215.10,534.33 L215.86,534.70 L216.62,535.08 L217.37,535.45 L218.13,535.82 L218.88,536.19 L219.64,536.56 L220.39,536.92 L221.15,537.29 L221.90,537.65 L222.66,538.01 L223.42,538.37 L224.17,538.73 L224.93,539.08 L225.68,539.43 L226.44,539.78 L227.19,540.13 L227.95,540.47 L228.70,540.81 L229.46,541.15 L230.21,541.48 L230.97,541.82 L231.73,542.15 L232.48,542.47 L233.24,542.80 L233.99,543.12 L234.75,543.44 L235.50,543.76 L236.26,544.07 L237.01,544.39 L237.77,544.70 L238.53,545.01 L239.28,545.32 L240.04,545.62 L240.79,545.93 L241.55,546.23 L242.30,546.53 L243.06,546.83 L243.81,547.12 L244.57,547.42 L245.33,547.71 L246.08,548.00 L246.84,548.29 L247.59,548.58 L248.35,548.87 L249.10,549.16 L249.86,549.44 L250.61,549.72 L251.37,550.01 L252.12,550.29 L252.88,550.57 L253.64,550.85 L254.39,551.13 L255.15,551.40 L255.90,551.68 L256.66,551.95 L257.41,552.23 L258.17,552.50 L258.92,552.77 L259.68,553.04 L260.44,553.31 L261.19,553.58 L261.95,553.85 L262.70,554.12 L263.46,554.39 L264.21,554.65 L264.97,554.92 L265.72,555.18 L266.48,555.45 L267.24,555.71 L267.99,555.98 L268.75,556.24 L269.50,556.50 L270.26,556.76 L271.01,557.02 L271.77,557.28 L272.52,557.54 L273.28,557.80 L274.03,558.06 L274.79,558.32 L275.55,558.58 L276.30,558.84 L277.06,559.10 L277.81,559.35 L278.57,559.61 L279.32,559.87 L280.08,560.12 L280.83,560.38 L281.59,560.63 L282.35,560.89 L283.10,561.14 L283.86,561.40 L284.61,561.65 L285.37,561.90 L286.12,562.16 L286.88,562.41 L287.63,562.66 L288.39,562.91 L289.15,563.16 L289.90,563.42 L290.66,563.67 L291.41,563.92 L292.17,564.17 L292.92,564.42 L293.68,564.67 L294.43,564.92 L295.19,565.17 L295.94,565.42 L296.70,565.66 L297.46,565.91 L298.21,566.16 L298.97,566.41 L299.72,566.65 L300.48,566.90 L301.23,567.15 L301.99,567.39 L302.74,567.64 L303.50,567.88" fill="none" stroke="#79b139" stroke-width="2" stroke-linejoin="round" clip-path="url(#clipE)"/>
<path d="M77.60,583.91 L78.36,584.00 L79.11,584.04 L79.87,584.04 L80.62,583.99 L81.38,583.90 L82.13,583.77 L82.89,583.60 L83.64,583.40 L84.40,583.16 L85.16,582.90 L85.91,582.60 L86.67,582.28 L87.42,581.93 L88.18,581.56 L88.93,581.17 L89.69,580.76 L90.44,580.33 L91.20,579.86 L91.95,579.36 L92.71,578.81 L93.47,578.21 L94.22,577.53 L94.98,576.77 L95.73,575.91 L96.49,574.93 L97.24,573.82 L98.00,572.59 L98.75,571.28 L99.51,569.93 L100.27,568.55 L101.02,567.15 L101.78,565.73 L102.53,564.29 L103.29,562.84 L104.04,561.38 L104.80,559.92 L105.55,558.45 L106.31,556.98 L107.07,555.52 L107.82,554.07 L108.58,552.62 L109.33,551.18 L110.09,549.76 L110.84,548.35 L111.60,546.95 L112.35,545.58 L113.11,544.22 L113.86,542.88 L114.62,541.56 L115.38,540.27 L116.13,539.01 L116.89,537.77 L117.64,536.57 L118.40,535.39 L119.15,534.25 L119.91,533.15 L120.66,532.08 L121.42,531.05 L122.18,530.06 L122.93,529.10 L123.69,528.19 L124.44,527.31 L125.20,526.47 L125.95,525.68 L126.71,524.92 L127.46,524.20 L128.22,523.53 L128.98,522.89 L129.73,522.28 L130.49,521.72 L131.24,521.19 L132.00,520.70 L132.75,520.24 L133.51,519.81 L134.26,519.41 L135.02,519.04 L135.77,518.71 L136.53,518.39 L137.29,518.11 L138.04,517.85 L138.80,517.60 L139.55,517.38 L140.31,517.18 L141.06,517.00 L141.82,516.83 L142.57,516.67 L143.33,516.54 L144.09,516.42 L144.84,516.32 L145.60,516.23 L146.35,516.16 L147.11,516.10 L147.86,516.06 L148.62,516.03 L149.37,516.02 L150.13,516.02 L150.89,516.04 L151.64,516.07 L152.40,516.12 L153.15,516.17 L153.91,516.24 L154.66,516.33 L155.42,516.42 L156.17,516.53 L156.93,516.65 L157.68,516.78 L158.44,516.92 L159.20,517.07 L159.95,517.23 L160.71,517.40 L161.46,517.58 L162.22,517.77 L162.97,517.97 L163.73,518.17 L164.48,518.39 L165.24,518.61 L166.00,518.84 L166.75,519.08 L167.51,519.33 L168.26,519.58 L169.02,519.84 L169.77,520.11 L170.53,520.39 L171.28,520.67 L172.04,520.96 L172.80,521.25 L173.55,521.55 L174.31,521.86 L175.06,522.17 L175.82,522.49 L176.57,522.81 L177.33,523.14 L178.08,523.47 L178.84,523.81 L179.59,524.16 L180.35,524.51 L181.11,524.86 L181.86,525.22 L182.62,525.58 L183.37,525.95 L184.13,526.32 L184.88,526.69 L185.64,527.07 L186.39,527.45 L187.15,527.83 L187.91,528.22 L188.66,528.61 L189.42,529.00 L190.17,529.40 L190.93,529.80 L191.68,530.20 L192.44,530.60 L193.19,531.00 L193.95,531.41 L194.71,531.82 L195.46,532.23 L196.22,532.64 L196.97,533.05 L197.73,533.46 L198.48,533.88 L199.24,534.30 L199.99,534.71 L200.75,535.13 L201.51,535.55 L202.26,535.97 L203.02,536.38 L203.77,536.80 L204.53,537.22 L205.28,537.64 L206.04,538.06 L206.79,538.48 L207.55,538.90 L208.30,539.32 L209.06,539.73 L209.82,540.15 L210.57,540.57 L211.33,540.98 L212.08,541.40 L212.84,541.81 L213.59,542.22 L214.35,542.64 L215.10,543.05 L215.86,543.45 L216.62,543.86 L217.37,544.27 L218.13,544.67 L218.88,545.08 L219.64,545.48 L220.39,545.88 L221.15,546.27 L221.90,546.67 L222.66,547.06 L223.42,547.45 L224.17,547.84 L224.93,548.23 L225.68,548.61 L226.44,548.99 L227.19,549.37 L227.95,549.74 L228.70,550.12 L229.46,550.49 L230.21,550.85 L230.97,551.21 L231.73,551.57 L232.48,551.93 L233.24,552.28 L233.99,552.63 L234.75,552.98 L235.50,553.32 L236.26,553.66 L237.01,554.00 L237.77,554.33 L238.53,554.66 L239.28,554.98 L240.04,555.30 L240.79,555.62 L241.55,555.93 L242.30,556.24 L243.06,556.55 L243.81,556.85 L244.57,557.14 L245.33,557.44 L246.08,557.73 L246.84,558.01 L247.59,558.29 L248.35,558.57 L249.10,558.84 L249.86,559.11 L250.61,559.38 L251.37,559.64 L252.12,559.89 L252.88,560.15 L253.64,560.40 L254.39,560.64 L255.15,560.89 L255.90,561.13 L256.66,561.37 L257.41,561.60 L258.17,561.84 L258.92,562.07 L259.68,562.30 L260.44,562.52 L261.19,562.75 L261.95,562.97 L262.70,563.19 L263.46,563.41 L264.21,563.63 L264.97,563.85 L265.72,564.06 L266.48,564.28 L267.24,564.49 L267.99,564.70 L268.75,564.92 L269.50,565.13 L270.26,565.34 L271.01,565.55 L271.77,565.76 L272.52,565.97 L273.28,566.18 L274.03,566.39 L274.79,566.60 L275.55,566.81 L276.30,567.03 L277.06,567.24 L277.81,567.45 L278.57,567.66 L279.32,567.87 L280.08,568.08 L280.83,568.30 L281.59,568.51 L282.35,568.72 L283.10,568.94 L283.86,569.15 L284.61,569.37 L285.37,569.59 L286.12,569.80 L286.88,570.02 L287.63,570.24 L288.39,570.46 L289.15,570.68 L289.90,570.91 L290.66,571.13 L291.41,571.35 L292.17,571.58 L292.92,571.81 L293.68,572.03 L294.43,572.26 L295.19,572.49 L295.94,572.72 L296.70,572.95 L297.46,573.18 L298.21,573.42 L298.97,573.65 L299.72,573.89 L300.48,574.12 L301.23,574.36 L301.99,574.60 L302.74,574.83 L303.50,575.07" fill="none" stroke="#5bc3ef" stroke-width="2" stroke-linejoin="round" clip-path="url(#clipE)"/>
<rect x="195.4" y="447.0" width="127.2" height="65.0" fill="#fff" stroke="#8a8a8a" stroke-width="1"/>
<line x1="198.40" y1="458.80" x2="227.70" y2="458.80" stroke="#3876c0" stroke-width="2" />
<line x1="265.40" y1="458.80" x2="294.40" y2="458.80" stroke="#e4b03a" stroke-width="2" />
<text x="230.00" y="460.80" font-size="13.40" text-anchor="start" fill="#262626" >A2<tspan font-size="10.5" dy="5.8">au</tspan></text>
<text x="297.00" y="460.80" font-size="13.40" text-anchor="start" fill="#262626" >A4</text>
<line x1="198.40" y1="479.90" x2="227.70" y2="479.90" stroke="#dc5824" stroke-width="2" />
<line x1="265.40" y1="479.90" x2="294.40" y2="479.90" stroke="#79b139" stroke-width="2" />
<text x="230.00" y="481.90" font-size="13.40" text-anchor="start" fill="#262626" >A2<tspan font-size="10.5" dy="5.8">gc</tspan></text>
<text x="297.00" y="481.90" font-size="13.40" text-anchor="start" fill="#262626" >A6<tspan font-size="12" dy="5.8">2</tspan></text>
<line x1="198.40" y1="501.00" x2="227.70" y2="501.00" stroke="#7e3290" stroke-width="2" />
<line x1="265.40" y1="501.00" x2="294.40" y2="501.00" stroke="#5bc3ef" stroke-width="2" />
<text x="230.00" y="503.00" font-size="13.40" text-anchor="start" fill="#262626" >A4*</text>
<text x="297.00" y="503.00" font-size="13.40" text-anchor="start" fill="#262626" >A6<tspan font-size="12" dy="5.8">3</tspan></text>
<g transform="translate(43.20,522.20) rotate(-90)">
<text x="0" y="0" font-size="18.6" text-anchor="middle" fill="#262626" textLength="194" lengthAdjust="spacingAndGlyphs">Mean pol. length <tspan class="sf" font-style="italic" font-size="19" dy="-4" dx="-1.5">l</tspan><tspan dy="4" dx="1.5"> (nt)</tspan></text>
</g>
<line x1="22.80" y1="460.90" x2="22.80" y2="465.90" stroke="#262626" stroke-width="0.9" />
<g transform="translate(0.30,420.20)">
<path d="M181.3,204.3 C181.9,202.1 183.3,200.9 184.8,201.1 C186.6,201.4 187.5,203.6 187.8,206.6 C187.9,208.9 187.2,211.0 186.3,212.9" fill="none" stroke="#262626" stroke-width="1.35" stroke-linecap="round"/>
<path d="M190.6,201.1 C189.8,203.1 188.8,205.1 187.9,207.3" fill="none" stroke="#262626" stroke-width="0.95" stroke-linecap="round"/>
</g>
<text x="191.30" y="638.90" font-size="16.30" text-anchor="start" fill="#262626" >0</text>
<line x1="432.00" y1="559.00" x2="656.01" y2="559.00" stroke="#ebebeb" stroke-width="1" />
<line x1="432.00" y1="523.80" x2="656.01" y2="523.80" stroke="#ebebeb" stroke-width="1" />
<line x1="432.00" y1="488.60" x2="656.01" y2="488.60" stroke="#ebebeb" stroke-width="1" />
<line x1="432.00" y1="453.40" x2="656.01" y2="453.40" stroke="#ebebeb" stroke-width="1" />
<line x1="432.00" y1="452.50" x2="432.00" y2="594.70" stroke="#808080" stroke-width="1" />
<line x1="431.50" y1="594.20" x2="656.51" y2="594.20" stroke="#808080" stroke-width="1" />
<line x1="432.00" y1="559.00" x2="437.00" y2="559.00" stroke="#808080" stroke-width="1" />
<line x1="432.00" y1="523.80" x2="437.00" y2="523.80" stroke="#808080" stroke-width="1" />
<line x1="432.00" y1="488.60" x2="437.00" y2="488.60" stroke="#808080" stroke-width="1" />
<line x1="432.00" y1="453.40" x2="437.00" y2="453.40" stroke="#808080" stroke-width="1" />
<line x1="506.67" y1="594.20" x2="506.67" y2="589.30" stroke="#808080" stroke-width="1" />
<line x1="581.34" y1="594.20" x2="581.34" y2="589.30" stroke="#808080" stroke-width="1" />
<line x1="656.01" y1="594.20" x2="656.01" y2="589.30" stroke="#808080" stroke-width="1" />
<text x="415.20" y="568.20" font-size="17.60" text-anchor="end" fill="#262626" textLength="21.53" lengthAdjust="spacingAndGlyphs">10</text>
<text x="416.00" y="558.40" font-size="13.20" text-anchor="start" fill="#262626" >2</text>
<text x="415.20" y="533.00" font-size="17.60" text-anchor="end" fill="#262626" textLength="21.53" lengthAdjust="spacingAndGlyphs">10</text>
<text x="416.00" y="523.20" font-size="13.20" text-anchor="start" fill="#262626" >4</text>
<text x="415.20" y="497.80" font-size="17.60" text-anchor="end" fill="#262626" textLength="21.53" lengthAdjust="spacingAndGlyphs">10</text>
<text x="416.00" y="488.00" font-size="13.20" text-anchor="start" fill="#262626" >6</text>
<text x="415.20" y="462.60" font-size="17.60" text-anchor="end" fill="#262626" textLength="21.53" lengthAdjust="spacingAndGlyphs">10</text>
<text x="416.00" y="452.80" font-size="13.20" text-anchor="start" fill="#262626" >8</text>
<text x="425.80" y="600.40" font-size="17.60" text-anchor="end" fill="#262626" >1</text>
<text x="432.00" y="616.20" font-size="17.60" text-anchor="middle" fill="#262626" >0</text>
<text x="506.67" y="616.20" font-size="17.60" text-anchor="middle" fill="#262626" >1</text>
<text x="581.34" y="616.20" font-size="17.60" text-anchor="middle" fill="#262626" >2</text>
<text x="656.01" y="616.20" font-size="17.60" text-anchor="middle" fill="#262626" >3</text>
<path d="M432.00,589.07 L432.75,589.09 L433.50,589.10 L434.25,589.10 L435.00,589.08 L435.75,589.05 L436.50,589.01 L437.24,588.94 L437.99,588.86 L438.74,588.76 L439.49,588.64 L440.24,588.50 L440.99,588.34 L441.74,588.15 L442.49,587.94 L443.24,587.70 L443.99,587.43 L444.74,587.14 L445.49,586.81 L446.23,586.46 L446.98,586.07 L447.73,585.65 L448.48,585.19 L449.23,584.70 L449.98,584.17 L450.73,583.60 L451.48,582.99 L452.23,582.34 L452.98,581.65 L453.73,580.92 L454.48,580.14 L455.23,579.32 L455.97,578.45 L456.72,577.53 L457.47,576.56 L458.22,575.55 L458.97,574.50 L459.72,573.40 L460.47,572.28 L461.22,571.12 L461.97,569.93 L462.72,568.73 L463.47,567.50 L464.22,566.26 L464.96,565.01 L465.71,563.75 L466.46,562.49 L467.21,561.23 L467.96,559.97 L468.71,558.72 L469.46,557.47 L470.21,556.24 L470.96,555.01 L471.71,553.79 L472.46,552.59 L473.21,551.40 L473.96,550.22 L474.70,549.06 L475.45,547.92 L476.20,546.79 L476.95,545.69 L477.70,544.60 L478.45,543.54 L479.20,542.50 L479.95,541.48 L480.70,540.49 L481.45,539.53 L482.20,538.59 L482.95,537.69 L483.69,536.81 L484.44,535.97 L485.19,535.16 L485.94,534.38 L486.69,533.64 L487.44,532.94 L488.19,532.27 L488.94,531.64 L489.69,531.05 L490.44,530.50 L491.19,530.00 L491.94,529.53 L492.68,529.10 L493.43,528.72 L494.18,528.36 L494.93,528.05 L495.68,527.77 L496.43,527.52 L497.18,527.31 L497.93,527.14 L498.68,526.99 L499.43,526.88 L500.18,526.79 L500.93,526.74 L501.68,526.71 L502.42,526.71 L503.17,526.74 L503.92,526.80 L504.67,526.88 L505.42,526.98 L506.17,527.11 L506.92,527.26 L507.67,527.43 L508.42,527.62 L509.17,527.83 L509.92,528.06 L510.67,528.31 L511.41,528.58 L512.16,528.86 L512.91,529.16 L513.66,529.47 L514.41,529.80 L515.16,530.14 L515.91,530.49 L516.66,530.85 L517.41,531.22 L518.16,531.60 L518.91,532.00 L519.66,532.40 L520.41,532.81 L521.15,533.23 L521.90,533.66 L522.65,534.10 L523.40,534.55 L524.15,535.01 L524.90,535.49 L525.65,535.97 L526.40,536.46 L527.15,536.97 L527.90,537.48 L528.65,538.01 L529.40,538.54 L530.14,539.09 L530.89,539.65 L531.64,540.22 L532.39,540.80 L533.14,541.40 L533.89,542.00 L534.64,542.62 L535.39,543.25 L536.14,543.89 L536.89,544.53 L537.64,545.18 L538.39,545.83 L539.14,546.48 L539.88,547.12 L540.63,547.76 L541.38,548.38 L542.13,549.00 L542.88,549.61 L543.63,550.22 L544.38,550.81 L545.13,551.40 L545.88,551.98 L546.63,552.56 L547.38,553.12 L548.13,553.68 L548.87,554.23 L549.62,554.78 L550.37,555.32 L551.12,555.85 L551.87,556.37 L552.62,556.89 L553.37,557.40 L554.12,557.91 L554.87,558.40 L555.62,558.90 L556.37,559.38 L557.12,559.86 L557.87,560.33 L558.61,560.80 L559.36,561.26 L560.11,561.72 L560.86,562.17 L561.61,562.61 L562.36,563.05 L563.11,563.48 L563.86,563.91 L564.61,564.33 L565.36,564.75 L566.11,565.16 L566.86,565.57 L567.60,565.97 L568.35,566.37 L569.10,566.76 L569.85,567.15 L570.60,567.53 L571.35,567.90 L572.10,568.28 L572.85,568.64 L573.60,569.01 L574.35,569.36 L575.10,569.72 L575.85,570.07 L576.60,570.41 L577.34,570.75 L578.09,571.08 L578.84,571.41 L579.59,571.74 L580.34,572.06 L581.09,572.38 L581.84,572.69 L582.59,573.00 L583.34,573.31 L584.09,573.61 L584.84,573.90 L585.59,574.19 L586.33,574.48 L587.08,574.77 L587.83,575.05 L588.58,575.32 L589.33,575.60 L590.08,575.86 L590.83,576.13 L591.58,576.39 L592.33,576.65 L593.08,576.90 L593.83,577.15 L594.58,577.40 L595.33,577.64 L596.07,577.88 L596.82,578.11 L597.57,578.35 L598.32,578.57 L599.07,578.80 L599.82,579.02 L600.57,579.24 L601.32,579.46 L602.07,579.67 L602.82,579.88 L603.57,580.08 L604.32,580.29 L605.06,580.49 L605.81,580.69 L606.56,580.88 L607.31,581.07 L608.06,581.26 L608.81,581.45 L609.56,581.63 L610.31,581.81 L611.06,581.99 L611.81,582.16 L612.56,582.33 L613.31,582.50 L614.05,582.67 L614.80,582.84 L615.55,583.00 L616.30,583.16 L617.05,583.32 L617.80,583.47 L618.55,583.62 L619.30,583.77 L620.05,583.92 L620.80,584.07 L621.55,584.21 L622.30,584.36 L623.05,584.50 L623.79,584.63 L624.54,584.77 L625.29,584.90 L626.04,585.04 L626.79,585.17 L627.54,585.30 L628.29,585.42 L629.04,585.55 L629.79,585.67 L630.54,585.80 L631.29,585.92 L632.04,586.04 L632.78,586.15 L633.53,586.27 L634.28,586.38 L635.03,586.50 L635.78,586.61 L636.53,586.72 L637.28,586.83 L638.03,586.94 L638.78,587.05 L639.53,587.15 L640.28,587.26 L641.03,587.36 L641.78,587.46 L642.52,587.57 L643.27,587.67 L644.02,587.77 L644.77,587.87 L645.52,587.96 L646.27,588.06 L647.02,588.16 L647.77,588.26 L648.52,588.35 L649.27,588.45 L650.02,588.54 L650.77,588.64 L651.51,588.73 L652.26,588.82 L653.01,588.92 L653.76,589.01 L654.51,589.10 L655.26,589.19 L656.01,589.29" fill="none" stroke="#3876c0" stroke-width="2" stroke-linejoin="round" clip-path="url(#clipF)"/>
<path d="M432.00,589.08 L432.75,589.16 L433.50,589.20 L434.25,589.19 L435.00,589.14 L435.75,589.03 L436.50,588.86 L437.24,588.63 L437.99,588.33 L438.74,587.95 L439.49,587.49 L440.24,586.96 L440.99,586.33 L441.74,585.62 L442.49,584.83 L443.24,583.99 L443.99,583.10 L444.74,582.16 L445.49,581.20 L446.23,580.22 L446.98,579.21 L447.73,578.14 L448.48,577.01 L449.23,575.80 L449.98,574.50 L450.73,573.08 L451.48,571.54 L452.23,569.89 L452.98,568.12 L453.73,566.28 L454.48,564.35 L455.23,562.38 L455.97,560.36 L456.72,558.31 L457.47,556.25 L458.22,554.20 L458.97,552.16 L459.72,550.16 L460.47,548.20 L461.22,546.31 L461.97,544.50 L462.72,542.78 L463.47,541.14 L464.22,539.58 L464.96,538.11 L465.71,536.72 L466.46,535.41 L467.21,534.20 L467.96,533.06 L468.71,532.02 L469.46,531.06 L470.21,530.18 L470.96,529.39 L471.71,528.69 L472.46,528.08 L473.21,527.55 L473.96,527.11 L474.70,526.75 L475.45,526.49 L476.20,526.32 L476.95,526.25 L477.70,526.27 L478.45,526.39 L479.20,526.61 L479.95,526.92 L480.70,527.29 L481.45,527.73 L482.20,528.21 L482.95,528.73 L483.69,529.27 L484.44,529.84 L485.19,530.43 L485.94,531.04 L486.69,531.67 L487.44,532.32 L488.19,532.99 L488.94,533.68 L489.69,534.38 L490.44,535.10 L491.19,535.83 L491.94,536.57 L492.68,537.32 L493.43,538.08 L494.18,538.85 L494.93,539.63 L495.68,540.41 L496.43,541.20 L497.18,542.00 L497.93,542.79 L498.68,543.59 L499.43,544.38 L500.18,545.18 L500.93,545.97 L501.68,546.76 L502.42,547.54 L503.17,548.32 L503.92,549.09 L504.67,549.85 L505.42,550.60 L506.17,551.34 L506.92,552.07 L507.67,552.80 L508.42,553.51 L509.17,554.21 L509.92,554.91 L510.67,555.59 L511.41,556.27 L512.16,556.93 L512.91,557.59 L513.66,558.24 L514.41,558.88 L515.16,559.51 L515.91,560.14 L516.66,560.76 L517.41,561.36 L518.16,561.96 L518.91,562.56 L519.66,563.14 L520.41,563.72 L521.15,564.29 L521.90,564.85 L522.65,565.40 L523.40,565.95 L524.15,566.49 L524.90,567.03 L525.65,567.56 L526.40,568.08 L527.15,568.59 L527.90,569.10 L528.65,569.60 L529.40,570.10 L530.14,570.58 L530.89,571.07 L531.64,571.54 L532.39,572.01 L533.14,572.47 L533.89,572.93 L534.64,573.38 L535.39,573.82 L536.14,574.26 L536.89,574.69 L537.64,575.11 L538.39,575.53 L539.14,575.94 L539.88,576.34 L540.63,576.74 L541.38,577.14 L542.13,577.52 L542.88,577.90 L543.63,578.28 L544.38,578.64 L545.13,579.01 L545.88,579.36 L546.63,579.71 L547.38,580.05 L548.13,580.39 L548.87,580.72 L549.62,581.05 L550.37,581.37 L551.12,581.68 L551.87,581.99 L552.62,582.29 L553.37,582.59 L554.12,582.88 L554.87,583.16 L555.62,583.44 L556.37,583.71 L557.12,583.98 L557.87,584.24 L558.61,584.50 L559.36,584.75 L560.11,585.00 L560.86,585.24 L561.61,585.47 L562.36,585.70 L563.11,585.93 L563.86,586.15 L564.61,586.37 L565.36,586.58 L566.11,586.78 L566.86,586.99 L567.60,587.18 L568.35,587.37 L569.10,587.56 L569.85,587.75 L570.60,587.92 L571.35,588.10 L572.10,588.27 L572.85,588.43 L573.60,588.59 L574.35,588.75 L575.10,588.90 L575.85,589.05 L576.60,589.20 L577.34,589.34 L578.09,589.47 L578.84,589.61 L579.59,589.74 L580.34,589.86 L581.09,589.98 L581.84,590.10 L582.59,590.22 L583.34,590.33 L584.09,590.44 L584.84,590.54 L585.59,590.64 L586.33,590.74 L587.08,590.83 L587.83,590.92 L588.58,591.01 L589.33,591.10 L590.08,591.18 L590.83,591.26 L591.58,591.33 L592.33,591.41 L593.08,591.48 L593.83,591.55 L594.58,591.61 L595.33,591.67 L596.07,591.73 L596.82,591.79 L597.57,591.85 L598.32,591.90 L599.07,591.95 L599.82,592.00 L600.57,592.04 L601.32,592.09 L602.07,592.13 L602.82,592.17 L603.57,592.21 L604.32,592.24 L605.06,592.28 L605.81,592.31 L606.56,592.34 L607.31,592.37 L608.06,592.39 L608.81,592.42 L609.56,592.44 L610.31,592.46 L611.06,592.49 L611.81,592.51 L612.56,592.52 L613.31,592.54 L614.05,592.56 L614.80,592.57 L615.55,592.59 L616.30,592.60 L617.05,592.61 L617.80,592.62 L618.55,592.63 L619.30,592.64 L620.05,592.65 L620.80,592.66 L621.55,592.66 L622.30,592.67 L623.05,592.68 L623.79,592.68 L624.54,592.69 L625.29,592.69 L626.04,592.70 L626.79,592.70 L627.54,592.71 L628.29,592.71 L629.04,592.71 L629.79,592.72 L630.54,592.72 L631.29,592.73 L632.04,592.73 L632.78,592.74 L633.53,592.74 L634.28,592.75 L635.03,592.75 L635.78,592.76 L636.53,592.77 L637.28,592.77 L638.03,592.78 L638.78,592.79 L639.53,592.80 L640.28,592.81 L641.03,592.82 L641.78,592.83 L642.52,592.85 L643.27,592.86 L644.02,592.87 L644.77,592.89 L645.52,592.91 L646.27,592.93 L647.02,592.95 L647.77,592.97 L648.52,592.99 L649.27,593.02 L650.02,593.04 L650.77,593.07 L651.51,593.10 L652.26,593.13 L653.01,593.16 L653.76,593.20 L654.51,593.23 L655.26,593.27 L656.01,593.31" fill="none" stroke="#dc5824" stroke-width="2" stroke-linejoin="round" clip-path="url(#clipF)"/>
<path d="M432.00,582.95 L432.75,583.34 L433.50,583.55 L434.25,583.59 L435.00,583.48 L435.75,583.23 L436.50,582.86 L437.24,582.37 L437.99,581.80 L438.74,581.14 L439.49,580.42 L440.24,579.65 L440.99,578.84 L441.74,578.01 L442.49,577.15 L443.24,576.25 L443.99,575.33 L444.74,574.38 L445.49,573.40 L446.23,572.39 L446.98,571.35 L447.73,570.28 L448.48,569.18 L449.23,568.06 L449.98,566.90 L450.73,565.71 L451.48,564.49 L452.23,563.23 L452.98,561.89 L453.73,560.46 L454.48,558.91 L455.23,557.21 L455.97,555.37 L456.72,553.39 L457.47,551.29 L458.22,549.09 L458.97,546.80 L459.72,544.44 L460.47,542.03 L461.22,539.58 L461.97,537.11 L462.72,534.64 L463.47,532.18 L464.22,529.75 L464.96,527.36 L465.71,525.03 L466.46,522.74 L467.21,520.47 L467.96,518.21 L468.71,515.94 L469.46,513.65 L470.21,511.31 L470.96,508.93 L471.71,506.52 L472.46,504.10 L473.21,501.70 L473.96,499.33 L474.70,497.02 L475.45,494.78 L476.20,492.64 L476.95,490.61 L477.70,488.69 L478.45,486.89 L479.20,485.19 L479.95,483.59 L480.70,482.09 L481.45,480.67 L482.20,479.35 L482.95,478.11 L483.69,476.95 L484.44,475.86 L485.19,474.84 L485.94,473.89 L486.69,473.01 L487.44,472.19 L488.19,471.43 L488.94,470.74 L489.69,470.11 L490.44,469.55 L491.19,469.04 L491.94,468.59 L492.68,468.20 L493.43,467.87 L494.18,467.59 L494.93,467.37 L495.68,467.20 L496.43,467.08 L497.18,467.02 L497.93,467.01 L498.68,467.05 L499.43,467.13 L500.18,467.27 L500.93,467.45 L501.68,467.68 L502.42,467.96 L503.17,468.27 L503.92,468.63 L504.67,469.04 L505.42,469.48 L506.17,469.96 L506.92,470.49 L507.67,471.05 L508.42,471.64 L509.17,472.28 L509.92,472.95 L510.67,473.65 L511.41,474.38 L512.16,475.14 L512.91,475.93 L513.66,476.75 L514.41,477.58 L515.16,478.44 L515.91,479.31 L516.66,480.20 L517.41,481.10 L518.16,482.02 L518.91,482.94 L519.66,483.87 L520.41,484.80 L521.15,485.73 L521.90,486.66 L522.65,487.59 L523.40,488.52 L524.15,489.44 L524.90,490.34 L525.65,491.24 L526.40,492.13 L527.15,493.01 L527.90,493.88 L528.65,494.75 L529.40,495.62 L530.14,496.49 L530.89,497.37 L531.64,498.24 L532.39,499.13 L533.14,500.02 L533.89,500.92 L534.64,501.83 L535.39,502.76 L536.14,503.70 L536.89,504.66 L537.64,505.64 L538.39,506.65 L539.14,507.67 L539.88,508.72 L540.63,509.80 L541.38,510.90 L542.13,512.03 L542.88,513.16 L543.63,514.31 L544.38,515.46 L545.13,516.62 L545.88,517.77 L546.63,518.91 L547.38,520.04 L548.13,521.15 L548.87,522.25 L549.62,523.32 L550.37,524.35 L551.12,525.36 L551.87,526.34 L552.62,527.28 L553.37,528.20 L554.12,529.10 L554.87,529.97 L555.62,530.81 L556.37,531.63 L557.12,532.43 L557.87,533.22 L558.61,533.98 L559.36,534.73 L560.11,535.46 L560.86,536.17 L561.61,536.88 L562.36,537.57 L563.11,538.25 L563.86,538.92 L564.61,539.58 L565.36,540.24 L566.11,540.89 L566.86,541.53 L567.60,542.17 L568.35,542.80 L569.10,543.43 L569.85,544.05 L570.60,544.67 L571.35,545.27 L572.10,545.88 L572.85,546.47 L573.60,547.07 L574.35,547.65 L575.10,548.23 L575.85,548.81 L576.60,549.37 L577.34,549.94 L578.09,550.49 L578.84,551.05 L579.59,551.59 L580.34,552.13 L581.09,552.67 L581.84,553.20 L582.59,553.72 L583.34,554.24 L584.09,554.76 L584.84,555.26 L585.59,555.77 L586.33,556.26 L587.08,556.76 L587.83,557.25 L588.58,557.73 L589.33,558.20 L590.08,558.68 L590.83,559.14 L591.58,559.61 L592.33,560.06 L593.08,560.52 L593.83,560.96 L594.58,561.40 L595.33,561.84 L596.07,562.27 L596.82,562.70 L597.57,563.13 L598.32,563.54 L599.07,563.96 L599.82,564.37 L600.57,564.77 L601.32,565.17 L602.07,565.57 L602.82,565.96 L603.57,566.34 L604.32,566.72 L605.06,567.10 L605.81,567.47 L606.56,567.84 L607.31,568.20 L608.06,568.56 L608.81,568.92 L609.56,569.27 L610.31,569.62 L611.06,569.96 L611.81,570.30 L612.56,570.63 L613.31,570.96 L614.05,571.29 L614.80,571.61 L615.55,571.93 L616.30,572.24 L617.05,572.55 L617.80,572.85 L618.55,573.16 L619.30,573.45 L620.05,573.75 L620.80,574.04 L621.55,574.33 L622.30,574.61 L623.05,574.89 L623.79,575.16 L624.54,575.43 L625.29,575.70 L626.04,575.97 L626.79,576.23 L627.54,576.49 L628.29,576.74 L629.04,576.99 L629.79,577.24 L630.54,577.48 L631.29,577.72 L632.04,577.96 L632.78,578.19 L633.53,578.42 L634.28,578.65 L635.03,578.87 L635.78,579.09 L636.53,579.31 L637.28,579.52 L638.03,579.74 L638.78,579.94 L639.53,580.15 L640.28,580.35 L641.03,580.55 L641.78,580.75 L642.52,580.94 L643.27,581.13 L644.02,581.32 L644.77,581.50 L645.52,581.68 L646.27,581.86 L647.02,582.04 L647.77,582.21 L648.52,582.38 L649.27,582.55 L650.02,582.72 L650.77,582.88 L651.51,583.04 L652.26,583.20 L653.01,583.36 L653.76,583.51 L654.51,583.66 L655.26,583.81 L656.01,583.96" fill="none" stroke="#7e3290" stroke-width="2" stroke-linejoin="round" clip-path="url(#clipF)"/>
<path d="M432.00,583.27 L432.75,583.29 L433.50,583.25 L434.25,583.14 L435.00,582.97 L435.75,582.74 L436.50,582.44 L437.24,582.08 L437.99,581.67 L438.74,581.19 L439.49,580.65 L440.24,580.06 L440.99,579.40 L441.74,578.69 L442.49,577.92 L443.24,577.09 L443.99,576.21 L444.74,575.28 L445.49,574.28 L446.23,573.24 L446.98,572.14 L447.73,570.98 L448.48,569.78 L449.23,568.52 L449.98,567.22 L450.73,565.86 L451.48,564.45 L452.23,562.99 L452.98,561.49 L453.73,559.95 L454.48,558.37 L455.23,556.76 L455.97,555.12 L456.72,553.44 L457.47,551.75 L458.22,550.03 L458.97,548.29 L459.72,546.54 L460.47,544.77 L461.22,543.00 L461.97,541.22 L462.72,539.44 L463.47,537.65 L464.22,535.86 L464.96,534.07 L465.71,532.28 L466.46,530.48 L467.21,528.69 L467.96,526.89 L468.71,525.09 L469.46,523.30 L470.21,521.52 L470.96,519.74 L471.71,517.98 L472.46,516.24 L473.21,514.53 L473.96,512.85 L474.70,511.20 L475.45,509.60 L476.20,508.04 L476.95,506.53 L477.70,505.08 L478.45,503.69 L479.20,502.36 L479.95,501.11 L480.70,499.94 L481.45,498.84 L482.20,497.81 L482.95,496.84 L483.69,495.94 L484.44,495.10 L485.19,494.32 L485.94,493.59 L486.69,492.91 L487.44,492.29 L488.19,491.70 L488.94,491.16 L489.69,490.66 L490.44,490.19 L491.19,489.75 L491.94,489.35 L492.68,488.97 L493.43,488.61 L494.18,488.28 L494.93,487.97 L495.68,487.69 L496.43,487.43 L497.18,487.20 L497.93,487.00 L498.68,486.82 L499.43,486.67 L500.18,486.55 L500.93,486.46 L501.68,486.40 L502.42,486.36 L503.17,486.36 L503.92,486.38 L504.67,486.43 L505.42,486.51 L506.17,486.62 L506.92,486.75 L507.67,486.91 L508.42,487.10 L509.17,487.31 L509.92,487.54 L510.67,487.80 L511.41,488.08 L512.16,488.39 L512.91,488.72 L513.66,489.06 L514.41,489.43 L515.16,489.82 L515.91,490.23 L516.66,490.66 L517.41,491.11 L518.16,491.57 L518.91,492.06 L519.66,492.56 L520.41,493.07 L521.15,493.61 L521.90,494.15 L522.65,494.72 L523.40,495.29 L524.15,495.88 L524.90,496.48 L525.65,497.10 L526.40,497.72 L527.15,498.36 L527.90,499.01 L528.65,499.67 L529.40,500.34 L530.14,501.02 L530.89,501.70 L531.64,502.39 L532.39,503.09 L533.14,503.80 L533.89,504.51 L534.64,505.23 L535.39,505.96 L536.14,506.68 L536.89,507.41 L537.64,508.15 L538.39,508.89 L539.14,509.63 L539.88,510.37 L540.63,511.11 L541.38,511.85 L542.13,512.59 L542.88,513.34 L543.63,514.08 L544.38,514.82 L545.13,515.56 L545.88,516.30 L546.63,517.03 L547.38,517.77 L548.13,518.50 L548.87,519.23 L549.62,519.96 L550.37,520.68 L551.12,521.40 L551.87,522.11 L552.62,522.82 L553.37,523.53 L554.12,524.23 L554.87,524.93 L555.62,525.62 L556.37,526.30 L557.12,526.98 L557.87,527.65 L558.61,528.31 L559.36,528.97 L560.11,529.62 L560.86,530.26 L561.61,530.89 L562.36,531.52 L563.11,532.13 L563.86,532.74 L564.61,533.34 L565.36,533.92 L566.11,534.50 L566.86,535.07 L567.60,535.63 L568.35,536.18 L569.10,536.72 L569.85,537.26 L570.60,537.79 L571.35,538.31 L572.10,538.83 L572.85,539.34 L573.60,539.85 L574.35,540.36 L575.10,540.86 L575.85,541.36 L576.60,541.86 L577.34,542.36 L578.09,542.85 L578.84,543.35 L579.59,543.85 L580.34,544.34 L581.09,544.84 L581.84,545.34 L582.59,545.85 L583.34,546.35 L584.09,546.85 L584.84,547.36 L585.59,547.87 L586.33,548.37 L587.08,548.88 L587.83,549.39 L588.58,549.89 L589.33,550.40 L590.08,550.90 L590.83,551.40 L591.58,551.90 L592.33,552.40 L593.08,552.90 L593.83,553.39 L594.58,553.88 L595.33,554.36 L596.07,554.85 L596.82,555.32 L597.57,555.80 L598.32,556.27 L599.07,556.73 L599.82,557.19 L600.57,557.64 L601.32,558.09 L602.07,558.53 L602.82,558.96 L603.57,559.38 L604.32,559.80 L605.06,560.22 L605.81,560.62 L606.56,561.02 L607.31,561.42 L608.06,561.81 L608.81,562.19 L609.56,562.56 L610.31,562.93 L611.06,563.30 L611.81,563.65 L612.56,564.01 L613.31,564.35 L614.05,564.69 L614.80,565.03 L615.55,565.36 L616.30,565.68 L617.05,566.00 L617.80,566.32 L618.55,566.62 L619.30,566.93 L620.05,567.23 L620.80,567.52 L621.55,567.81 L622.30,568.09 L623.05,568.37 L623.79,568.65 L624.54,568.92 L625.29,569.19 L626.04,569.45 L626.79,569.71 L627.54,569.96 L628.29,570.21 L629.04,570.45 L629.79,570.70 L630.54,570.93 L631.29,571.17 L632.04,571.40 L632.78,571.63 L633.53,571.85 L634.28,572.07 L635.03,572.28 L635.78,572.50 L636.53,572.71 L637.28,572.91 L638.03,573.12 L638.78,573.32 L639.53,573.52 L640.28,573.71 L641.03,573.90 L641.78,574.09 L642.52,574.28 L643.27,574.47 L644.02,574.65 L644.77,574.83 L645.52,575.01 L646.27,575.18 L647.02,575.36 L647.77,575.53 L648.52,575.70 L649.27,575.86 L650.02,576.03 L650.77,576.19 L651.51,576.36 L652.26,576.52 L653.01,576.68 L653.76,576.84 L654.51,576.99 L655.26,577.15 L656.01,577.30" fill="none" stroke="#e4b03a" stroke-width="2" stroke-linejoin="round" clip-path="url(#clipF)"/>
<path d="M432.00,581.87 L432.75,581.96 L433.50,581.95 L434.25,581.87 L435.00,581.70 L435.75,581.46 L436.50,581.14 L437.24,580.75 L437.99,580.28 L438.74,579.75 L439.49,579.15 L440.24,578.48 L440.99,577.75 L441.74,576.97 L442.49,576.12 L443.24,575.23 L443.99,574.28 L444.74,573.27 L445.49,572.22 L446.23,571.13 L446.98,569.99 L447.73,568.81 L448.48,567.60 L449.23,566.34 L449.98,565.06 L450.73,563.74 L451.48,562.39 L452.23,561.02 L452.98,559.62 L453.73,558.21 L454.48,556.78 L455.23,555.33 L455.97,553.88 L456.72,552.43 L457.47,550.98 L458.22,549.52 L458.97,548.08 L459.72,546.64 L460.47,545.22 L461.22,543.81 L461.97,542.43 L462.72,541.06 L463.47,539.69 L464.22,538.33 L464.96,536.96 L465.71,535.58 L466.46,534.18 L467.21,532.75 L467.96,531.28 L468.71,529.77 L469.46,528.20 L470.21,526.58 L470.96,524.90 L471.71,523.16 L472.46,521.39 L473.21,519.60 L473.96,517.79 L474.70,515.98 L475.45,514.18 L476.20,512.41 L476.95,510.67 L477.70,508.98 L478.45,507.34 L479.20,505.78 L479.95,504.30 L480.70,502.91 L481.45,501.61 L482.20,500.40 L482.95,499.26 L483.69,498.20 L484.44,497.21 L485.19,496.29 L485.94,495.42 L486.69,494.62 L487.44,493.86 L488.19,493.15 L488.94,492.49 L489.69,491.86 L490.44,491.27 L491.19,490.71 L491.94,490.17 L492.68,489.65 L493.43,489.15 L494.18,488.67 L494.93,488.20 L495.68,487.75 L496.43,487.32 L497.18,486.90 L497.93,486.50 L498.68,486.12 L499.43,485.76 L500.18,485.41 L500.93,485.08 L501.68,484.77 L502.42,484.48 L503.17,484.20 L503.92,483.94 L504.67,483.69 L505.42,483.47 L506.17,483.26 L506.92,483.07 L507.67,482.89 L508.42,482.74 L509.17,482.60 L509.92,482.48 L510.67,482.37 L511.41,482.29 L512.16,482.22 L512.91,482.16 L513.66,482.13 L514.41,482.11 L515.16,482.11 L515.91,482.13 L516.66,482.16 L517.41,482.21 L518.16,482.28 L518.91,482.37 L519.66,482.47 L520.41,482.59 L521.15,482.73 L521.90,482.88 L522.65,483.05 L523.40,483.23 L524.15,483.42 L524.90,483.63 L525.65,483.85 L526.40,484.09 L527.15,484.33 L527.90,484.59 L528.65,484.87 L529.40,485.15 L530.14,485.44 L530.89,485.75 L531.64,486.06 L532.39,486.39 L533.14,486.72 L533.89,487.07 L534.64,487.42 L535.39,487.78 L536.14,488.15 L536.89,488.53 L537.64,488.91 L538.39,489.30 L539.14,489.70 L539.88,490.10 L540.63,490.51 L541.38,490.93 L542.13,491.34 L542.88,491.77 L543.63,492.20 L544.38,492.63 L545.13,493.07 L545.88,493.52 L546.63,493.97 L547.38,494.42 L548.13,494.88 L548.87,495.34 L549.62,495.80 L550.37,496.27 L551.12,496.75 L551.87,497.23 L552.62,497.71 L553.37,498.19 L554.12,498.68 L554.87,499.17 L555.62,499.67 L556.37,500.17 L557.12,500.67 L557.87,501.17 L558.61,501.68 L559.36,502.19 L560.11,502.70 L560.86,503.22 L561.61,503.73 L562.36,504.25 L563.11,504.77 L563.86,505.30 L564.61,505.82 L565.36,506.35 L566.11,506.88 L566.86,507.40 L567.60,507.94 L568.35,508.47 L569.10,509.00 L569.85,509.54 L570.60,510.07 L571.35,510.61 L572.10,511.14 L572.85,511.68 L573.60,512.22 L574.35,512.76 L575.10,513.30 L575.85,513.83 L576.60,514.37 L577.34,514.91 L578.09,515.45 L578.84,515.99 L579.59,516.52 L580.34,517.06 L581.09,517.59 L581.84,518.13 L582.59,518.66 L583.34,519.20 L584.09,519.73 L584.84,520.26 L585.59,520.79 L586.33,521.32 L587.08,521.84 L587.83,522.37 L588.58,522.90 L589.33,523.42 L590.08,523.94 L590.83,524.46 L591.58,524.98 L592.33,525.50 L593.08,526.01 L593.83,526.53 L594.58,527.04 L595.33,527.55 L596.07,528.06 L596.82,528.56 L597.57,529.07 L598.32,529.57 L599.07,530.07 L599.82,530.57 L600.57,531.06 L601.32,531.56 L602.07,532.05 L602.82,532.54 L603.57,533.03 L604.32,533.51 L605.06,533.99 L605.81,534.47 L606.56,534.95 L607.31,535.42 L608.06,535.89 L608.81,536.36 L609.56,536.83 L610.31,537.29 L611.06,537.75 L611.81,538.21 L612.56,538.66 L613.31,539.11 L614.05,539.56 L614.80,540.00 L615.55,540.44 L616.30,540.88 L617.05,541.31 L617.80,541.75 L618.55,542.17 L619.30,542.60 L620.05,543.02 L620.80,543.43 L621.55,543.85 L622.30,544.26 L623.05,544.66 L623.79,545.06 L624.54,545.46 L625.29,545.85 L626.04,546.24 L626.79,546.63 L627.54,547.01 L628.29,547.39 L629.04,547.76 L629.79,548.13 L630.54,548.50 L631.29,548.86 L632.04,549.21 L632.78,549.56 L633.53,549.91 L634.28,550.25 L635.03,550.59 L635.78,550.92 L636.53,551.25 L637.28,551.58 L638.03,551.89 L638.78,552.21 L639.53,552.52 L640.28,552.82 L641.03,553.12 L641.78,553.41 L642.52,553.70 L643.27,553.98 L644.02,554.26 L644.77,554.53 L645.52,554.80 L646.27,555.06 L647.02,555.32 L647.77,555.57 L648.52,555.81 L649.27,556.05 L650.02,556.29 L650.77,556.52 L651.51,556.74 L652.26,556.95 L653.01,557.16 L653.76,557.37 L654.51,557.57 L655.26,557.76 L656.01,557.95" fill="none" stroke="#79b139" stroke-width="2" stroke-linejoin="round" clip-path="url(#clipF)"/>
<path d="M432.00,579.94 L432.75,580.19 L433.50,580.33 L434.25,580.35 L435.00,580.26 L435.75,580.07 L436.50,579.78 L437.24,579.39 L437.99,578.90 L438.74,578.32 L439.49,577.65 L440.24,576.90 L440.99,576.07 L441.74,575.16 L442.49,574.17 L443.24,573.11 L443.99,571.98 L444.74,570.79 L445.49,569.53 L446.23,568.22 L446.98,566.86 L447.73,565.44 L448.48,563.97 L449.23,562.46 L449.98,560.91 L450.73,559.32 L451.48,557.69 L452.23,556.04 L452.98,554.36 L453.73,552.65 L454.48,550.93 L455.23,549.19 L455.97,547.44 L456.72,545.69 L457.47,543.93 L458.22,542.18 L458.97,540.43 L459.72,538.69 L460.47,536.97 L461.22,535.26 L461.97,533.57 L462.72,531.91 L463.47,530.26 L464.22,528.62 L464.96,526.99 L465.71,525.36 L466.46,523.74 L467.21,522.10 L467.96,520.46 L468.71,518.82 L469.46,517.16 L470.21,515.51 L470.96,513.86 L471.71,512.21 L472.46,510.58 L473.21,508.96 L473.96,507.36 L474.70,505.79 L475.45,504.25 L476.20,502.75 L476.95,501.29 L477.70,499.87 L478.45,498.51 L479.20,497.20 L479.95,495.95 L480.70,494.77 L481.45,493.65 L482.20,492.59 L482.95,491.59 L483.69,490.66 L484.44,489.78 L485.19,488.95 L485.94,488.19 L486.69,487.47 L487.44,486.81 L488.19,486.19 L488.94,485.63 L489.69,485.11 L490.44,484.64 L491.19,484.21 L491.94,483.83 L492.68,483.49 L493.43,483.18 L494.18,482.92 L494.93,482.69 L495.68,482.50 L496.43,482.34 L497.18,482.21 L497.93,482.11 L498.68,482.05 L499.43,482.01 L500.18,482.00 L500.93,482.01 L501.68,482.04 L502.42,482.10 L503.17,482.18 L503.92,482.28 L504.67,482.39 L505.42,482.53 L506.17,482.68 L506.92,482.86 L507.67,483.05 L508.42,483.25 L509.17,483.48 L509.92,483.71 L510.67,483.97 L511.41,484.24 L512.16,484.52 L512.91,484.82 L513.66,485.13 L514.41,485.46 L515.16,485.79 L515.91,486.14 L516.66,486.50 L517.41,486.88 L518.16,487.26 L518.91,487.65 L519.66,488.05 L520.41,488.47 L521.15,488.89 L521.90,489.31 L522.65,489.75 L523.40,490.19 L524.15,490.64 L524.90,491.10 L525.65,491.56 L526.40,492.03 L527.15,492.50 L527.90,492.98 L528.65,493.46 L529.40,493.94 L530.14,494.43 L530.89,494.92 L531.64,495.41 L532.39,495.90 L533.14,496.39 L533.89,496.89 L534.64,497.38 L535.39,497.87 L536.14,498.37 L536.89,498.86 L537.64,499.35 L538.39,499.84 L539.14,500.34 L539.88,500.84 L540.63,501.33 L541.38,501.84 L542.13,502.34 L542.88,502.84 L543.63,503.35 L544.38,503.87 L545.13,504.39 L545.88,504.91 L546.63,505.44 L547.38,505.97 L548.13,506.51 L548.87,507.05 L549.62,507.60 L550.37,508.16 L551.12,508.73 L551.87,509.30 L552.62,509.87 L553.37,510.45 L554.12,511.04 L554.87,511.63 L555.62,512.22 L556.37,512.82 L557.12,513.41 L557.87,514.01 L558.61,514.61 L559.36,515.21 L560.11,515.81 L560.86,516.41 L561.61,517.01 L562.36,517.61 L563.11,518.20 L563.86,518.79 L564.61,519.38 L565.36,519.96 L566.11,520.54 L566.86,521.12 L567.60,521.69 L568.35,522.25 L569.10,522.81 L569.85,523.37 L570.60,523.93 L571.35,524.48 L572.10,525.02 L572.85,525.57 L573.60,526.11 L574.35,526.64 L575.10,527.17 L575.85,527.70 L576.60,528.23 L577.34,528.75 L578.09,529.27 L578.84,529.79 L579.59,530.30 L580.34,530.81 L581.09,531.32 L581.84,531.82 L582.59,532.32 L583.34,532.82 L584.09,533.32 L584.84,533.81 L585.59,534.30 L586.33,534.79 L587.08,535.28 L587.83,535.77 L588.58,536.25 L589.33,536.73 L590.08,537.21 L590.83,537.69 L591.58,538.16 L592.33,538.63 L593.08,539.11 L593.83,539.58 L594.58,540.04 L595.33,540.51 L596.07,540.98 L596.82,541.44 L597.57,541.90 L598.32,542.37 L599.07,542.83 L599.82,543.29 L600.57,543.75 L601.32,544.20 L602.07,544.66 L602.82,545.12 L603.57,545.57 L604.32,546.03 L605.06,546.48 L605.81,546.94 L606.56,547.39 L607.31,547.84 L608.06,548.29 L608.81,548.73 L609.56,549.18 L610.31,549.62 L611.06,550.06 L611.81,550.50 L612.56,550.94 L613.31,551.37 L614.05,551.80 L614.80,552.23 L615.55,552.66 L616.30,553.08 L617.05,553.50 L617.80,553.92 L618.55,554.33 L619.30,554.75 L620.05,555.15 L620.80,555.56 L621.55,555.96 L622.30,556.35 L623.05,556.74 L623.79,557.13 L624.54,557.52 L625.29,557.89 L626.04,558.27 L626.79,558.64 L627.54,559.00 L628.29,559.37 L629.04,559.72 L629.79,560.07 L630.54,560.42 L631.29,560.76 L632.04,561.09 L632.78,561.42 L633.53,561.74 L634.28,562.06 L635.03,562.37 L635.78,562.67 L636.53,562.97 L637.28,563.27 L638.03,563.55 L638.78,563.83 L639.53,564.10 L640.28,564.37 L641.03,564.63 L641.78,564.88 L642.52,565.12 L643.27,565.36 L644.02,565.59 L644.77,565.81 L645.52,566.03 L646.27,566.23 L647.02,566.43 L647.77,566.62 L648.52,566.81 L649.27,566.98 L650.02,567.14 L650.77,567.30 L651.51,567.45 L652.26,567.59 L653.01,567.72 L653.76,567.84 L654.51,567.95 L655.26,568.05 L656.01,568.15" fill="none" stroke="#5bc3ef" stroke-width="2" stroke-linejoin="round" clip-path="url(#clipF)"/>
<g transform="translate(386.90,524.00) rotate(-90)">
<text x="0" y="0" font-size="18.60" text-anchor="middle" fill="#262626" textLength="166.0" lengthAdjust="spacingAndGlyphs">Molecular diversity</text>
</g>
<g transform="translate(353.20,420.50)">
<path d="M181.3,204.3 C181.9,202.1 183.3,200.9 184.8,201.1 C186.6,201.4 187.5,203.6 187.8,206.6 C187.9,208.9 187.2,211.0 186.3,212.9" fill="none" stroke="#262626" stroke-width="1.35" stroke-linecap="round"/>
<path d="M190.6,201.1 C189.8,203.1 188.8,205.1 187.9,207.3" fill="none" stroke="#262626" stroke-width="0.95" stroke-linecap="round"/>
</g>
<text x="544.20" y="639.20" font-size="16.30" text-anchor="start" fill="#262626" >0</text>
</svg></div></body></html>
